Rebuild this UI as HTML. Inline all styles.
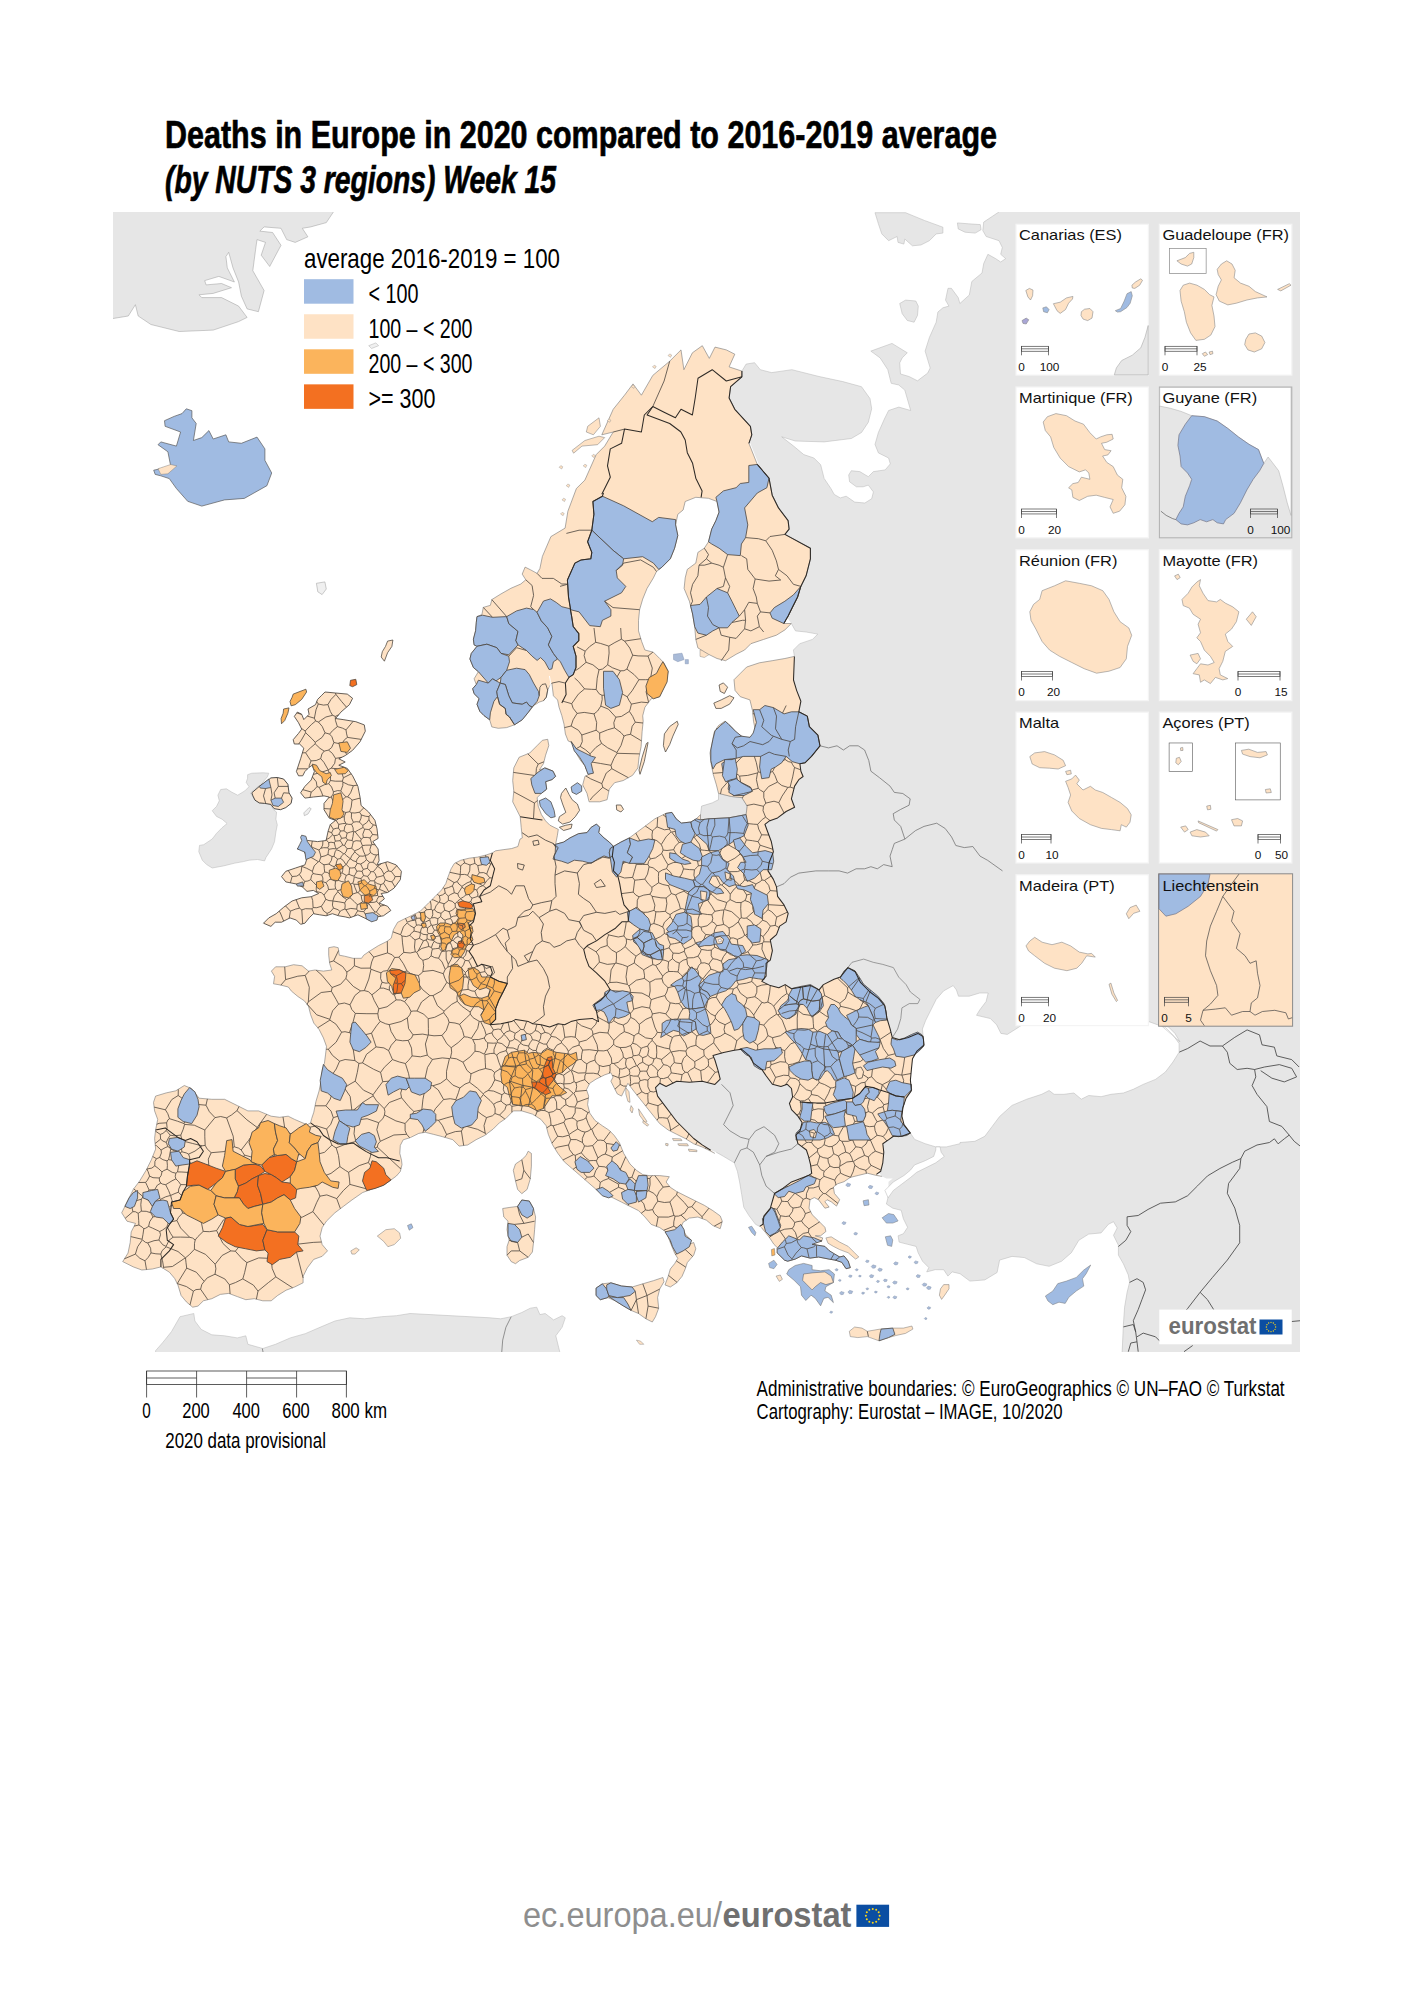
<!DOCTYPE html>
<html><head><meta charset="utf-8"><title>Deaths in Europe in 2020 compared to 2016-2019 average</title>
<style>html,body{margin:0;padding:0;background:#fff}svg{display:block}text{font-family:"Liberation Sans",sans-serif}</style>
</head><body>
<svg width="1414" height="2000" viewBox="0 0 1414 2000">
<rect width="1414" height="2000" fill="#fff"/>
<defs><clipPath id="mapclip"><rect x="113" y="212" width="1187" height="1140"/></clipPath></defs>
<g clip-path="url(#mapclip)">
<polygon points="111.3,209.9 334.8,209.9 326.3,222.6 310.7,226.9 302.3,228.3 307.9,236.8 295.2,242.4 286.7,239.6 281,228.3 264.1,226.9 259.8,231.1 272.6,232.5 281,245.3 269.7,266.5 261.2,255.2 265.5,242.4 257,239.6 255.6,249.5 252.8,270.7 264.1,290.5 258.4,311.7 247.1,308.9 241.4,296.2 238.6,282 233,267.9 228.7,252.3 225.9,256.6 227.3,267.9 234.4,282 218.8,276.4 204.7,280.6 206.1,284.9 221.6,283.5 231.5,287.7 213.2,293.4 199,294.8 201.8,297.6 221.6,297.6 238.6,306.1 247.1,317.4 238.6,321.6 213.2,330.1 179.2,331.5 150.9,324.5 138.2,316 135.4,304.7 128.3,316 111.3,318.8" fill="#e6e6e6" stroke="#9a9a9a" stroke-width="0.5" stroke-linejoin="round"/>
<polygon points="247.6,774.7 251.8,773.2 263.2,772.8 268.8,773.2 267.4,776.8 260.3,785.3 257.5,786.7 250.4,793 254.7,799.4 259.6,803.6 266,802.9 270.9,805.1 273.1,809.3 276.6,812.1 275.9,819.2 277.3,824.9 275.9,831.9 274.5,841.8 271.6,848.9 266,857.4 264.6,860.9 257.5,859.5 249,860.2 243.4,861.6 234.9,863.1 223.6,865.9 212.2,868 206.6,864.5 202.3,860.2 198.8,851.7 199.5,845.4 203.7,844.7 212.2,839 216.5,833.4 222.1,827.7 227.1,823.5 222.1,819.2 216.5,816.4 212.2,810.7 216.5,806.5 219.3,800.8 217.9,795.2 220.7,789.5 226.4,788.8 232,792.3 237.7,795.2 244.8,790.9 249,786.7 246.2,782.4 247.6,778.2" fill="#e6e6e6" stroke="#b5b5b5" stroke-width="0.5" stroke-linejoin="round"/>
<polygon points="875,212.7 905.6,212.7 924.3,220.4 942.9,227.2 942.9,233.1 936.2,233.9 929.4,240.7 920.9,245 912.4,245.8 904.8,239 903.9,244.1 898,242.4 897.1,236.5 888.6,240.7 881.8,233.9 878.4,223.8" fill="#e6e6e6" stroke="#b5b5b5" stroke-width="0.5" stroke-linejoin="round"/>
<polygon points="957.4,222.9 968.4,223.8 980.3,224.6 981.1,229.7 975.2,233.1 965,232.2 958.2,228.9" fill="#e6e6e6" stroke="#b5b5b5" stroke-width="0.5" stroke-linejoin="round"/>
<polygon points="899.7,303.5 905.6,300.1 915.8,301 918.3,306.1 917.5,315.4 914.1,322.2 907.3,320.5 902.2,313.7" fill="#e6e6e6" stroke="#b5b5b5" stroke-width="0.5" stroke-linejoin="round"/>
<polygon points="701.6,806.1 712.2,802.9 718.5,799.7 718.5,793.4 731.3,796.5 741.9,797.6 747.2,806.1 746.1,814.6 729.1,817.8 709,818.8 700.5,819.9 700.5,814.6" fill="#e6e6e6" stroke="#aaa" stroke-width="0.5" stroke-linejoin="round"/>
<polygon points="741.9,371.1 746.1,364.1 754.6,362.7 760.3,369.7 771.6,372.6 780,371.4 791.9,369.7 819,376.5 842.8,381.6 861.5,386.7 870,398.6 871.7,408.8 868.3,422.3 861.5,432.5 851.3,438.5 824.1,441.9 795.3,441 781.7,436.8 793.6,446.1 803.8,454.6 813.9,458 820.7,464.8 824.1,478.4 830.9,488.5 834.3,494.5 840.3,497.9 846.2,496.2 854.7,502.1 864.9,503 871.7,498.7 873.4,491.9 868.3,485.1 863.2,486.8 856.4,486.8 849.6,481.8 848.7,475 851.3,470.7 859.8,471.6 868.3,476.7 873.4,471.6 885.2,469.9 890.3,463.9 888.6,458 878.4,452.9 875,444.4 878.4,432.5 884.4,419 888.6,410.5 898.8,407.1 910.7,410.5 904.8,390.1 898.8,385 891.2,383.3 887.8,369.7 880.1,357.9 870.8,351.1 892,343.4 907.3,352.8 902.2,357.9 899.7,362.9 900.5,374 909,376.5 917.5,380.8 927.7,373.1 930.2,368 925.1,351.1 929.4,337.5 936.2,322.2 937.9,312 942.9,307.8 948.9,306.1 945.5,300.1 948,288.3 951.4,288.3 958.2,297.6 959.9,303.5 969.3,295 971.8,281.5 982,273 983.7,263.6 987.9,254.3 995.6,258.6 1000.7,262 1005.7,258.6 1000.7,254.3 1002.3,247.5 999,240.7 986.2,236.5 982.8,230.6 983.7,222.1 999,211.9 1300,212 1300,1352 1122.1,1352.9 1123.4,1324.5 1124.6,1307.1 1127.1,1292.3 1129.6,1282.4 1128.3,1275 1123.4,1263.8 1118.4,1255.1 1118.4,1245.2 1113.5,1235.3 1117.2,1227.9 1113.5,1221.7 1108.5,1224.2 1101.1,1232.9 1088.7,1234.1 1078.8,1240.3 1071.4,1252.7 1061.5,1261.3 1049.1,1266.3 1036.7,1263.8 1024.4,1257.6 1012,1256.4 999.6,1260.1 997.1,1272.5 984.8,1279.9 969.9,1281.1 960,1273.7 952.2,1271.9 947.9,1276.1 943.7,1269.7 935.2,1269.7 926.7,1271.9 928.8,1267.6 922.5,1261.2 918.2,1252.8 916.1,1246.4 907.6,1244.3 899.1,1242.1 898.1,1235.8 903.4,1233.7 907.6,1227.3 903.4,1218.8 901.2,1210.3 892.8,1208.2 886.4,1204 888.5,1195.5 888.5,1181.7 892.8,1178.5 886.4,1178.5 882.1,1176.4 860,1150 860,1100 850,1020 800,1000 755,985 760,950 765,900 760,840 770,800 790,760 795,720 790,690 794.4,656.4 793.4,650 799.7,643.7 812.5,639.4 817.8,634.1 806.1,632 795.5,630.9 791.3,623.5 775,600 780,540 765,480 745,430 725,390" fill="#e6e6e6"/>
<polygon points="710.7,1150.2 702.2,1144.9 693.7,1138.5 685.2,1130 676.7,1121.5 670.3,1113 664,1104.6 657.6,1096.1 655.5,1087.6 659.7,1083.3 666.1,1086.5 676.7,1081.2 689.4,1082.3 702.2,1081.2 714.9,1084.4 720.2,1079.1 718.1,1070.6 714.9,1060 713,1055.6 723.6,1052.4 734.3,1050.3 741.7,1049.3 749.1,1055.6 753.4,1063.1 761.8,1069.4 766.1,1075.8 772.4,1084.3 780.9,1086.4 787.3,1084.3 791.5,1088.5 792.6,1097 789.4,1103.4 791.5,1109.7 797.9,1116.1 802.1,1122.5 800,1130.9 795.8,1135.2 797.9,1143.7 806.4,1150 808.5,1156.4 810.6,1164.9 811.7,1173.4 808.5,1175.5 800,1178.7 791.5,1181.9 783.1,1188.2 774.6,1193.5 772.4,1201 770.3,1208.4 764,1215.8 762.9,1224.3 759.7,1226.4 755.5,1224.3 749.1,1215.8 743.8,1207.3 741.7,1194.6 739.6,1181.9 737.4,1171.3 734.3,1162.8 723.6,1156.4 716.2,1152.2" fill="#e6e6e6"/>
<polygon points="155.6,1352.8 155.6,1350.7 163,1342.2 171.5,1331.6 180,1316.7 193.8,1313.5 194.9,1321 201.2,1329.4 211.8,1334.8 224.6,1335.8 237.3,1337.9 245.8,1335.8 247.9,1344.3 262.8,1348.5 275.5,1344.3 290.3,1337.9 305.2,1333.7 320,1327.3 334.9,1321 349.7,1317.8 364.6,1318.8 381.6,1316.7 396.4,1315.7 410,1313.5 490,1317.8 500.6,1318.8 511.2,1316.7 521.8,1312.5 530.3,1308.2 536.7,1307.2 539.9,1314.6 545.2,1313.5 553.6,1319.9 562.1,1315.7 565.3,1317.8 562.1,1327.3 555.8,1335.8 557.9,1344.3 560,1352.8" fill="#e6e6e6" stroke="#b5b5b5" stroke-width="0.5" stroke-linejoin="round"/>
<polygon points="316.4,583.3 324.9,581.9 326.3,589 322.1,594.6 317.8,591.8" fill="#f0f0f0" stroke="#999" stroke-width="0.5" stroke-linejoin="round"/>
<polygon points="368.7,345.7 375.8,342.9 378.6,345.7 371.6,348.5" fill="#f0f0f0" stroke="#999" stroke-width="0.4" stroke-linejoin="round"/>
<polyline points="741.9,371.1 746.1,364.1 754.6,362.7 760.3,369.7 771.6,372.6 780,371.4 791.9,369.7 819,376.5 842.8,381.6 861.5,386.7 870,398.6 871.7,408.8 868.3,422.3 861.5,432.5 851.3,438.5 824.1,441.9 795.3,441 781.7,436.8 793.6,446.1 803.8,454.6 813.9,458 820.7,464.8 824.1,478.4 830.9,488.5 834.3,494.5 840.3,497.9 846.2,496.2 854.7,502.1 864.9,503 871.7,498.7 873.4,491.9 868.3,485.1 863.2,486.8 856.4,486.8 849.6,481.8 848.7,475 851.3,470.7 859.8,471.6 868.3,476.7 873.4,471.6 885.2,469.9 890.3,463.9 888.6,458 878.4,452.9 875,444.4 878.4,432.5 884.4,419 888.6,410.5 898.8,407.1 910.7,410.5 904.8,390.1 898.8,385 891.2,383.3 887.8,369.7 880.1,357.9 870.8,351.1 892,343.4 907.3,352.8 902.2,357.9 899.7,362.9 900.5,374 909,376.5 917.5,380.8 927.7,373.1 930.2,368 925.1,351.1 929.4,337.5 936.2,322.2 937.9,312 942.9,307.8 948.9,306.1 945.5,300.1 948,288.3 951.4,288.3 958.2,297.6 959.9,303.5 969.3,295 971.8,281.5 982,273 983.7,263.6 987.9,254.3 995.6,258.6 1000.7,262 1005.7,258.6 1000.7,254.3 1002.3,247.5 999,240.7 986.2,236.5 982.8,230.6 983.7,222.1 999,211.9" fill="none" stroke="#b5b5b5" stroke-width="0.5" stroke-linejoin="round"/>
<polyline points="1122.1,1352.9 1123.4,1324.5 1124.6,1307.1 1127.1,1292.3 1129.6,1282.4 1128.3,1275 1123.4,1263.8 1118.4,1255.1 1118.4,1245.2 1113.5,1235.3 1117.2,1227.9 1113.5,1221.7 1108.5,1224.2 1101.1,1232.9 1088.7,1234.1 1078.8,1240.3 1071.4,1252.7 1061.5,1261.3 1049.1,1266.3 1036.7,1263.8 1024.4,1257.6 1012,1256.4 999.6,1260.1 997.1,1272.5 984.8,1279.9 969.9,1281.1 960,1273.7 952.2,1271.9 947.9,1276.1 943.7,1269.7 935.2,1269.7 926.7,1271.9 928.8,1267.6 922.5,1261.2 918.2,1252.8 916.1,1246.4 907.6,1244.3 899.1,1242.1 898.1,1235.8 903.4,1233.7 907.6,1227.3 903.4,1218.8 901.2,1210.3 892.8,1208.2 886.4,1204 888.5,1195.5" fill="none" stroke="#b5b5b5" stroke-width="0.5" stroke-linejoin="round"/>
<polyline points="794.4,656.4 793.4,650 799.7,643.7 812.5,639.4 817.8,634.1 806.1,632 795.5,630.9 791.3,623.5" fill="none" stroke="#b5b5b5" stroke-width="0.5" stroke-linejoin="round"/>
<polyline points="759.7,1226.4 755.5,1224.3 749.1,1215.8 743.8,1207.3 741.7,1194.6 739.6,1181.9 737.4,1171.3 734.3,1162.8 723.6,1156.4 716.2,1152.2" fill="none" stroke="#b5b5b5" stroke-width="0.5" stroke-linejoin="round"/>
<polyline points="721.5,1084.3 730,1092.8 733.2,1105.5 727.9,1116.1 723.6,1124.6 730,1130.9 740.6,1137.3 749.1,1139.4 747,1147.9 740.6,1150 734.3,1162.8" fill="none" stroke="#555" stroke-width="0.6" stroke-linejoin="round"/>
<polyline points="749.1,1139.4 755.5,1130.9 764,1126.7 774.6,1135.2 778.8,1143.7 774.6,1152.2 766.1,1156.4 759.7,1164.9 761.8,1175.5 766.1,1186.1 774.6,1193.5" fill="none" stroke="#555" stroke-width="0.6" stroke-linejoin="round"/>
<polyline points="747,1147.9 753.4,1152.2 759.7,1164.9" fill="none" stroke="#555" stroke-width="0.6" stroke-linejoin="round"/>
<polyline points="766.1,1156.4 778.8,1152.2 791.5,1149 797.9,1143.7" fill="none" stroke="#555" stroke-width="0.6" stroke-linejoin="round"/>
<polyline points="820,745.8 828.5,747.9 837,745.8 843.4,750 849.7,745.8 858.2,745.8 864.6,750 868.8,760.6 870.9,771.2 879.4,777.6 890,786.1 894.3,792.4 902.8,793.5 910.2,798.8 909.1,805.2 900.7,809.4 893.2,813.7 894.3,820 900.7,826.4 904.9,839.1 894.3,843.4 892.2,849.7 890,856.1 892.2,866.7 883.7,864.6 877.3,868.8 870.9,866.7 864.6,868.8 856.1,868.8 847.6,873.1 839.1,870.9 828.5,870.9 815.8,870.9 798.8,873.1 790.3,877.3 784,883.7 776.5,886.9" fill="none" stroke="#666" stroke-width="0.7" stroke-linejoin="round"/>
<polyline points="904.9,839.1 915.5,830.6 924,826.4 936.7,823.2 945.2,828.5 951.6,837 955.8,845.5 964.3,847.6 972.8,846.5 980,856.1 987.6,860.3 1002.5,870.9" fill="none" stroke="#666" stroke-width="0.7" stroke-linejoin="round"/>
<polyline points="262.3,1348.5 263.2,1352.8" fill="none" stroke="#555" stroke-width="0.6" stroke-linejoin="round"/>
<polyline points="511.2,1316.7 505.9,1327.3 502.7,1340.1 501.7,1352.8" fill="none" stroke="#555" stroke-width="0.6" stroke-linejoin="round"/>
<polyline points="847.8,967.6 852,962.3 863.7,959.1 873.2,962.3 882.8,964.4 893.4,967.6 898.7,977.1 906.1,984.6 910.4,992 919.9,999.4 917.8,1003.6 909.3,1003.6 901.9,1007.9 900.8,1018.5 897.6,1029.1 892.3,1037.6" fill="none" stroke="#666" stroke-width="0.6" stroke-linejoin="round"/>
<polyline points="1118.4,1246.5 1125.8,1240.3 1130.8,1231.6 1127.1,1225.4 1127.1,1216.8 1138.2,1215.5 1148.1,1209.4 1160.5,1203.2 1175.3,1201.9 1187.7,1195.7 1197.6,1185.8 1207.5,1175.9 1219.9,1168.5 1232.3,1162.3 1240.9,1158.6 1244.7,1151.2 1257,1145 1269.4,1142.5 1274.4,1138.8 1278.1,1143.8 1284.3,1138.8 1289.2,1135.1" fill="none" stroke="#444" stroke-width="0.85" stroke-linejoin="round"/>
<polyline points="1289.2,1135.1 1281.8,1126.4 1269.4,1121.5 1266.9,1106.6 1257,1094.3 1252.1,1085.6 1255.8,1076.9 1254.6,1069.5" fill="none" stroke="#444" stroke-width="0.85" stroke-linejoin="round"/>
<polyline points="1179.1,1052.2 1187.7,1048.5 1200.1,1041 1210,1046 1222.4,1046 1227.3,1052.2 1229.8,1063.3 1237.2,1069.5 1247.1,1068.3 1254.6,1069.5" fill="none" stroke="#444" stroke-width="0.85" stroke-linejoin="round"/>
<polyline points="1222.4,1046 1234.8,1037.3 1247.1,1029.9 1259.5,1034.9 1262,1044.8 1274.4,1047.2 1276.8,1055.9 1291.7,1059.6 1299.1,1067" fill="none" stroke="#444" stroke-width="0.85" stroke-linejoin="round"/>
<polyline points="1254.6,1069.5 1264.5,1067 1279.3,1064.6 1291.7,1068.3 1296.6,1076.9 1284.3,1081.9 1271.9,1078.2 1260.7,1070.7" fill="none" stroke="#444" stroke-width="0.85" stroke-linejoin="round"/>
<polyline points="1240.9,1158.6 1239.7,1168.5 1228.6,1183.4 1227.3,1193.3 1234.8,1208.1 1239.7,1225.4 1239.7,1242.8 1227.3,1260.1 1212.5,1277.4 1200.1,1292.3 1187.7,1308.4 1177.8,1319.5" fill="none" stroke="#444" stroke-width="0.85" stroke-linejoin="round"/>
<polyline points="1289.2,1135.1 1294.2,1141.3 1300.3,1146.2" fill="none" stroke="#444" stroke-width="0.85" stroke-linejoin="round"/>
<polyline points="1200.1,1292.3 1207.5,1299.7 1213.7,1309.6" fill="none" stroke="#444" stroke-width="0.85" stroke-linejoin="round"/>
<polyline points="1129.6,1282.4 1137,1278.7 1143.2,1282.4 1145.6,1289.8 1141.9,1299.7 1138.2,1309.6 1133.3,1320.7 1135.7,1331.9" fill="none" stroke="#444" stroke-width="0.85" stroke-linejoin="round"/>
<polyline points="1123.4,1326.9 1133.3,1324.5 1135.7,1331.9 1137,1341.8 1138.2,1351.7" fill="none" stroke="#444" stroke-width="0.85" stroke-linejoin="round"/>
<polyline points="1137,1336.8 1143.2,1333.1 1155.5,1336.8 1160.5,1341.8" fill="none" stroke="#444" stroke-width="0.85" stroke-linejoin="round"/>
<polyline points="1128.3,1351.7 1130.8,1343 1137,1341.8" fill="none" stroke="#444" stroke-width="0.85" stroke-linejoin="round"/>
<polyline points="1184,1351.7 1192.7,1345.5" fill="none" stroke="#444" stroke-width="0.85" stroke-linejoin="round"/>
<polyline points="1291.7,1321.5 1300.3,1320.7" fill="none" stroke="#444" stroke-width="0.85" stroke-linejoin="round"/>
<polygon points="923.5,1039.7 922.4,1029.1 925.6,1020.6 930.9,1010 936.2,999.4 943.6,990.9 953.2,985.6 956.4,989.9 958.5,996.2 969.1,996.2 979.7,993 988.2,993 986.1,1001.5 979.7,1010 976.5,1015.3 990.3,1018.5 996.7,1024.9 1000.9,1033.4 1007.3,1034.4 1015.8,1029.1 1028.5,1020.6 1070.9,1016.4 1134.6,1016.4 1157.9,1024.9 1168.5,1027 1174.9,1033.4 1180,1041.8 1160.5,1025 1165.4,1027.4 1172.9,1034.9 1179.1,1043.5 1179.1,1052.2 1172.9,1062.1 1165.4,1072 1155.5,1079.4 1143.2,1084.4 1133.3,1089.3 1123.4,1093 1111,1094.3 1101.1,1096.7 1088.7,1095.5 1081.3,1099.2 1073.9,1093 1064,1094.3 1054.1,1094.3 1049.1,1090.5 1041.7,1094.3 1026.8,1099.2 1012,1105.4 999.6,1116.5 992.2,1126.4 984.8,1136.3 974.9,1141.3 960,1142.5 960,1143.7 946.4,1146.9 940.1,1146.9 935.8,1146.9 925.2,1143.7 914.6,1139.4 910.4,1133.1 901.9,1126.7 899.7,1116.1 900.8,1107.6 904,1098.1 909.3,1090.6 908.2,1080 909.3,1069.4 910.4,1058.8 914.6,1051.4 922,1045" fill="#fff" stroke="#b5b5b5" stroke-width="0.5" stroke-linejoin="round"/>
<polygon points="935.8,1146.9 940.1,1146.9 941.1,1152.2 944.3,1156.4 935.8,1162.8 925.2,1168.1 916.7,1172.3 910.4,1177.6 901.9,1184 893.4,1190.4 888.1,1197.8 884.9,1190.4 893.4,1181.9 904,1175.5 910.4,1170.2 914.6,1164.9 925.2,1160.7 933.7,1156.4 935.8,1150" fill="#fff" stroke="#b5b5b5" stroke-width="0.5" stroke-linejoin="round"/>
<polygon points="325,692 335.6,693 347.3,694.1 352.6,698.3 349.4,704.7 340.9,712.1 335.6,718.5 343.1,719.6 355.8,721.7 364.3,724.9 365.3,731.2 360,741.8 352.6,750.3 345.2,755.6 338.8,758.8 345.2,762 338.8,765.2 347.3,768.4 352.6,775.8 357.9,786.4 360,797 361.1,805.5 368.5,811.9 374.9,820.3 377,828.8 378.1,838.4 372.8,841.6 378.1,849 379.1,860.7 377,864.9 387.6,861.7 396.1,864.9 401.4,871.3 400.3,879.7 394,888.2 387.6,892.5 381.2,893.5 384.4,898.8 379.1,903.1 387.6,906.3 390.8,910.5 383.4,915.8 377,916.9 371.7,921.1 364.3,917.9 357.9,914.8 349.4,917.9 345.2,916.9 338.8,915.8 332.4,913.7 326.1,915.8 319.7,914.8 313.4,913.7 309.1,917.9 304.9,923.2 300.6,924.3 296.4,920.1 290,917.9 281.5,922.2 275.2,922.2 270.9,926.4 263.5,923.2 268.8,917.9 276.2,913.7 283.6,907.3 292.1,901 301.7,897.8 311.2,896.7 318.7,893.5 313.4,890.4 307,891.4 302.7,887.2 296.4,884 285.8,881.9 281.5,876.6 285.8,871.3 295.3,868.1 304.9,864.9 307,858.5 303.8,850 297.4,849 301.7,843.7 308,840.5 317.6,841.6 326.1,840.5 328.2,830.9 330.3,824.6 335.6,820.3 329.3,818.2 324,809.7 324,803.4 329.3,797 324,795.9 313.4,797 304.9,798.1 300.6,792.8 304.9,786.4 311.2,780 314.4,771.5 312.3,765.2 309.1,767.3 304.9,771.5 302.7,775.8 298.5,775.8 296.4,771.5 300.6,758.8 303.8,748.2 299.6,744 294.3,744 293.2,739.7 298.5,733.4 301.7,729.1 298.5,722.7 294.3,716.4 297.4,712.1 301.7,714.3 303.8,719.6 309.1,714.3 308,709 315.5,704.7 317.6,699.4 321.8,695.2" fill="#fee2c5" stroke="#4a443e" stroke-width="0.85" stroke-linejoin="round"/>
<polygon points="251.8,792.8 259.3,786.4 265.6,782.1 270.9,777.9 277.3,777.5 283.6,779 287.9,784.3 289,792.8 292.1,798.1 291.1,803.4 285.8,807.6 280.5,809.7 274.1,808.7 270.9,804.4 264.6,803.4 259.3,802.9 255,800.2 252.9,795.9" fill="#fee2c5" stroke="#222" stroke-width="0.8" stroke-linejoin="round"/>
<polygon points="700,650 708.5,649 709.6,654.3 704.3,657.5 700,656.4" fill="#fee2c5" stroke="#777" stroke-width="0.4" stroke-linejoin="round"/>
<polygon points="719.1,685 723.4,682.9 727.6,687.2 724.4,693.5 720.2,691.4" fill="#fee2c5" stroke="#4a443e" stroke-width="0.75" stroke-linejoin="round"/>
<polygon points="713.8,703.1 721.2,699.9 729.7,695.7 734,697.8 729.7,704.1 721.2,708.4 715.9,708.4" fill="#fee2c5" stroke="#4a443e" stroke-width="0.75" stroke-linejoin="round"/>
<polygon points="646.4,743.5 648.1,742.4 644.3,761.5 640,774.3 639,770 642.1,757.3" fill="#fee2c5" stroke="#4a443e" stroke-width="0.75" stroke-linejoin="round"/>
<polygon points="664.4,733.9 669.7,726.5 677.2,721.2 678.2,724.4 672.9,736.1 669.7,744.6 665.5,752 663.4,745.6" fill="#fee2c5" stroke="#4a443e" stroke-width="0.75" stroke-linejoin="round"/>
<polygon points="616.3,805 620.9,805 623.5,809.3 620.9,812 616.7,809.9" fill="#fee2c5" stroke="#4a443e" stroke-width="0.75" stroke-linejoin="round"/>
<polygon points="561.5,793.4 565.8,788 569,794.4 572.1,799.7 577.4,804 579.6,810.3 575.3,816.7 570,822 562.6,824.1 558.3,820.9 559.4,816.7 565.8,812.4 562.6,804 560.5,797.6" fill="#fee2c5" stroke="#4a443e" stroke-width="0.75" stroke-linejoin="round"/>
<polygon points="559.4,827.3 565.8,825.2 572.1,824.1 571.1,828.4 563.6,830.5" fill="#fee2c5" stroke="#4a443e" stroke-width="0.75" stroke-linejoin="round"/>
<polygon points="741.9,371.1 729.1,366.9 734.8,354.2 726.3,349.9 715,347.1 709.3,358.4 702.3,345.7 692.4,352.8 683.9,369.7 681,349.9 669.7,361.2 652.8,375.4 641.4,395.2 633,383.9 624.5,395.2 613.2,409.3 601.8,434.8 613.2,432 604.7,446.1 596.2,454.6 584.9,480.1 576.4,488.5 567.9,511.2 565.1,528.1 550.9,536.6 542.4,556.4 539.9,568.5 537.1,573.4 530.7,569.9 525.1,567.1 522.2,574.1 525.8,579.8 520.8,584 510.9,588.3 501,593.9 491.8,599.6 490.4,605.3 483.3,607.4 481.9,614.5 477,616.6 476.3,622.2 475.6,630.7 473.4,639.2 474.1,644.9 477,646.3 471.3,653.4 469.9,659 473.4,667.5 478.4,671.7 474.1,678.8 476.3,684.5 472.7,688.7 474.1,693.7 479.1,698.6 477,704.3 479.8,711.3 484,715.6 489.7,719.8 491.8,726.9 498.2,728.3 506.7,727.6 514.5,724.8 522.2,719.8 529.3,711.3 533.6,705.7 539.2,702.1 543.5,700.7 546.3,697.2 547.7,690.1 550.5,684.5 551.9,683.1 553.4,695.8 557.6,700 559,707.1 561.8,715.6 564,724.1 565.4,734 568.2,741 571.7,742.5 574.6,748.1 577.4,755.2 580.2,760 584.9,765.8 588,773.2 593.4,772.1 584.9,776.4 582.7,784.9 587,793.4 589.1,801.8 599.7,801.8 607.1,799.7 609.3,789.1 614.6,782.7 623.1,780.6 632.6,775.3 637.9,767.9 639,757.3 641.1,746.7 642.1,731.8 643.2,721.2 642.7,715.8 644.9,707.3 651.2,698.8 659.7,696.7 666.1,681.9 668.2,671.3 664,662.8 659.7,658.5 653.4,652.2 644.9,650 641.7,641.6 638.5,630.9 638.5,620.3 639.6,609.7 642.7,599.1 647,588.5 653.4,577.9 656.5,571.5 661.8,567.3 670.3,558.8 674.6,548.2 677.8,535.5 675.6,524.9 677.8,514.3 683.1,510 685.2,501.5 695.8,497.3 708.5,498.3 717,501.5 719.1,512.1 715.9,520.6 711.7,529.1 708.5,541.8 704.3,548.2 697.9,552.4 695.8,563.1 687.3,569.4 685.2,577.9 684.1,588.5 689.4,601.2 692.6,614 694.7,626.7 695.8,639.4 697.9,647.9 708.5,654.3 717,658.5 725.5,660.7 736.1,654.3 744.6,650 750.9,643.7 763.7,639.4 776.4,635.2 784.9,629.9 791.3,623.5 783.8,623.5 788.1,616.1 792.3,607.6 797.6,597 800.8,586.4 806.1,575.8 810.4,558.8 810.4,548.2 784.9,534.4 789.1,529.1 788.1,520.6 778.5,507.9 772.2,495.2 769,478.2 757.3,464.4 748.9,443.3 751.8,434.8 750.4,426.3 734.8,409.3 729.1,398 730.6,386.7 741.9,376.8" fill="#fee2c5" stroke="#777777" stroke-width="0.6" stroke-linejoin="round"/>
<polygon points="572.1,450.4 584.9,440.5 599,436.2 604.7,437.6 597.6,444.7 582,446.1 573.6,453.2" fill="#fee2c5" stroke="#777777" stroke-width="0.5" stroke-linejoin="round"/>
<polygon points="587.7,426.3 599,417.8 600.4,426.3 593.4,434.8 586.3,432" fill="#fee2c5" stroke="#777777" stroke-width="0.5" stroke-linejoin="round"/>
<polygon points="794.4,656.4 784.9,658.5 772.2,660.7 759.4,662.8 746.7,667 740.3,673.4 734,679.7 735,690.4 740.3,696.7 749.9,699.9 752.5,710.6 753.5,721.2 755.7,731.8 753.5,737.1 746.1,738.2 737.6,733.9 731.3,726.5 724.9,721.2 718.5,725.5 714.3,731.8 712.2,742.4 710,753 711.1,763.6 713.2,774.3 716.4,784.9 718.5,793.4 731.3,796.5 741.9,797.6 747.2,806.1 746.1,814.6 729.1,817.8 709,818.8 700.5,819.9 700.5,814.6 696.3,818.8 690.9,822 681.4,823.1 676.1,818.8 671.9,812.4 665.5,813.5 654.9,818.8 646.4,825.2 637.9,831.5 629.4,837.9 620.9,842.1 613.5,846.4 609.3,842.1 604,837.9 598.7,832.6 599.7,827.3 596.5,824.1 591.2,827.3 587,832.6 578.5,833.7 570,837.9 563.6,842.1 555.6,844.3 557.3,835.8 558.3,829.4 554.1,827.3 549.9,825.2 545.6,820.9 541.4,814.6 538.2,806.1 537.1,797.6 541.4,793.4 546.7,789.1 545.6,781.7 552,779.6 555.6,776.4 553,771.1 545.6,767.9 539.3,770 543.5,763.6 545.6,755.2 548.8,745.6 547.7,739.3 542.4,740.3 537.1,745.6 529.7,753 519.1,757.3 513.8,767.9 512.7,780.6 513.8,791.2 512.7,801.8 517,810.3 520.2,816.7 521.2,827.3 522.3,837.9 520,839.1 517.9,846.5 511.5,848.6 503.1,849.7 495.6,850.8 492.4,852.9 486.1,855 477.6,857.1 469.1,858.2 460.6,860.3 454.3,863.5 451.1,868.8 447.9,877.3 445.8,883.6 441.5,890 435.2,896.4 428.8,902.7 420.3,911.2 411.8,915.5 404,919.1 397.6,922.3 393.4,929.7 391.2,938.2 387,941.4 378.5,945.6 370,950.9 363.7,955.2 361.5,958.3 353.1,958.3 344.6,956.2 339.3,955.2 338.2,947.7 334,946.7 328.7,947.7 328.7,955.2 329.7,963.6 331.8,970 323.4,971.1 314.9,970 308.5,971.1 302.1,965.8 293.6,964.7 285.2,966.8 275.6,966.8 271.4,971.1 274.6,976.4 273.5,983.8 279.9,984.9 288.3,987 291.5,991.2 297.9,996.5 304.3,1000.8 308.5,1006.1 310.6,1014.6 313.8,1023.1 319.1,1029.4 323.4,1037.9 326.5,1046.4 325.5,1054.9 324.4,1063.4 322.3,1069.7 321.2,1080.3 319.1,1090.9 315.9,1101.6 313.8,1112.2 311.7,1118.5 310.6,1122.8 307.3,1124.7 302,1122.6 294.6,1119.4 288.2,1116.2 279.7,1117.3 271.2,1116.2 258.5,1110.9 247.9,1110.9 237.3,1105.6 224.6,1099.3 211.8,1099.3 199.1,1098.2 191.7,1088.6 184.3,1085.5 175.8,1090.8 166.2,1092.9 155.6,1096.1 153.5,1102.4 154.6,1110.9 157.7,1119.4 155.6,1130 154.6,1138.5 155.6,1149.1 151.4,1159.7 146.1,1170.3 139.7,1180.9 133.3,1189.4 129.1,1197.9 124.9,1206.4 121.7,1212.8 127,1221.2 135.5,1223.4 131.2,1231.9 130.2,1242.5 128,1253.1 122.7,1261.6 133.3,1266.9 141.8,1270 152.4,1269 160.9,1266.9 169.4,1272.2 174.7,1278.5 177.9,1284.9 181.1,1295.5 186.4,1301.9 192.7,1307.2 198,1306.1 203.4,1300.8 211.8,1298.7 220.3,1294.4 228.8,1293.4 237.3,1296.6 245.8,1299.7 254.3,1298.7 262.8,1300.8 271.2,1300.8 277.6,1295.5 286.1,1290.2 294.6,1287 303.1,1282.8 303.1,1276.4 307.3,1267.9 313.7,1259.4 322.2,1256.3 327.5,1250.9 322.2,1244.6 320,1236.1 322.2,1227.6 326.4,1221.2 334.9,1212.8 343.4,1206.4 351.9,1200 362.5,1192.6 371,1189.4 383.7,1185.2 391.1,1179.9 396.4,1176 400.3,1171.5 402,1164.7 401.5,1160.2 399.8,1153.4 400.3,1145.4 403.2,1139.8 410.3,1137.6 418.8,1133.4 425.2,1132.3 433.7,1134.4 442.2,1136.6 452.8,1139.7 459.1,1146.1 467.6,1145 476.1,1139.7 484.6,1135.5 493.1,1129.1 499.4,1122.8 505.8,1118.5 513.3,1110.9 521.8,1110.9 532.4,1114.1 540.9,1119.4 546.2,1125.8 548.3,1134.3 552.6,1144.9 557.9,1153.4 564.3,1161.8 571.7,1168.2 579.1,1174.6 587.6,1182 596.1,1189.4 604.6,1194.7 613.1,1197.9 621.5,1202.1 630,1206.4 638.5,1210.6 644.9,1217 651.2,1224.4 659.7,1227.6 666.1,1231.9 670.3,1242.5 674.6,1253.1 677.8,1258.4 674.6,1263.7 670.3,1269 668.2,1276.4 665,1284.9 670.3,1287 676.7,1282.8 682,1276.4 685.2,1269 687.3,1262.6 693.7,1255.2 695.8,1248.8 693.7,1242.5 688.4,1244.6 690.5,1239.3 685.2,1234 680.9,1227.6 683.1,1222.3 689.4,1218.1 697.9,1217 706.4,1220.2 712.8,1225.5 720.2,1228.7 722.3,1221.2 720.2,1215.9 712.8,1210.6 704.3,1205.3 695.8,1201.1 685.2,1195.8 676.7,1191.5 670.3,1187.3 666.1,1182 669.3,1176.7 659.7,1175.6 649.1,1175.6 642.8,1174.6 636.4,1170.3 630,1164 623.7,1153.4 619.4,1142.7 614.1,1135.3 608.8,1130 602.4,1125.8 595,1120.5 589.7,1113 587.6,1104.6 588.7,1096.1 586.5,1089.7 589.7,1083.3 596.1,1079.1 604.6,1074.9 610.9,1072.7 613.1,1077 610.9,1081.2 614.1,1087.6 617.3,1093.9 621.5,1096.1 624.7,1089.7 627.9,1083.3 634.3,1091.8 642.8,1102.4 651.2,1113 659.7,1123.6 668.2,1130 676.7,1134.3 685.2,1138.5 693.7,1143.8 702.2,1147 710.7,1151.2 714.9,1153.4 710.7,1150.2 702.2,1144.9 693.7,1138.5 685.2,1130 676.7,1121.5 670.3,1113 664,1104.6 657.6,1096.1 655.5,1087.6 659.7,1083.3 666.1,1086.5 676.7,1081.2 689.4,1082.3 702.2,1081.2 714.9,1084.4 720.2,1079.1 718.1,1070.6 714.9,1060 713,1055.6 723.6,1052.4 734.3,1050.3 741.7,1049.3 749.1,1055.6 753.4,1063.1 761.8,1069.4 766.1,1075.8 772.4,1084.3 780.9,1086.4 787.3,1084.3 791.5,1088.5 792.6,1097 789.4,1103.4 791.5,1109.7 797.9,1116.1 802.1,1122.5 800,1130.9 795.8,1135.2 797.9,1143.7 806.4,1150 808.5,1156.4 810.6,1164.9 811.7,1173.4 808.5,1175.5 800,1178.7 791.5,1181.9 783.1,1188.2 774.6,1193.5 772.4,1201 770.3,1208.4 764,1215.8 762.9,1224.3 759.7,1226.4 761.2,1227.3 765.5,1232.6 769.7,1237.9 773.9,1244.3 778.2,1248.5 777.1,1252.8 784.6,1260.2 787.7,1261.2 795.2,1259.1 801.5,1255.9 810,1258.1 818.5,1257 829.1,1259.1 835.5,1260.2 841.8,1262.3 846.1,1268.7 850.3,1267.6 848.2,1261.2 844,1255.9 839.7,1257 833.4,1253.8 829.1,1250.6 824.9,1246.4 812.1,1244.3 807.9,1237.9 814.3,1240 821.7,1241.1 822.7,1237.9 815.3,1235.8 820.6,1235.8 825.9,1231.5 824.9,1227.3 818.5,1220.9 812.1,1214.6 809,1208.2 810,1199.7 814.3,1197.6 818.5,1199.7 824.9,1208.2 829.1,1207.1 824.9,1201.8 827,1199.7 831.2,1201.8 836.5,1206.1 839.7,1199.7 834.4,1193.4 833.4,1187 837.6,1183.8 844,1181.7 850.3,1177.4 858.8,1175.3 867.3,1173.2 875.8,1175.3 882.1,1176.4 876.4,1174.4 880.7,1171.3 882.8,1162.8 883.8,1152.2 882.8,1143.7 889.1,1139.4 893.4,1136.3 901.9,1136.3 910.4,1133.1 904,1124.6 901.9,1116.1 902.9,1107.6 906.1,1098.1 911.4,1090.6 910.4,1080 911.4,1069.4 912.5,1058.8 916.7,1051.4 924.1,1045 923.1,1036.5 917.8,1033.4 908.2,1037.6 899.7,1039.7 892.3,1037.6 890.2,1029.1 887,1018.5 884.9,1005.8 878.5,998.3 870,992 860.5,982.4 855.2,971.8 847.8,967.6 840.3,977.1 834,979.3 823.4,984.6 819.1,989.9 810.6,985.6 797.9,987.7 791.5,988.8 785.2,984.6 778.8,987.7 770.3,985.6 761.8,981.4 766.1,976.1 766.1,963.3 770.3,960.2 772.4,950.6 770.3,940 776.5,934.6 779.7,926.1 786.1,921.9 788.2,913.4 784,904.9 777.6,896.4 776.5,886.9 773.4,879.4 768,870.9 769.1,862.5 773.4,851.9 771.2,841.2 768,832.8 764.9,824.3 769.1,821.1 777.6,817.9 786.1,811.5 794.6,807.3 791.4,798.8 794.6,786.1 798.8,779.7 803.1,776.5 800.9,771.2 799.9,763.8 805.2,762.7 811.5,756.4 820,745.8 817.9,735.2 809.4,726.7 807.3,716.1 798.8,711.8 800.9,701.2 796.7,690.6 793.5,680" fill="#fee2c5"/>
<polygon points="377.3,1236.1 385.8,1229.7 394.3,1228.7 399.6,1232.9 400.7,1238.2 394.3,1244.6 387.9,1246.7 383.7,1241.4" fill="#fee2c5" stroke="#777" stroke-width="0.5" stroke-linejoin="round"/>
<polygon points="350.8,1250.9 356.1,1247.8 359.3,1249.9 355,1254.1 351.9,1254.1" fill="#fee2c5" stroke="#777" stroke-width="0.5" stroke-linejoin="round"/>
<polygon points="596.1,1288.1 602.4,1283.8 610.9,1282.8 621.5,1286 632.1,1287 642.8,1283.8 653.4,1280.7 662.9,1277.5 664,1281.7 659.7,1289.1 657.6,1297.6 658.7,1308.2 655.5,1316.7 652.3,1322 645.9,1318.8 638.5,1313.5 631.1,1310.4 623.7,1306.1 615.2,1300.8 607.8,1297.6 600.3,1299.7 596.1,1295.5" fill="#fee2c5" stroke="#777" stroke-width="0.6" stroke-linejoin="round"/>
<polygon points="502.7,1208.5 509.1,1207.5 517.6,1206.4 521.8,1200 529.3,1201.1 533.5,1208.5 535.6,1217 534.6,1229.7 533.5,1242.5 532.4,1252 528.2,1257.3 519.7,1260.5 515.5,1263.7 511.2,1261.6 507,1255.2 507,1246.7 509.1,1240.3 507,1229.7 508,1221.2 503.8,1217" fill="#fee2c5" stroke="#777" stroke-width="0.6" stroke-linejoin="round"/>
<polygon points="528.2,1151.2 531.4,1153.4 531.4,1166.1 530.3,1178.8 527.1,1189.4 521.8,1193.7 517.6,1189.4 515.5,1180.9 513.3,1170.3 515.5,1164 521.8,1159.7 526.1,1155.5" fill="#fee2c5" stroke="#777" stroke-width="0.6" stroke-linejoin="round"/>
<polygon points="636.4,1340.1 640.6,1341.1 643.8,1344.3 639.6,1344.3" fill="#fee2c5" stroke="#777" stroke-width="0.4" stroke-linejoin="round"/>
<polygon points="825.9,1237.9 831.2,1236.8 839.7,1242.1 848.2,1246.4 854.6,1252.8 858.8,1257 855.6,1259.1 848.2,1252.8 839.7,1249.6 833.4,1246.4 828,1243.2" fill="#fee2c5" stroke="#777" stroke-width="0.5" stroke-linejoin="round"/>
<polygon points="849.3,1331.3 854.6,1327 862,1328.1 867.3,1331.3 880,1329.1 892.8,1328.1 903.4,1328.1 911.9,1326 912.9,1329.1 905.5,1333.4 895.9,1335.5 888.5,1337.6 879,1340.8 867.3,1336.6 857.8,1337.6 850.3,1336.6" fill="#fee2c5" stroke="#777" stroke-width="0.5" stroke-linejoin="round"/>
<polygon points="940.5,1288.8 943.7,1284.6 949,1284.6 949,1288.8 944.7,1295.2 941.6,1299.4 939.4,1295.2" fill="#fee2c5" stroke="#777" stroke-width="0.5" stroke-linejoin="round"/>
<polygon points="625.8,1087.6 629,1091.8 630,1102.4 627.9,1101.4 625.8,1093.9" fill="#fee2c5" stroke="#777" stroke-width="0.5" stroke-linejoin="round"/>
<polygon points="631.1,1105.6 633.2,1108.8 632.1,1113 630,1109.9" fill="#fee2c5" stroke="#777" stroke-width="0.5" stroke-linejoin="round"/>
<polygon points="638.5,1108.8 642.8,1115.2 647,1121.5 644.9,1122.6 639.6,1115.2" fill="#fee2c5" stroke="#777" stroke-width="0.5" stroke-linejoin="round"/>
<polygon points="643.2,1120.5 648.7,1124.7 647.4,1126.2 642.8,1122.6" fill="#fee2c5" stroke="#777" stroke-width="0.5" stroke-linejoin="round"/>
<polygon points="672.5,1138.5 680.9,1138.9 682,1140.6 673.5,1140.6" fill="#fee2c5" stroke="#777" stroke-width="0.5" stroke-linejoin="round"/>
<polygon points="677.8,1143.8 687.3,1143.8 688.4,1145.9 678.8,1145.5" fill="#fee2c5" stroke="#777" stroke-width="0.5" stroke-linejoin="round"/>
<polygon points="688.4,1149.1 696.9,1150.2 696.9,1151.7 689,1151.2" fill="#fee2c5" stroke="#777" stroke-width="0.5" stroke-linejoin="round"/>
<polygon points="665.7,1143.4 668.2,1143.8 667.8,1145.9 665.7,1145.3" fill="#fee2c5" stroke="#777" stroke-width="0.5" stroke-linejoin="round"/>
<polygon points="559.1,467.3 560.8,465.6 562.8,466.8 561.7,469" fill="#fee2c5" stroke="#8a8a8a" stroke-width="0.4" stroke-linejoin="round"/>
<polygon points="566.2,485.7 567.9,484 569.9,485.1 568.7,487.4" fill="#fee2c5" stroke="#8a8a8a" stroke-width="0.4" stroke-linejoin="round"/>
<polygon points="562,499.9 563.6,498.2 565.6,499.3 564.5,501.6" fill="#fee2c5" stroke="#8a8a8a" stroke-width="0.4" stroke-linejoin="round"/>
<polygon points="560.5,514 562.2,512.3 564.2,513.4 563.1,515.7" fill="#fee2c5" stroke="#8a8a8a" stroke-width="0.4" stroke-linejoin="round"/>
<polygon points="583.2,465.9 584.9,464.2 586.8,465.3 585.7,467.6" fill="#fee2c5" stroke="#8a8a8a" stroke-width="0.4" stroke-linejoin="round"/>
<polygon points="591.7,456 593.4,454.3 595.3,455.4 594.2,457.7" fill="#fee2c5" stroke="#8a8a8a" stroke-width="0.4" stroke-linejoin="round"/>
<polygon points="607.2,420.7 608.9,419 610.9,420.1 609.8,422.3" fill="#fee2c5" stroke="#8a8a8a" stroke-width="0.4" stroke-linejoin="round"/>
<polygon points="631.3,386.7 633,385 634.9,386.1 633.8,388.4" fill="#fee2c5" stroke="#8a8a8a" stroke-width="0.4" stroke-linejoin="round"/>
<polygon points="652.5,366.9 654.2,365.2 656.2,366.3 655,368.6" fill="#fee2c5" stroke="#8a8a8a" stroke-width="0.4" stroke-linejoin="round"/>
<polygon points="668,355.6 669.7,353.9 671.7,355 670.6,357.3" fill="#fee2c5" stroke="#8a8a8a" stroke-width="0.4" stroke-linejoin="round"/>
<polyline points="794.4,656.4 784.9,658.5 772.2,660.7 759.4,662.8 746.7,667 740.3,673.4 734,679.7 735,690.4 740.3,696.7 749.9,699.9 752.5,710.6 753.5,721.2 755.7,731.8 753.5,737.1 746.1,738.2 737.6,733.9 731.3,726.5 724.9,721.2 718.5,725.5 714.3,731.8 712.2,742.4 710,753 711.1,763.6 713.2,774.3 716.4,784.9 718.5,793.4 731.3,796.5 741.9,797.6 747.2,806.1 746.1,814.6 729.1,817.8 709,818.8 700.5,819.9 700.5,814.6 696.3,818.8 690.9,822 681.4,823.1 676.1,818.8 671.9,812.4 665.5,813.5 654.9,818.8 646.4,825.2 637.9,831.5 629.4,837.9 620.9,842.1 613.5,846.4 609.3,842.1 604,837.9 598.7,832.6 599.7,827.3 596.5,824.1 591.2,827.3 587,832.6 578.5,833.7 570,837.9 563.6,842.1 555.6,844.3 557.3,835.8 558.3,829.4 554.1,827.3 549.9,825.2 545.6,820.9 541.4,814.6 538.2,806.1 537.1,797.6 541.4,793.4 546.7,789.1 545.6,781.7 552,779.6 555.6,776.4 553,771.1 545.6,767.9 539.3,770 543.5,763.6 545.6,755.2 548.8,745.6 547.7,739.3 542.4,740.3 537.1,745.6 529.7,753 519.1,757.3 513.8,767.9 512.7,780.6 513.8,791.2 512.7,801.8 517,810.3 520.2,816.7 521.2,827.3 522.3,837.9 520,839.1 517.9,846.5 511.5,848.6 503.1,849.7 495.6,850.8 492.4,852.9 486.1,855 477.6,857.1 469.1,858.2 460.6,860.3 454.3,863.5 451.1,868.8 447.9,877.3 445.8,883.6 441.5,890 435.2,896.4 428.8,902.7 420.3,911.2 411.8,915.5 404,919.1 397.6,922.3 393.4,929.7 391.2,938.2 387,941.4 378.5,945.6 370,950.9 363.7,955.2 361.5,958.3 353.1,958.3 344.6,956.2 339.3,955.2 338.2,947.7 334,946.7 328.7,947.7 328.7,955.2 329.7,963.6 331.8,970 323.4,971.1 314.9,970 308.5,971.1 302.1,965.8 293.6,964.7 285.2,966.8 275.6,966.8 271.4,971.1 274.6,976.4 273.5,983.8 279.9,984.9 288.3,987 291.5,991.2 297.9,996.5 304.3,1000.8 308.5,1006.1 310.6,1014.6 313.8,1023.1 319.1,1029.4 323.4,1037.9 326.5,1046.4 325.5,1054.9 324.4,1063.4 322.3,1069.7 321.2,1080.3 319.1,1090.9 315.9,1101.6 313.8,1112.2 311.7,1118.5 310.6,1122.8 307.3,1124.7 302,1122.6 294.6,1119.4 288.2,1116.2 279.7,1117.3 271.2,1116.2 258.5,1110.9 247.9,1110.9 237.3,1105.6 224.6,1099.3 211.8,1099.3 199.1,1098.2 191.7,1088.6 184.3,1085.5 175.8,1090.8 166.2,1092.9 155.6,1096.1 153.5,1102.4 154.6,1110.9 157.7,1119.4 155.6,1130 154.6,1138.5 155.6,1149.1 151.4,1159.7 146.1,1170.3 139.7,1180.9 133.3,1189.4 129.1,1197.9 124.9,1206.4 121.7,1212.8 127,1221.2 135.5,1223.4 131.2,1231.9 130.2,1242.5 128,1253.1 122.7,1261.6 133.3,1266.9 141.8,1270 152.4,1269 160.9,1266.9 169.4,1272.2 174.7,1278.5 177.9,1284.9 181.1,1295.5 186.4,1301.9 192.7,1307.2 198,1306.1 203.4,1300.8 211.8,1298.7 220.3,1294.4 228.8,1293.4 237.3,1296.6 245.8,1299.7 254.3,1298.7 262.8,1300.8 271.2,1300.8 277.6,1295.5 286.1,1290.2 294.6,1287 303.1,1282.8 303.1,1276.4 307.3,1267.9 313.7,1259.4 322.2,1256.3 327.5,1250.9 322.2,1244.6 320,1236.1 322.2,1227.6 326.4,1221.2 334.9,1212.8 343.4,1206.4 351.9,1200 362.5,1192.6 371,1189.4 383.7,1185.2 391.1,1179.9 396.4,1176 400.3,1171.5 402,1164.7 401.5,1160.2 399.8,1153.4 400.3,1145.4 403.2,1139.8 410.3,1137.6 418.8,1133.4 425.2,1132.3 433.7,1134.4 442.2,1136.6 452.8,1139.7 459.1,1146.1 467.6,1145 476.1,1139.7 484.6,1135.5 493.1,1129.1 499.4,1122.8 505.8,1118.5 513.3,1110.9 521.8,1110.9 532.4,1114.1 540.9,1119.4 546.2,1125.8 548.3,1134.3 552.6,1144.9 557.9,1153.4 564.3,1161.8 571.7,1168.2 579.1,1174.6 587.6,1182 596.1,1189.4 604.6,1194.7 613.1,1197.9 621.5,1202.1 630,1206.4 638.5,1210.6 644.9,1217 651.2,1224.4 659.7,1227.6 666.1,1231.9 670.3,1242.5 674.6,1253.1 677.8,1258.4 674.6,1263.7 670.3,1269 668.2,1276.4 665,1284.9 670.3,1287 676.7,1282.8 682,1276.4 685.2,1269 687.3,1262.6 693.7,1255.2 695.8,1248.8 693.7,1242.5 688.4,1244.6 690.5,1239.3 685.2,1234 680.9,1227.6 683.1,1222.3 689.4,1218.1 697.9,1217 706.4,1220.2 712.8,1225.5 720.2,1228.7 722.3,1221.2 720.2,1215.9 712.8,1210.6 704.3,1205.3 695.8,1201.1 685.2,1195.8 676.7,1191.5 670.3,1187.3 666.1,1182 669.3,1176.7 659.7,1175.6 649.1,1175.6 642.8,1174.6 636.4,1170.3 630,1164 623.7,1153.4 619.4,1142.7 614.1,1135.3 608.8,1130 602.4,1125.8 595,1120.5 589.7,1113 587.6,1104.6 588.7,1096.1 586.5,1089.7 589.7,1083.3 596.1,1079.1 604.6,1074.9 610.9,1072.7 613.1,1077 610.9,1081.2 614.1,1087.6 617.3,1093.9 621.5,1096.1 624.7,1089.7 627.9,1083.3 634.3,1091.8 642.8,1102.4 651.2,1113 659.7,1123.6 668.2,1130 676.7,1134.3 685.2,1138.5 693.7,1143.8 702.2,1147 710.7,1151.2 714.9,1153.4" fill="none" stroke="#777777" stroke-width="0.6" stroke-linejoin="round"/>
<polyline points="761.2,1227.3 765.5,1232.6 769.7,1237.9 773.9,1244.3 778.2,1248.5 777.1,1252.8 784.6,1260.2 787.7,1261.2 795.2,1259.1 801.5,1255.9 810,1258.1 818.5,1257 829.1,1259.1 835.5,1260.2 841.8,1262.3 846.1,1268.7 850.3,1267.6 848.2,1261.2 844,1255.9 839.7,1257 833.4,1253.8 829.1,1250.6 824.9,1246.4 812.1,1244.3 807.9,1237.9 814.3,1240 821.7,1241.1 822.7,1237.9 815.3,1235.8 820.6,1235.8 825.9,1231.5 824.9,1227.3 818.5,1220.9 812.1,1214.6 809,1208.2 810,1199.7 814.3,1197.6 818.5,1199.7 824.9,1208.2 829.1,1207.1 824.9,1201.8 827,1199.7 831.2,1201.8 836.5,1206.1 839.7,1199.7 834.4,1193.4 833.4,1187 837.6,1183.8 844,1181.7 850.3,1177.4 858.8,1175.3 867.3,1173.2 875.8,1175.3 882.1,1176.4" fill="none" stroke="#777777" stroke-width="0.6" stroke-linejoin="round"/>
<path d="M314.4 718.2 316.0 709.8 318.3 704.0M314.4 718.2 307.3 716.1M301.7 714.4 296.8 712.9M318.3 704.0 316.7 701.6M301.4 728.4 305.2 731.0M305.2 731.0 311.4 724.5 315.6 721.0M315.6 721.0 314.4 718.2M315.6 721.0 318.4 722.0M318.4 722.0 325.9 717.0 332.6 715.3M318.3 704.0 323.5 705.1 327.9 704.6M332.6 715.3 330.4 711.6 327.9 704.6M335.4 693.0 335.9 694.4M335.9 694.4 331.0 699.4 327.9 704.6M312.4 776.9 316.3 781.8 317.0 786.6M302.7 789.6 311.2 792.0M317.0 786.6 313.7 790.3 311.2 792.0M310.0 797.4 311.2 792.0M305.2 731.0 305.6 732.7M305.6 732.7 301.3 740.2 298.7 744.0M283.7 921.1 280.0 912.1 279.0 911.3M289.2 918.3 290.4 911.1M290.4 911.1 285.5 905.9M290.4 911.1 295.8 909.0 299.5 908.2M299.5 908.2 296.1 899.7M903.9 1124.2 902.6 1124.5M902.6 1124.5 901.9 1126.7 899.5 1129.2M899.5 1129.2 901.1 1136.3M816.0 1244.9 813.4 1247.0 807.0 1248.9M816.5 1245.0 816.6 1256.5 816.8 1257.2M807.0 1248.9 809.1 1257.9M821.0 1241.0 821.9 1240.5M833.9 1254.0 833.9 1254.1 830.8 1259.4M911.3 1089.7 902.5 1088.5M911.0 1073.5 901.9 1075.2M902.5 1088.5 903.7 1080.4 901.9 1075.2M914.7 1054.9 905.1 1054.3M905.1 1054.3 903.6 1065.1 901.7 1075.1M332.6 715.3 335.3 716.4M335.9 694.4 341.6 701.5 346.5 707.2M338.7 714.8 335.3 716.4M338.6 1004.1 336.1 999.4 331.4 991.3M338.6 1004.1 344.4 1003.0 350.0 1004.8M331.4 991.3 332.1 987.5M332.1 987.5 340.6 984.3 345.9 978.4M345.9 978.4 353.3 986.4 360.6 990.9M350.0 1004.8 354.9 995.5 360.6 990.9M314.0 913.8 312.0 908.9M302.7 923.8 301.8 909.9M301.8 909.9 305.5 908.7 312.0 908.9M299.5 908.2 301.8 909.9M333.6 960.9 342.7 966.6 346.8 972.1M333.6 960.9 338.6 950.5M354.4 958.3 354.4 965.7M354.4 965.7 351.3 969.1 346.8 972.1M332.1 987.5 321.9 975.2 316.2 970.2M329.5 962.2 333.6 960.9M345.9 978.4 346.8 974.5 346.8 972.1M332.9 819.4 333.2 819.2M324.0 808.6 328.1 808.8 334.7 809.2M333.2 819.2 333.8 815.6 334.7 809.2M290.4 882.8 292.1 876.5M288.2 870.5 292.1 876.5M544.9 1110.6 548.8 1112.5M544.9 1110.6 544.6 1103.5 545.9 1098.3M545.9 1098.3 549.8 1098.1 554.2 1097.3M554.2 1097.3 556.5 1101.8 556.8 1109.1M548.8 1112.5 553.3 1111.6 556.8 1109.1M544.9 1110.6 541.1 1110.4 537.0 1111.8M537.0 1111.8 535.4 1116.0M546.7 1127.9 551.0 1125.1M548.8 1112.5 550.6 1119.7 551.0 1125.1M178.3 1089.3 178.2 1095.5M178.2 1095.5 185.5 1100.7 189.6 1107.0M189.6 1107.0 197.0 1104.4 206.0 1105.2M206.0 1105.2 207.4 1098.9M285.6 979.6 297.8 976.2 305.2 975.4M285.6 979.6 280.9 985.1M305.2 975.4 309.3 987.3 308.3 1001.9M307.1 1004.3 307.1 1004.2M308.3 1001.9 307.1 1004.2M284.7 966.8 285.6 979.6M309.1 971.0 308.2 972.2 305.2 975.4M331.4 991.3 321.2 992.5 308.3 1001.9M338.6 1004.1 332.6 1010.8 329.8 1019.3M329.8 1019.3 316.7 1014.8 307.1 1004.2M474.4 1109.0 469.9 1117.2 465.8 1126.1M474.4 1109.0 467.9 1105.5 456.9 1101.7M456.9 1101.7 453.7 1109.8 453.3 1116.0M453.3 1116.0 460.3 1121.8 463.9 1126.8M465.8 1126.1 463.9 1126.8M474.6 1108.9 481.9 1114.7 486.5 1117.6M486.5 1117.6 484.0 1125.6 485.2 1133.2M485.2 1133.2 477.5 1129.3 465.8 1126.1M463.7 1145.5 461.4 1131.1M485.2 1133.2 486.0 1134.5M461.4 1131.1 463.9 1126.8M317.7 1027.8 329.9 1020.1M326.2 1049.3 328.3 1049.2M329.9 1020.1 335.9 1024.1 341.6 1032.2M341.6 1032.2 336.2 1042.1 328.3 1049.2M845.3 1267.5 848.1 1261.1M688.9 1133.7 687.3 1137.5 686.0 1139.0M679.6 1124.4 670.7 1130.2M670.7 1130.2 670.2 1131.0M714.3 1226.1 722.1 1221.9M677.1 1282.4 668.5 1275.4M305.6 752.7 302.4 752.9M305.6 752.7 308.4 757.1 311.0 760.9M297.3 768.8 307.6 768.8M311.0 760.9 309.2 765.8 309.2 767.3M313.1 907.6 312.0 908.9M313.1 907.6 316.8 907.7 321.3 906.3M327.1 915.5 327.1 913.4M321.3 906.3 323.6 910.9 327.1 913.4M520.7 1029.4 513.9 1020.7M520.7 1029.4 518.5 1031.3 515.2 1033.3M515.2 1033.3 512.9 1032.0 509.9 1030.7M508.1 1022.6 509.9 1030.7M472.8 1039.6 478.8 1039.5 484.2 1038.0M472.8 1039.6 475.0 1044.5 475.0 1051.2M484.3 1054.2 479.5 1051.8 475.0 1051.2M484.3 1054.2 487.5 1047.6 487.7 1042.9M487.7 1042.9 485.9 1041.1 484.2 1038.0M471.4 1038.3 472.8 1039.6M471.4 1038.3 467.5 1037.1 464.2 1036.8M451.2 1047.7 458.2 1042.6 464.2 1036.8M451.2 1047.7 451.7 1052.2 450.4 1058.0M463.0 1062.2 456.4 1058.8 450.4 1058.0M463.0 1062.2 470.3 1056.7 475.0 1051.2M451.2 1047.7 446.9 1043.8 442.0 1035.4M464.2 1036.8 462.6 1030.6 459.6 1024.3M442.0 1035.4 446.3 1030.4 449.1 1022.3M449.1 1022.3 455.0 1023.0 459.6 1024.3M471.4 1038.3 477.7 1028.4 479.2 1021.3M479.2 1021.3 473.1 1017.7 470.3 1014.1M459.6 1024.3 466.4 1017.9 470.3 1014.1M312.3 841.0 311.3 846.6M304.7 852.3 306.0 851.0 311.3 846.6M318.9 850.0 313.9 848.0 311.3 846.6M318.9 850.0 321.0 848.2M321.0 848.2 322.7 845.1 322.9 840.9M318.9 850.0 320.3 854.1 320.9 856.9M320.9 856.9 319.3 861.4M306.2 856.4 311.8 857.8 318.4 861.7M318.4 861.7 319.3 861.4M301.5 866.0 301.8 866.4M292.1 876.5 296.8 876.1 299.4 874.4M301.8 866.4 301.2 871.8 299.4 874.4M318.4 861.7 314.2 865.9 312.4 871.3M301.8 866.4 306.7 868.3 312.4 871.3M324.0 864.8 321.6 863.4 319.3 861.4M324.0 864.8 324.3 868.6 324.7 872.1M324.7 872.1 321.7 874.9M321.7 874.9 316.2 874.2 313.0 873.5M312.4 871.3 313.0 873.5M315.9 891.9 316.5 891.6M316.5 891.6 316.2 889.1 316.5 885.5M316.5 885.5 313.0 881.8 310.7 879.7M302.7 887.2 304.7 881.4M304.7 881.4 307.9 881.0 310.7 879.7M313.1 907.6 312.7 900.6 311.5 896.6M325.8 899.3 323.4 903.4 321.3 906.3M325.8 899.3 324.0 895.0M324.0 895.0 321.4 892.7 316.5 891.6M321.7 874.9 322.9 878.0 322.8 881.8M322.8 881.8 321.0 883.9 316.5 885.5M313.0 873.5 311.6 875.5 310.7 879.7M299.4 874.4 302.1 878.4 304.7 881.4M463.0 1062.2 466.9 1070.3 471.0 1073.8M471.0 1073.8 479.2 1070.2 485.6 1068.5M485.6 1068.5 485.3 1062.8 484.9 1054.7M496.5 1043.0 493.3 1043.2 487.7 1042.9M496.5 1043.0 494.0 1049.3 494.0 1053.3M484.9 1054.7 490.3 1053.5 494.0 1053.3M501.0 1101.0 496.8 1102.3 493.6 1104.3M501.0 1101.0 501.3 1098.3 501.9 1094.7M501.9 1094.7 493.7 1091.1 488.2 1090.5M493.6 1104.3 490.1 1100.5 483.3 1094.5M488.2 1090.5 484.8 1092.3 483.3 1093.9M506.4 1105.1 503.1 1103.0 501.0 1101.0M506.4 1105.1 504.8 1109.7 499.5 1115.1M499.5 1115.1 495.0 1113.5M495.0 1113.5 495.2 1108.7 493.6 1104.3M506.4 1105.1 509.9 1104.5M511.8 1096.6 511.0 1101.2 509.9 1104.5M511.8 1096.6 510.8 1094.8M510.8 1094.8 507.6 1094.2 504.6 1093.0M504.6 1093.0 501.9 1094.7M474.6 1108.9 479.4 1099.7 483.3 1094.5M486.5 1117.6 492.4 1115.8 495.0 1113.5M523.4 1087.3 525.6 1089.6M523.4 1087.3 519.6 1087.0 514.5 1088.0M511.8 1096.6 515.9 1097.0 519.3 1097.6M519.3 1097.6 522.9 1094.8 525.4 1090.9M514.5 1088.0 512.2 1091.4 510.8 1094.8M525.4 1090.9 525.6 1089.6M520.7 1029.4 523.7 1029.7M526.6 1021.6 523.7 1029.7M503.9 1033.9 506.7 1031.7 509.9 1030.7M503.9 1033.9 502.3 1032.3 500.8 1029.6M500.8 1029.6 503.5 1023.5M502.1 993.2 494.2 990.9M487.0 1000.7 490.9 996.5 494.2 990.9M487.0 1000.7 492.6 1008.1 495.3 1011.7M588.5 1098.0 577.3 1102.1M586.7 1090.4 586.7 1090.4 575.7 1091.4M577.3 1102.1 576.3 1098.2 573.8 1093.2M573.8 1093.2 575.7 1091.4M573.2 1093.2 568.8 1097.7 565.5 1099.7M573.2 1093.2 568.4 1089.0 564.3 1087.7M564.3 1087.7 562.8 1091.5 559.9 1094.9M565.5 1099.7 562.2 1098.0 559.9 1094.9M610.4 1131.6 603.8 1140.6M598.3 1122.8 591.9 1129.4M603.8 1140.6 600.4 1140.1 597.7 1140.3M597.7 1140.3 594.3 1135.3 591.9 1129.4M551.0 1125.1 553.1 1125.8M556.8 1109.1 560.0 1109.7M563.9 1122.3 557.5 1124.5 553.1 1125.8M563.9 1122.3 565.4 1119.6M565.4 1119.6 563.2 1114.4 560.0 1109.7M577.3 1102.1 576.5 1104.0 575.0 1107.1M565.5 1099.7 566.0 1104.6M575.0 1107.1 569.2 1106.6 566.0 1104.6M554.2 1097.3 555.9 1095.5M555.9 1095.5 559.9 1094.9M566.0 1104.6 563.1 1106.4 560.0 1109.7M165.4 1109.8 167.8 1113.7 169.5 1118.7M165.4 1109.8 171.8 1099.5 178.2 1095.5M189.6 1107.0 188.6 1114.1 184.1 1123.6M169.5 1118.7 177.5 1121.2 184.1 1123.6M204.8 1130.0 208.9 1125.0 215.0 1117.6M204.8 1130.0 194.3 1125.2 184.6 1124.4M206.0 1105.2 209.4 1111.7 215.0 1117.6M184.6 1124.4 184.1 1123.6M461.4 1131.1 455.3 1131.6 446.6 1134.5M453.3 1116.0 446.1 1118.0 438.4 1120.3M446.6 1134.5 442.3 1125.3 438.4 1120.3M348.6 1172.3 349.5 1179.1 349.9 1184.4M348.6 1172.3 359.2 1165.6 368.4 1162.5M349.9 1184.4 370.0 1189.8M368.4 1162.5 384.6 1184.6M446.6 1134.5 444.9 1137.4M349.9 1184.4 343.3 1190.6 336.7 1198.6M340.4 1208.7 336.7 1198.6M442.0 1035.4 434.0 1035.8 428.4 1035.0M449.1 1022.3 447.8 1018.3 443.7 1012.7M443.7 1012.7 434.7 1017.3 428.2 1018.7M428.2 1018.7 428.4 1028.4 428.4 1035.0M405.4 1063.5 408.7 1060.3 412.1 1055.9M405.4 1063.5 408.6 1073.7 409.8 1080.2M427.3 1055.1 420.4 1056.8 412.1 1055.9M427.3 1055.1 430.0 1057.8 432.5 1059.4M409.8 1080.2 417.9 1083.6 424.1 1082.8M432.5 1059.4 427.5 1067.4 424.1 1082.8M427.3 1055.1 425.4 1044.0 428.2 1035.2M450.4 1058.0 449.4 1058.6M432.5 1059.4 442.3 1057.9 449.4 1058.6M455.8 1099.7 450.3 1098.7 443.6 1099.5M455.8 1099.7 458.4 1092.7 459.8 1088.0M459.8 1088.0 452.9 1085.1 446.6 1078.8M443.6 1099.5 438.3 1090.0 432.9 1085.8M432.9 1085.8 440.4 1083.4 446.6 1078.8M456.9 1101.7 455.8 1099.7M469.6 1082.3 465.0 1084.1 459.8 1088.0M469.6 1082.3 477.5 1088.3 483.3 1093.9M469.6 1082.3 470.5 1077.8 471.0 1073.8M449.4 1058.6 446.5 1071.3 446.6 1078.8M425.8 1084.6 424.1 1082.8M425.8 1084.6 429.7 1084.9 432.9 1085.8M371.5 1033.2 376.5 1025.9 380.2 1021.4M371.5 1033.2 359.3 1036.2 351.6 1034.3M355.3 1013.4 366.9 1013.7 377.8 1013.7M355.3 1013.4 353.0 1022.2 349.4 1032.7M377.8 1013.7 378.5 1018.5 380.2 1021.4M349.4 1032.7 351.6 1034.3M350.0 1004.8 351.8 1009.5 355.3 1013.4M360.6 990.9 364.3 990.6M364.3 990.6 368.3 991.6 371.9 994.8M378.8 1008.8 374.2 1000.4 371.9 994.8M378.8 1008.8 377.8 1013.7M329.9 1020.1 329.8 1019.3M341.6 1032.2 345.0 1031.7 349.4 1032.7M376.1 1046.9 383.9 1047.9 388.6 1050.6M376.1 1046.9 366.5 1054.3 362.5 1062.9M380.6 1072.4 373.5 1069.2 362.5 1062.9M380.6 1072.4 384.3 1067.3 392.5 1059.6M392.5 1059.6 390.9 1055.9 388.6 1050.6M405.4 1063.5 399.3 1062.0 392.5 1059.6M409.8 1080.2 405.9 1083.1 403.0 1085.9M380.6 1072.4 381.4 1075.9 382.7 1081.7M382.7 1081.7 392.0 1080.9 403.0 1085.9M328.3 1049.2 332.5 1055.4 339.6 1061.2M351.6 1034.3 352.7 1045.8 354.9 1060.6M354.9 1060.6 345.1 1059.5 339.6 1061.2M371.5 1033.2 373.6 1039.4 376.1 1046.9M362.5 1062.9 358.9 1063.4M354.9 1060.6 358.9 1063.4M373.1 1094.7 376.9 1089.4 382.7 1081.7M373.1 1094.7 363.5 1090.2 355.2 1081.2M358.9 1063.4 357.3 1072.4 355.2 1081.2M135.4 1254.1 139.9 1258.3 145.0 1260.8M135.4 1254.1 137.6 1246.8 142.4 1239.8M142.4 1239.8 145.4 1242.3 147.7 1242.9M147.7 1242.9 150.6 1248.2 151.0 1252.9M145.0 1260.8 148.2 1257.4 151.0 1252.9M193.4 1291.2 186.5 1286.6 177.3 1283.6M193.4 1291.2 190.0 1304.9M177.3 1283.6 177.3 1283.6M186.7 1268.1 180.6 1278.0 177.3 1283.6M186.7 1268.1 196.3 1272.2 204.2 1281.4M200.6 1289.2 201.8 1284.5 204.2 1281.4M200.6 1289.2 195.9 1289.6 193.4 1291.2M207.8 1299.7 200.6 1289.2M124.4 1258.8 135.4 1254.1M146.5 1269.6 145.0 1260.8M825.6 1193.7 830.1 1189.1 833.5 1187.8M825.6 1193.7 837.9 1203.4M663.2 1187.1 668.9 1186.5 669.7 1186.5M663.2 1187.1 658.3 1180.0 654.8 1175.6M582.8 1168.1 586.2 1165.1 589.4 1160.7M582.8 1168.1 584.3 1174.0 587.4 1177.2M587.4 1177.2 591.0 1176.9 593.9 1176.0M593.9 1176.0 595.7 1170.7 598.8 1166.3M589.4 1160.7 593.7 1160.5 596.5 1160.7M596.5 1160.7 597.0 1162.9 598.8 1166.3M573.0 1169.4 576.6 1166.7M584.7 1179.5 587.4 1177.2M576.6 1166.7 579.3 1167.7 582.8 1168.1M656.8 1196.7 657.8 1201.2M656.8 1196.7 659.3 1191.4 663.2 1187.1M677.3 1191.8 676.6 1194.9M676.6 1194.9 673.0 1198.3 669.9 1202.0M669.9 1202.0 664.4 1202.5 657.8 1201.2M708.9 1208.2 702.1 1216.7M702.1 1216.7 702.3 1218.6M695.9 1201.2 691.8 1206.7M702.1 1216.7 697.4 1212.1 691.8 1206.7M676.6 1194.9 684.4 1202.6 688.1 1207.4M688.1 1207.4 691.8 1206.7M685.8 1267.2 676.3 1260.9M681.0 1215.1 684.9 1212.5 688.1 1207.4M681.0 1215.1 686.4 1220.1M692.6 1256.4 683.4 1247.8M688.8 1244.5 683.4 1247.8M675.5 1254.7 677.6 1252.1 683.0 1247.8M791.9 1260.0 792.0 1258.9M778.1 1248.9 784.4 1246.8M784.4 1246.8 788.0 1254.9 792.0 1258.9M807.0 1248.9 803.6 1247.8 801.3 1247.5M792.0 1258.9 796.0 1253.2 801.3 1247.5M776.9 1209.3 779.8 1205.0 781.8 1201.2M776.9 1209.3 778.9 1213.7 780.5 1215.8M781.8 1201.2 784.7 1201.5 787.7 1201.5M787.7 1201.5 790.4 1206.3 793.1 1208.0M793.1 1208.0 792.5 1211.3 789.2 1216.0M780.5 1215.8 785.8 1216.5 789.2 1216.0M763.3 1220.9 776.5 1224.3M770.5 1207.8 776.9 1209.3M780.5 1215.8 779.7 1220.0 776.5 1224.3M769.3 1237.4 778.7 1230.5M776.5 1224.3 777.8 1226.9 778.7 1230.5M781.8 1201.2 778.4 1191.1M801.5 1146.4 806.5 1142.6M806.5 1142.6 802.5 1135.6 798.1 1132.8M823.3 1193.5 825.6 1193.7M823.3 1193.5 820.3 1196.3 818.2 1199.5M898.3 1092.6 894.2 1093.1M898.3 1092.6 901.5 1097.4 903.8 1105.0M894.2 1093.1 891.3 1097.2 888.3 1103.5M888.3 1103.5 892.0 1105.1 897.3 1109.0M903.3 1106.5 901.6 1107.4 897.3 1109.0M902.5 1088.5 900.7 1091.1 898.3 1092.6M901.7 1075.1 897.8 1074.5 895.0 1074.3M895.0 1074.3 888.6 1081.4 882.3 1084.7M882.3 1084.7 886.9 1089.9 894.2 1093.1M902.6 1124.5 900.2 1119.5 895.1 1116.0M895.1 1116.0 895.8 1111.8 897.3 1109.0M884.5 1060.9 889.1 1068.6 895.0 1074.3M884.5 1060.9 881.1 1063.0 875.5 1063.8M875.5 1063.8 872.5 1068.8 871.6 1076.7M882.3 1084.7 876.5 1082.1 871.6 1076.7M620.7 628.0 621.4 639.2M594.0 628.0 595.7 642.3M621.4 639.2 614.9 642.5 608.8 646.1M595.7 642.3 600.4 643.4 608.8 646.1M577.1 646.9 585.2 651.2M595.7 642.3 589.6 646.6 585.2 651.2M621.4 639.2 624.6 641.1M640.8 638.7 624.6 641.1M594.0 713.9 584.2 712.4 577.1 713.4M594.0 713.9 596.7 722.6 596.1 730.2M571.1 726.0 573.1 719.8 577.1 713.4M571.1 726.0 578.5 730.3 581.8 735.0M581.8 735.0 590.8 732.0 596.1 730.2M652.9 652.1 648.0 656.1M624.6 641.1 629.8 648.1 632.7 655.2M648.0 656.1 638.1 655.9 632.7 655.2M802.2 713.5 796.3 725.3M786.2 705.5 778.6 721.1M778.6 721.1 782.5 724.6 787.0 728.8M796.3 725.3 792.6 726.8 787.0 728.8M817.3 734.6 805.8 739.1M796.3 725.3 799.4 733.1 805.8 739.1M335.3 716.4 335.4 720.3 337.4 726.6M353.2 721.3 352.9 721.6 346.0 729.9M337.4 726.6 342.4 728.1 346.0 729.9M648.0 656.1 652.3 668.1 650.5 678.8M632.7 655.2 629.8 661.7 626.9 669.1M650.5 678.8 649.2 679.6M649.2 679.6 645.6 679.7 638.9 679.7M626.9 669.1 633.9 674.4 638.9 679.7M347.5 737.4 346.6 733.9 346.0 729.9M347.5 737.4 361.2 739.4M369.0 951.6 373.7 957.1M387.3 941.2 387.5 952.9M387.5 952.9 380.0 955.2 373.7 957.1M354.4 965.7 360.9 968.2 370.3 968.1M373.7 957.1 371.7 961.9 370.3 968.1M364.3 990.6 368.8 979.1 371.0 969.2M370.3 968.1 371.0 969.2M328.6 797.9 331.1 797.0M322.9 796.0 321.5 792.1 319.2 787.3M319.2 787.3 324.2 784.8 328.7 783.7M328.7 783.7 331.6 787.0 333.4 791.8M331.1 797.0 333.2 794.0 333.4 791.8M317.0 786.6 319.2 787.3M313.3 774.4 320.5 772.6 328.1 770.0M328.7 783.7 330.4 780.5M330.4 780.5 330.5 776.1 328.1 770.0M320.7 758.6 323.9 762.3 328.2 769.8M320.7 758.6 316.2 760.5 311.0 760.9M553.1 1125.8 555.0 1130.7 557.7 1136.3M557.7 1136.3 551.9 1143.2M522.2 1106.3 521.1 1110.9M521.9 1106.1 518.1 1105.3 511.9 1106.3M511.9 1106.3 511.9 1112.3M537.0 1111.8 534.4 1106.4 531.5 1104.2M531.5 1104.2 525.8 1104.5 522.2 1106.3M519.3 1097.6 520.7 1100.9 521.9 1106.1M531.6 1103.6 527.8 1095.6 525.4 1090.9M509.9 1104.5 511.9 1106.3M499.5 1115.1 504.9 1119.1M514.5 1088.0 512.2 1084.3 510.4 1082.4M504.6 1093.0 503.3 1089.4 503.9 1084.9M503.9 1084.9 507.3 1082.8 510.4 1082.4M488.2 1090.5 491.8 1086.0 494.8 1079.8M503.9 1084.9 500.7 1081.6 494.8 1079.8M485.6 1068.5 491.7 1069.9 494.6 1072.5M494.8 1079.8 493.9 1075.7 494.6 1072.5M523.4 1087.3 522.6 1082.8 522.6 1078.4M525.6 1089.6 531.4 1087.9 534.9 1087.3M522.6 1078.4 524.9 1077.1 527.8 1073.9M527.8 1073.9 530.6 1078.4 536.6 1081.7M536.6 1081.7 536.4 1084.1 534.9 1087.3M531.6 1103.6 536.1 1099.3 541.1 1094.0M534.9 1087.3 538.0 1090.9 541.1 1094.0M545.9 1098.3 544.2 1096.3 541.2 1094.0M540.1 1055.8 540.3 1063.7 538.2 1068.0M540.3 1055.7 544.0 1058.6 549.9 1061.0M538.2 1068.0 539.8 1069.1M539.8 1069.1 545.2 1066.7 548.5 1064.9M548.5 1064.9 549.9 1061.0M606.3 1143.4 606.8 1149.9 605.2 1154.1M606.3 1143.4 619.6 1145.4 620.5 1145.4M622.6 1150.8 622.3 1151.0 612.3 1157.0M605.2 1154.1 608.8 1155.5 612.3 1157.0M597.9 1157.9 602.0 1155.1 605.2 1154.1M597.9 1157.9 594.5 1150.1 592.7 1145.6M603.8 1140.6 606.3 1143.4M592.7 1145.6 594.9 1143.3 597.7 1140.3M589.2 1084.2 584.8 1079.7M575.7 1091.4 576.7 1086.6 576.0 1082.8M584.8 1079.7 580.3 1081.1 576.0 1082.8M563.7 1084.0 564.3 1087.7M563.8 1083.9 570.4 1083.6 574.1 1081.6M576.0 1082.8 574.1 1081.6M891.0 1032.2 880.0 1039.4M900.1 1039.6 902.4 1051.5M880.0 1039.4 883.4 1048.5 888.3 1055.4M902.4 1051.5 894.1 1054.0 888.3 1055.4M905.1 1054.3 902.4 1051.5M884.5 1060.9 885.8 1057.6 888.3 1055.4M564.8 1037.3 571.2 1036.6 575.2 1037.2M564.8 1037.3 563.6 1028.9 562.6 1024.7M575.2 1037.2 576.3 1028.5 577.1 1022.4M577.1 1022.4 576.5 1020.5M550.7 1034.9 551.2 1036.4M550.7 1034.9 556.3 1026.4 557.5 1024.3M561.5 1041.4 555.8 1037.2 551.2 1036.4M561.5 1041.4 563.4 1039.3 564.8 1037.3M626.5 1086.1 623.6 1086.1 620.2 1084.4M620.2 1084.4 614.9 1089.2M620.2 1084.4 620.1 1080.4 619.0 1078.0M618.7 1077.7 613.0 1075.5 612.4 1075.6M824.1 1144.7 828.9 1146.7 832.1 1146.5M824.1 1144.7 825.1 1140.0 824.3 1136.6M832.1 1146.5 836.5 1143.8 839.6 1140.0M838.6 1135.9 839.6 1140.0M838.6 1135.9 834.1 1135.3 830.3 1132.7M830.3 1132.7 827.6 1135.2 824.3 1136.6M868.5 990.4 863.4 998.5M858.4 978.2 847.5 987.7M847.5 987.7 847.9 992.1M863.4 998.5 855.1 996.8 847.9 992.1M847.5 987.7 838.2 978.9 837.5 978.1M822.5 985.7 824.7 995.6M847.9 992.1 845.3 998.8 839.8 1003.3M824.7 995.6 833.4 1000.0 839.8 1003.3M443.7 1012.7 444.0 1011.2M444.0 1011.2 451.7 1004.3 457.3 1001.3M470.3 1014.1 470.2 1012.1M470.2 1012.1 461.5 1006.0 457.3 1001.3M486.1 1034.9 488.6 1033.7 491.9 1032.9M486.1 1034.9 484.6 1029.7 480.6 1021.5M480.6 1021.5 486.1 1020.9 489.6 1019.0M489.6 1019.0 490.4 1024.2M490.5 1025.0 490.5 1025.2 493.5 1029.9M491.9 1032.9 493.5 1029.9M479.2 1021.3 480.6 1021.5M484.2 1038.0 486.1 1034.9M487.0 1000.7 484.0 1000.8 480.6 1000.3M495.3 1013.2 492.4 1015.3 489.6 1019.0M470.2 1012.1 475.9 1003.7 480.6 1000.3M500.8 1029.6 498.2 1029.0 493.5 1029.9M577.1 1121.3 583.2 1119.6 586.1 1117.8M577.1 1121.3 574.7 1119.1 572.0 1118.0M572.0 1118.0 575.1 1112.9 575.3 1107.8M575.3 1107.8 581.4 1108.5 588.1 1112.7M588.1 1112.7 586.5 1115.4 586.1 1117.8M565.4 1119.6 568.0 1118.8 572.0 1118.0M589.4 1111.7 588.1 1112.7M591.9 1129.4 591.1 1129.2M591.1 1129.2 588.2 1123.5 586.1 1117.8M230.1 1293.9 229.4 1284.8M204.2 1281.4 207.3 1277.8 215.0 1274.2M229.4 1284.8 224.9 1279.0 215.0 1274.2M186.7 1268.1 186.0 1262.7 185.5 1257.8M185.5 1257.8 189.7 1254.3 194.4 1249.3M194.4 1249.3 205.6 1254.4 215.2 1264.2M215.2 1264.2 215.9 1268.8 215.0 1274.2M194.4 1249.3 194.5 1243.3 195.2 1240.0M215.2 1264.2 222.2 1255.4 230.8 1250.9M216.6 1230.6 222.8 1243.3 230.8 1250.9M216.6 1230.6 209.4 1231.7 203.2 1231.4M203.2 1231.4 197.9 1236.6 195.2 1240.0M312.9 1211.6 323.2 1224.1 323.9 1225.0M312.9 1211.6 302.8 1216.9 292.8 1219.6M292.8 1219.6 293.8 1233.7 296.3 1244.3M321.5 1242.0 313.2 1242.4 296.3 1244.3M336.7 1198.6 326.8 1194.9 319.9 1196.2M319.9 1196.2 316.6 1202.7 312.9 1211.6M295.0 1246.4 281.2 1251.1 272.6 1255.2M295.0 1246.4 296.3 1244.3M263.2 1236.1 265.2 1246.2 272.6 1255.2M263.2 1236.1 267.8 1225.5 273.5 1214.0M273.5 1214.0 276.7 1213.2 280.5 1212.2M280.5 1212.2 286.6 1215.6 292.8 1219.6M303.1 1277.9 295.0 1246.4M166.6 1122.8 167.9 1119.9 169.5 1118.7M166.6 1122.8 167.1 1127.9 166.2 1130.6M180.8 1135.1 174.2 1135.8 170.2 1135.2M180.8 1135.1 183.2 1129.3 184.6 1124.4M166.2 1130.6 167.9 1132.4 170.2 1135.2M166.6 1122.8 159.1 1123.3 156.7 1124.3M155.5 1131.2 160.3 1134.4M166.2 1130.6 162.9 1133.4 160.3 1134.4M226.6 1117.9 220.7 1116.5 215.0 1117.6M226.6 1117.9 231.6 1114.9 237.0 1110.6M237.0 1110.6 239.0 1106.5M339.6 1061.2 336.2 1069.0 328.9 1079.4M328.9 1079.4 321.5 1077.5M355.2 1081.2 349.9 1084.2 344.3 1087.8M328.9 1079.4 331.1 1083.4 334.4 1085.8M344.3 1087.8 340.4 1086.3 334.4 1085.8M373.1 1094.7 373.2 1095.8M403.0 1085.9 400.7 1093.1 401.6 1097.8M401.6 1097.8 389.3 1102.5 384.2 1108.6M373.2 1095.8 376.6 1100.9 384.2 1108.6M344.3 1087.8 350.2 1096.5 352.0 1111.4M373.2 1095.8 363.4 1102.0 352.0 1111.4M333.3 1117.7 342.9 1114.6 350.9 1114.3M333.3 1117.7 331.1 1111.1 325.9 1105.8M325.9 1105.8 330.3 1099.1 334.4 1085.8M352.0 1111.4 350.9 1114.3M425.8 1084.6 422.9 1099.7 421.8 1109.9M401.6 1097.8 408.9 1106.7 413.9 1111.5M413.9 1111.5 416.8 1110.9 421.8 1109.9M443.6 1099.5 435.4 1108.7 432.0 1115.5M421.8 1109.9 428.1 1112.9 432.0 1115.5M438.4 1120.3 436.1 1120.0 433.6 1118.4M432.0 1115.5 433.6 1118.4M389.2 1024.6 391.1 1031.5 396.1 1039.8M389.2 1024.6 401.1 1021.5 407.3 1017.9M407.3 1017.9 408.6 1028.6 413.0 1034.8M396.1 1039.8 402.7 1040.8 408.2 1040.4M408.2 1040.4 411.4 1038.2 413.0 1034.8M380.2 1021.4 385.7 1023.8 389.2 1024.6M388.6 1050.6 391.3 1045.2 396.1 1039.8M412.1 1055.9 411.5 1048.1 408.2 1040.4M428.2 1035.2 422.8 1034.1 413.0 1034.8M166.2 1246.8 178.0 1251.5 185.4 1257.8M166.2 1246.8 162.0 1250.7 160.8 1254.1M160.8 1254.1 162.5 1260.6 163.6 1267.3M185.4 1257.8 172.4 1266.5 163.6 1267.3M166.1 1246.4 169.1 1240.2 173.1 1237.2M173.1 1237.2 180.4 1237.1 189.7 1237.3M189.7 1237.3 192.6 1238.0 195.2 1240.0M147.7 1242.9 154.0 1240.7 158.9 1240.0M151.0 1252.9 155.9 1253.8 160.8 1254.1M158.9 1240.0 162.8 1244.8 166.1 1246.4M163.0 1268.2 163.6 1267.3M142.1 1239.3 130.8 1236.6M165.4 1109.8 154.1 1107.1M865.8 1170.3 859.5 1168.5 854.9 1165.3M865.8 1170.3 866.4 1173.4M854.9 1165.3 853.1 1171.8 850.5 1177.3M850.5 1177.3 850.5 1177.3M881.0 1170.1 871.0 1165.3M871.0 1165.3 868.9 1167.9 865.8 1170.3M835.9 1185.1 835.7 1183.3 834.7 1180.1M850.5 1177.3 844.1 1174.9 840.5 1173.1M840.5 1173.1 837.2 1175.8 834.7 1180.1M823.3 1193.5 819.9 1189.8 818.9 1186.2M818.9 1186.2 819.4 1182.5 820.0 1179.8M820.0 1179.8 822.4 1177.9 823.9 1176.3M834.7 1180.1 827.9 1177.7 823.9 1176.3M841.9 1141.3 848.0 1141.3 852.6 1139.8M841.9 1141.3 844.7 1147.1 845.7 1152.1M849.6 1153.6 845.7 1152.1M849.6 1153.6 853.2 1150.1 855.8 1146.8M855.8 1146.8 854.1 1143.4 852.6 1139.8M838.6 1135.9 840.4 1132.3 843.4 1126.9M839.6 1140.0 841.9 1141.3M843.4 1126.9 846.2 1126.6 850.0 1127.1M850.0 1127.1 853.2 1131.1 855.4 1134.7M855.4 1134.7 854.1 1138.2 852.6 1139.8M625.7 1156.8 620.5 1168.8M635.0 1168.9 631.9 1177.3M631.9 1177.3 627.7 1178.1 623.8 1177.7M623.8 1177.7 621.2 1173.2 620.5 1168.8M612.3 1157.0 611.6 1161.9 612.8 1166.3M620.5 1168.8 616.2 1167.8 612.8 1166.3M597.9 1157.9 596.5 1160.7M598.8 1166.3 605.0 1166.9 607.9 1169.1M607.9 1169.1 610.0 1167.2 612.8 1166.3M636.5 1195.5 642.3 1192.4 648.8 1190.8M636.3 1195.4 637.1 1187.1 636.0 1180.8M636.0 1180.8 641.8 1179.2 649.9 1178.3M648.8 1190.8 650.1 1184.5 649.9 1178.3M628.2 1205.5 630.0 1196.9M641.2 1213.3 645.5 1210.0M645.5 1210.0 643.8 1203.8 636.5 1195.5M630.0 1196.9 633.7 1196.7 636.3 1195.4M656.8 1196.7 653.8 1193.3 648.8 1190.8M645.5 1210.0 648.4 1210.4 652.6 1209.6M652.6 1209.6 655.0 1205.1 657.8 1201.2M652.2 1175.6 651.3 1176.5 649.9 1178.3M631.9 1177.3 634.3 1179.4 636.0 1180.8M669.9 1202.0 671.8 1207.5 673.9 1215.4M681.0 1215.1 678.6 1216.1 675.1 1216.2M675.1 1216.2 673.9 1215.4M652.6 1209.6 654.4 1213.5 658.1 1217.0M673.9 1215.4 668.4 1217.1 658.1 1217.0M819.6 1222.0 817.4 1223.3 808.9 1228.8M810.7 1211.7 805.4 1213.6M805.4 1213.6 804.4 1216.8 801.5 1221.0M801.5 1221.0 803.9 1224.4 808.9 1228.8M793.1 1208.0 797.3 1207.5 800.6 1206.7M789.2 1216.0 792.8 1220.0 794.7 1222.5M805.4 1213.6 803.2 1209.2 800.6 1206.7M801.5 1221.0 797.1 1221.7 794.7 1222.5M813.9 1239.9 812.2 1238.4 808.4 1232.4M808.4 1232.4 808.9 1228.8M808.9 1158.0 817.4 1151.3M810.8 1166.2 811.5 1165.9 817.3 1164.6M817.3 1164.6 818.5 1160.4 819.8 1156.0M819.8 1156.0 818.1 1153.3 817.4 1151.3M817.8 1148.8 817.4 1151.3M817.8 1148.8 814.2 1146.1 811.6 1142.6M811.6 1142.6 808.5 1142.3 806.5 1142.6M820.0 1179.8 813.1 1176.9 809.7 1174.7M824.3 1171.2 823.6 1173.4 823.9 1176.3M824.3 1171.2 820.8 1169.6 817.3 1164.6M806.3 1198.1 803.2 1199.3M806.3 1198.1 806.5 1193.5 808.9 1188.0M803.2 1199.3 800.0 1196.6 794.9 1193.2M808.9 1188.0 807.1 1186.1 804.3 1183.9M804.3 1183.9 799.3 1185.7 794.0 1189.0M794.9 1193.2 794.0 1189.0M810.2 1199.6 806.3 1198.1M800.6 1206.7 801.5 1203.2 803.2 1199.3M818.9 1186.2 813.6 1187.9 808.9 1188.0M787.7 1201.5 792.0 1196.4 794.9 1193.2M804.8 1176.9 804.8 1177.2 804.3 1183.9M786.1 1186.0 794.0 1189.0M392.9 931.8 400.6 934.7M405.5 918.4 407.2 922.2M400.6 934.7 403.4 926.9 407.2 922.8M444.0 1011.2 437.4 1005.6 433.0 995.6M433.0 995.6 441.4 990.9 446.8 982.4M457.8 992.6 456.9 997.9 457.3 1001.3M457.8 992.6 453.5 988.0 449.5 983.8M449.5 983.8 446.8 982.4M585.2 651.2 584.1 655.6 586.1 662.3M575.6 670.5 579.3 668.1 586.1 662.3M333.9 742.5 331.9 736.7 329.6 734.1M333.9 742.5 331.6 747.6 328.5 750.1M325.0 732.8 329.6 734.1M325.0 732.8 322.1 737.4 315.2 742.3M315.2 742.3 315.2 743.8M315.2 743.8 319.9 748.3 324.2 751.1M324.2 751.1 328.5 750.1M342.2 743.2 338.0 743.4 333.9 742.5M342.2 743.2 344.6 739.6 347.5 737.4M337.4 726.6 332.5 730.7 329.6 734.1M318.4 722.0 322.2 726.4 325.0 732.8M305.6 732.7 311.8 738.6 315.2 742.3M305.6 752.7 310.3 748.0 315.2 743.8M320.7 758.6 321.9 754.0 324.2 751.1M594.0 713.9 597.6 711.0 600.8 706.1M614.5 727.8 613.8 722.7 615.8 717.2M614.5 727.8 607.6 729.8 599.7 733.0M596.1 730.2 599.7 733.0M600.8 706.1 608.4 709.1 615.8 717.2M648.3 702.7 641.3 702.1 631.4 704.1M648.6 702.3 646.1 691.9 649.2 679.6M638.9 679.7 632.1 690.8 627.2 696.8M627.2 696.8 628.8 700.1 631.4 704.1M643.0 723.0 635.3 722.2M635.3 722.2 632.7 716.4 629.4 711.4M631.4 704.1 630.3 708.9 629.4 711.4M571.1 726.0 564.5 727.6M571.7 703.7 573.1 708.2 577.1 713.4M571.7 703.7 562.2 701.0M571.7 703.7 578.3 694.2 584.6 688.9M574.6 678.0 578.4 681.4 584.6 688.9M396.2 999.9 394.5 995.2M396.2 999.9 387.0 1006.8 378.8 1008.8M371.9 994.8 375.3 992.3 380.1 988.2M380.1 988.2 383.5 988.1 389.4 990.1M394.5 995.2 392.0 993.8 389.4 990.1M515.2 1033.3 514.3 1036.7 514.7 1038.8M526.6 1033.3 523.7 1029.7M526.6 1033.3 522.5 1038.8 520.6 1042.9M520.6 1042.9 517.9 1040.4 514.7 1038.8M519.7 1063.5 523.7 1061.7 529.0 1060.0M519.7 1063.5 519.5 1064.3M519.5 1064.3 523.6 1069.4 527.9 1073.4M529.0 1060.0 530.9 1064.3 532.9 1068.2M532.9 1068.2 530.7 1071.7 527.9 1073.4M540.1 1055.8 538.5 1055.0M538.2 1068.0 535.9 1068.7 532.9 1068.2M529.3 1059.3 533.4 1058.3 538.5 1055.0M529.3 1059.3 529.0 1060.0M536.6 1081.7 539.6 1079.2 543.1 1077.5M543.1 1077.5 542.6 1073.2 539.8 1069.1M333.4 791.8 337.6 790.6 340.8 790.9M330.4 780.5 335.3 781.2 342.4 781.2M342.4 781.2 342.9 782.1M342.9 782.1 342.8 785.4 340.8 790.9M331.2 768.2 336.7 768.7 340.2 770.3M331.2 768.2 334.7 763.3 335.5 758.4M340.2 770.3 343.3 766.9M335.5 758.4 341.7 757.3M328.2 769.8 331.2 768.2M342.4 781.2 343.4 777.8M343.4 777.8 342.0 773.3 340.2 770.3M328.5 750.1 332.4 753.4 335.5 758.4M351.2 773.8 343.4 777.8M342.2 743.2 343.8 749.3 346.7 754.5M333.2 819.2 335.4 820.2M335.6 820.3 336.2 820.6M336.2 820.6 339.5 817.8 344.3 816.6M334.7 809.2 337.0 807.3M344.3 816.6 345.8 812.5M345.8 812.5 339.9 810.3 337.0 807.3M331.1 797.0 334.1 802.8 337.3 804.8M337.0 807.3 337.3 804.8M340.8 790.9 343.0 793.7 345.9 796.8M337.3 804.8 341.6 800.5 345.9 796.8M333.5 908.1 332.4 905.2 332.9 901.0M333.5 908.1 338.0 909.7 340.0 911.5M332.9 901.0 338.8 901.8 344.7 902.9M340.0 911.5 341.6 910.3 344.9 909.0M344.9 909.0 345.2 905.2 344.7 902.9M325.8 899.3 329.0 900.6 332.8 900.9M327.1 913.4 330.2 911.9 333.5 908.1M337.9 915.5 340.0 911.5M332.8 900.9 334.4 896.1 337.8 891.7M344.7 902.9 346.7 899.6M346.7 899.6 342.0 896.2 337.8 891.7M324.0 895.0 326.2 892.2 328.5 889.5M322.8 881.8 326.0 882.7M326.0 882.7 327.9 886.1 328.5 889.5M337.8 891.7 337.6 890.7M337.6 890.7 335.7 888.9M328.5 889.5 332.9 889.2 335.7 888.9M562.9 1160.0 573.4 1154.7M554.9 1148.5 557.7 1147.1 568.5 1145.0M568.5 1145.0 569.6 1149.7 573.4 1154.7M592.7 1145.6 587.6 1146.3 584.5 1145.9M589.4 1160.7 585.5 1157.5 581.3 1152.8M584.5 1145.9 583.6 1148.4 581.3 1152.8M576.6 1166.7 575.7 1162.0 575.3 1155.3M581.3 1152.8 578.6 1153.8 575.3 1155.3M575.3 1155.3 573.4 1154.7M522.6 1078.4 518.3 1077.8 515.2 1075.8M519.5 1064.3 516.2 1067.2M516.2 1067.2 515.4 1071.3 515.2 1075.8M510.4 1082.4 511.2 1080.1 512.1 1077.2M494.6 1072.5 497.0 1070.9 499.8 1069.1M499.8 1069.1 507.4 1071.8 512.1 1077.2M515.2 1075.8 512.1 1077.2M551.5 1076.0 548.3 1077.2 545.7 1078.2M551.5 1076.0 554.8 1079.8 556.9 1083.6M545.7 1078.2 545.9 1083.8 547.8 1087.3M556.9 1083.6 554.2 1085.9 553.0 1088.5M553.0 1088.5 549.9 1087.9 547.8 1087.3M543.1 1077.5 545.7 1078.2M552.9 1074.1 551.2 1070.7 548.5 1064.9M552.9 1074.1 551.5 1076.0M541.2 1094.0 544.0 1091.7 547.8 1087.3M555.9 1095.5 554.3 1092.6 553.0 1088.5M563.7 1084.0 560.6 1083.3 556.9 1083.6M536.9 1024.5 535.2 1030.6M541.2 1025.0 545.1 1032.4M545.1 1032.4 541.1 1034.0M541.1 1034.0 537.9 1031.3 535.2 1030.6M526.6 1033.3 529.5 1034.2M529.5 1034.2 531.9 1033.5 535.2 1030.6M494.2 990.9 492.8 988.1M494.3 979.3 494.4 983.3 492.8 988.1M550.7 1034.9 548.4 1033.3 545.1 1032.4M614.5 727.8 621.0 732.6 624.0 736.1M635.3 722.2 632.2 726.2 630.5 734.3M615.8 717.2 621.5 716.4 629.4 711.4M630.5 734.3 626.7 735.0 624.0 736.1M599.7 733.0 599.7 739.2 601.6 743.4M601.6 743.4 607.7 747.8 616.9 752.5M624.0 736.1 621.0 745.5 616.9 752.5M611.8 768.7 628.3 777.7M611.8 768.7 611.0 765.3M611.0 765.3 613.9 758.5 617.1 753.3M639.7 753.9 617.1 753.3M650.5 678.8 666.5 679.7M883.6 1004.3 875.3 1008.3M887.2 1019.1 875.2 1018.5M875.2 1018.5 874.0 1011.9 875.3 1008.3M863.4 998.5 863.7 1000.9M875.3 1008.3 869.7 1003.8 863.7 1000.9M839.8 1003.3 840.5 1006.3M840.5 1006.3 849.2 1008.3 857.1 1011.0M863.7 1000.9 860.4 1007.8 857.1 1011.0M609.9 1065.2 603.0 1066.6 599.2 1065.4M609.9 1065.2 610.1 1070.8 609.4 1073.2M600.8 1076.8 600.7 1076.5 597.8 1074.0M599.2 1065.4 599.4 1069.7 597.8 1074.0M584.8 1079.7 584.8 1076.0 585.9 1073.3M597.8 1074.0 593.4 1073.2 585.9 1073.3M574.1 1081.6 573.1 1075.3 571.2 1070.5M571.6 1070.2 578.1 1073.1 585.7 1072.8M705.7 1148.7 706.2 1147.4M695.7 1144.6 697.4 1141.3M670.7 1130.2 669.5 1124.2 667.5 1118.3M657.0 1120.2 658.7 1117.8M667.5 1118.3 662.6 1117.7 658.7 1117.8M819.6 1124.0 817.4 1128.0 817.3 1131.8M819.6 1124.0 814.8 1120.2 809.0 1118.8M809.0 1118.8 806.3 1123.6 805.8 1129.2M805.8 1129.2 809.5 1131.7 814.3 1133.2M814.3 1133.2 817.3 1131.8M830.3 1132.7 829.9 1128.9 828.3 1124.8M824.3 1136.6 821.3 1134.3 817.3 1131.8M828.3 1124.8 823.9 1124.5 821.2 1123.2M821.2 1123.2 819.6 1124.0M811.6 1142.6 812.9 1139.2 814.3 1133.2M798.2 1132.8 803.2 1130.9 805.8 1129.2M817.8 1148.8 821.2 1147.3 824.1 1144.7M821.2 1123.2 823.6 1118.4 823.4 1109.2M823.4 1109.2 818.1 1108.8 813.2 1109.9M809.0 1118.8 807.8 1116.2M813.2 1109.9 809.4 1113.3 807.8 1116.2M796.8 1115.0 798.9 1114.0M798.9 1114.0 803.7 1114.8 807.8 1116.2M867.4 1056.2 860.5 1061.4 850.8 1063.6M867.4 1056.2 867.4 1052.4 866.5 1046.7M866.5 1046.7 854.8 1045.8 848.2 1045.3M848.2 1045.3 848.1 1051.8 845.4 1058.9M845.4 1058.9 848.3 1061.1 850.8 1063.6M875.5 1063.8 872.4 1059.8 867.4 1056.2M880.0 1039.4 875.7 1037.8 871.5 1038.1M871.5 1038.1 870.1 1043.1 866.5 1046.7M242.8 1278.9 244.6 1272.7 246.9 1262.6M242.8 1278.9 253.4 1285.1 258.0 1291.1M246.9 1262.6 258.7 1257.9 271.0 1258.4M258.0 1291.1 268.4 1282.6 275.8 1276.9M275.8 1276.9 272.2 1268.5 271.0 1258.4M229.4 1284.8 235.6 1282.5 242.8 1278.9M230.8 1250.9 235.3 1251.2M235.3 1251.2 242.2 1258.8 246.9 1262.6M256.4 1299.2 258.0 1291.1M263.2 1236.1 255.6 1237.4 247.0 1234.8M272.6 1255.2 271.0 1258.4M247.0 1234.8 243.2 1241.9 235.3 1251.2M292.6 1287.8 275.8 1276.9M181.9 1151.8 186.2 1152.9 188.6 1154.1M181.9 1151.8 181.4 1147.7 183.6 1141.2M188.6 1154.1 195.0 1151.1 202.0 1145.8M183.6 1141.2 192.3 1143.4 202.0 1145.8M204.8 1130.0 204.8 1136.8 205.2 1145.4M181.4 1138.3 180.8 1135.1M181.4 1138.3 183.6 1141.2M205.2 1145.4 202.0 1145.8M180.0 1153.1 179.0 1156.1 178.5 1159.9M180.0 1153.1 174.3 1150.7 170.7 1149.2M178.5 1159.9 174.1 1160.3 168.5 1159.7M170.7 1149.2 169.5 1155.9 168.5 1159.7M189.3 1162.4 189.8 1157.9 188.6 1154.1M189.3 1162.4 183.5 1163.3 180.0 1162.7M180.0 1162.7 178.5 1159.9M181.9 1151.8 180.0 1153.1M181.4 1138.3 176.3 1143.0 169.6 1147.5M169.6 1147.5 170.7 1149.2M273.5 1214.0 261.2 1206.7 248.8 1203.1M247.0 1234.8 244.3 1222.5 235.8 1210.2M248.8 1203.1 243.6 1206.6 235.8 1210.2M216.6 1230.6 223.5 1219.8 234.1 1210.1M235.8 1210.2 234.1 1210.1M319.9 1196.2 318.5 1192.3 315.3 1186.7M280.5 1212.2 281.6 1203.6 284.6 1190.7M315.3 1186.7 304.1 1185.9 294.8 1183.6M284.6 1190.7 289.9 1188.8 294.8 1183.6M348.6 1172.3 345.3 1170.3 339.9 1166.6M315.3 1186.7 316.3 1182.1 318.7 1178.1M339.9 1166.6 331.0 1173.4 318.7 1178.1M384.2 1108.6 384.9 1111.4 384.5 1115.0M413.9 1111.5 410.3 1117.8 405.1 1123.5M384.5 1115.0 395.9 1120.9 405.1 1123.5M839.8 1166.2 840.3 1160.9 838.4 1156.0M839.8 1166.2 839.2 1167.3M839.2 1167.3 833.9 1167.6 830.0 1166.1M830.0 1166.1 828.3 1162.2 827.9 1158.4M827.9 1158.4 831.3 1156.5 833.7 1153.7M833.7 1153.7 835.5 1154.6 838.4 1156.0M853.0 1161.3 846.9 1162.0 839.8 1166.2M853.0 1161.3 851.5 1157.2 849.6 1153.6M845.7 1152.1 841.8 1153.7 838.4 1156.0M853.4 1161.5 854.9 1165.3M840.5 1173.1 840.0 1169.5 839.2 1167.3M824.3 1171.2 827.4 1168.5 830.0 1166.1M819.8 1156.0 823.2 1157.6 827.9 1158.4M832.1 1146.5 832.7 1149.3 833.7 1153.7M853.4 1161.5 858.0 1158.5 864.6 1155.4M855.8 1146.8 858.7 1147.2 861.6 1147.8M861.6 1147.8 863.0 1150.8 864.6 1155.4M871.0 1165.3 869.1 1162.3 868.4 1157.0M883.6 1154.2 883.6 1154.2 875.4 1151.2M875.4 1151.2 871.9 1153.3 868.4 1157.0M864.6 1155.4 868.4 1157.0M618.5 1187.3 618.6 1184.2M618.5 1187.3 609.1 1192.6 606.8 1195.5M618.6 1184.2 613.0 1181.1 608.5 1178.6M608.5 1178.6 603.7 1180.3 600.3 1182.4M599.0 1191.2 600.3 1182.4M630.0 1196.9 623.9 1189.4 618.5 1187.3M623.8 1177.7 622.1 1180.6 618.6 1184.2M607.9 1169.1 608.1 1174.0 608.5 1178.6M593.9 1176.0 596.4 1178.6 600.3 1182.4M677.3 1241.2 679.9 1236.7 680.6 1232.5M677.3 1241.2 670.0 1241.8M663.7 1230.3 673.7 1226.2M680.6 1232.5 677.7 1228.5 673.7 1226.2M684.1 1232.4 680.6 1232.5M683.0 1247.8 681.0 1243.9 677.3 1241.2M658.1 1217.0 656.4 1226.4M675.1 1216.2 673.8 1221.8 673.7 1226.2M779.9 1231.0 784.7 1229.2 792.3 1228.5M779.9 1231.0 785.0 1238.3 786.3 1243.5M792.3 1228.5 795.4 1232.4 797.2 1238.2M786.3 1243.5 791.3 1242.7 796.9 1239.6M796.9 1239.6 797.2 1238.2M778.7 1230.5 779.9 1231.0M794.7 1222.5 794.1 1225.7 792.3 1228.5M784.4 1246.8 786.3 1243.5M808.4 1232.4 803.3 1233.4 797.2 1238.2M801.3 1247.5 797.9 1243.1 796.9 1239.6M899.5 1129.2 893.4 1126.9 888.7 1127.5M895.1 1116.0 890.0 1117.5 886.8 1118.4M886.8 1118.4 885.5 1120.5M888.7 1127.5 887.2 1125.0 885.5 1120.5M886.9 1140.9 883.1 1136.6M888.7 1127.5 886.0 1133.3 883.1 1136.6M888.3 1103.5 883.8 1104.7M886.8 1118.4 884.4 1111.9 883.0 1106.7M883.8 1104.7 883.0 1106.7M882.3 1084.7 881.1 1090.2 877.4 1097.2M883.8 1104.7 881.2 1101.0 877.4 1097.2M387.5 952.9 392.2 954.8 394.7 957.5M400.6 934.7 402.0 936.0M398.9 957.2 394.7 957.5M398.9 957.2 400.5 955.3 403.8 952.4M402.0 936.0 402.5 942.9 403.8 952.4M422.8 971.5 421.5 973.3 418.4 975.5M422.8 971.5 423.7 965.5 422.9 960.3M422.9 960.3 419.4 957.5 416.8 952.3M416.8 952.3 415.3 951.8M410.7 973.6 414.6 974.8 418.4 975.5M410.7 973.6 407.0 970.9M398.9 957.2 403.4 963.7 407.0 970.9M403.8 952.4 410.3 953.0 415.3 951.8M408.2 994.0 412.9 987.4 418.9 984.5M408.2 994.0 407.1 998.6 404.6 1001.7M404.6 1001.7 408.8 1006.9 411.0 1011.4M429.8 995.6 422.5 989.5 418.9 984.5M429.8 995.6 421.5 1002.0 417.0 1011.0M411.0 1011.4 413.2 1011.0 417.0 1011.0M401.3 983.7 407.0 978.5 410.7 973.6M401.3 983.7 405.6 990.1 408.2 994.0M418.4 975.5 419.6 980.8 418.9 984.5M396.2 999.9 400.5 1000.0 404.6 1001.7M401.3 983.7 397.8 983.8M397.8 983.8 397.0 991.2 394.5 995.2M407.3 1017.9 409.8 1014.8 411.0 1011.4M433.0 995.6 429.8 995.6M422.8 971.5 433.0 970.4 443.3 973.7M443.3 973.7 444.7 978.0 446.8 982.4M428.2 1018.7 423.7 1014.1 417.0 1011.0M630.5 734.3 641.5 740.9M616.9 752.5 617.1 753.3M794.1 788.3 790.1 787.1M800.7 769.8 794.5 767.5M794.5 767.5 792.7 776.9 790.1 787.1M804.2 752.1 804.8 746.2 803.5 742.3M804.2 752.1 810.5 757.4M805.8 739.1 803.5 742.3M804.2 752.1 798.5 756.3 791.5 762.3M791.5 762.3 792.4 764.3 794.5 767.5M614.5 692.0 608.7 694.9 602.0 695.3M614.5 692.0 616.3 678.1 620.6 670.8M620.6 670.8 612.3 667.7 607.7 664.8M596.2 689.5 597.2 678.2 599.0 669.8M596.2 689.5 599.2 693.8 602.0 695.3M607.7 664.8 602.6 669.0 599.0 669.8M600.8 706.1 602.2 699.5 602.0 695.3M627.2 696.8 621.1 693.2 614.5 692.0M626.9 669.1 623.9 670.7 620.6 670.8M608.8 646.1 609.1 653.1 607.7 664.8M586.1 662.3 592.9 664.8 599.0 669.8M584.6 688.9 591.3 689.3 596.2 689.5M371.0 969.2 375.9 971.1 380.9 972.8M394.7 957.5 391.3 964.0 387.5 970.6M387.5 970.6 383.4 971.2 380.9 972.8M380.1 988.2 380.9 985.2 382.1 982.3M382.1 982.3 380.6 978.5 380.9 972.8M514.7 1038.8 512.3 1040.6 509.6 1041.2M509.6 1041.2 506.2 1036.4 503.8 1034.3M491.9 1032.9 493.3 1036.1 497.4 1040.4M503.8 1034.3 501.6 1037.3 497.4 1040.4M497.4 1040.4 497.1 1042.5M494.0 1053.3 496.7 1055.0M499.8 1069.1 500.9 1067.2M496.7 1055.0 498.9 1062.3 500.9 1067.2M516.2 1067.2 508.5 1066.4 504.6 1064.9M504.6 1064.9 500.9 1067.2M518.8 1052.9 517.6 1049.8M518.8 1052.9 517.3 1055.8 517.0 1057.9M517.6 1049.8 513.2 1048.0 507.1 1047.7M517.0 1057.9 511.6 1057.2 508.6 1058.1M508.6 1058.1 508.2 1054.7 506.2 1050.6M506.2 1050.6 507.0 1047.8M529.3 1059.3 528.4 1055.9 526.2 1053.4M526.2 1053.4 523.6 1052.8 518.8 1052.9M519.7 1063.5 518.1 1061.0 517.0 1057.9M520.7 1043.3 518.6 1045.7 517.6 1049.8M509.6 1041.2 508.8 1045.0 507.1 1047.7M504.6 1064.9 506.5 1061.7 508.6 1058.1M496.7 1055.0 499.7 1052.6 506.2 1050.6M497.1 1042.5 501.9 1043.6 507.0 1047.8M407.2 922.2 410.9 920.8 415.5 920.0M415.5 920.0 416.1 923.3 416.5 925.2M407.2 922.8 409.6 925.3 414.1 927.9M414.1 927.9 416.5 925.2M427.2 934.8 423.0 934.3 420.4 932.4M427.2 934.8 428.3 933.7M420.4 932.4 421.2 928.9 422.7 926.5M422.7 926.5 424.7 926.7 427.6 927.9M427.6 927.9 427.3 931.5 428.3 933.7M415.5 920.0 416.6 918.3M416.6 918.3 414.9 913.9M431.9 899.7 433.7 900.0 438.8 902.5M437.2 894.3 439.4 895.8M439.3 902.3 440.1 899.8 439.4 895.8M427.6 927.9 431.3 925.1M434.5 930.2 432.6 933.4M434.5 930.2 433.2 928.1 432.1 925.4M428.3 933.7 432.6 933.4M431.3 925.1 432.1 925.4M418.7 912.0 423.4 914.0M424.6 906.9 426.8 909.7M423.4 914.0 425.0 910.9 426.8 909.7M434.5 909.8 432.5 910.2M434.5 909.8 437.0 912.1 441.0 913.3M437.9 918.7 434.9 917.6 431.5 917.9M437.9 918.7 440.7 916.5M440.7 916.5 441.0 913.3M431.5 917.9 432.8 914.8 432.5 910.2M430.4 901.1 431.1 905.2 431.1 909.4M426.8 909.7 431.1 909.4M438.8 902.5 436.0 905.8 434.5 909.8M431.1 909.4 432.5 910.2M352.0 800.2 350.5 798.4 347.6 796.9M352.0 800.2 359.1 798.3 360.2 798.4M347.6 796.9 350.6 792.8 353.4 785.7M353.4 785.7 357.3 785.2M345.8 812.5 349.6 811.7M349.6 811.7 351.2 807.0 352.0 800.2M345.9 796.8 347.6 796.9M342.9 782.1 348.5 784.8 353.4 785.7M328.9 864.1 331.4 860.4 332.1 856.6M328.9 864.1 324.0 864.8M320.9 856.9 325.1 855.8 328.0 854.4M332.1 856.6 328.0 854.4M336.2 820.6 338.7 824.4M344.3 816.6 344.4 820.7 345.9 823.4M338.7 824.4 342.8 823.6 345.9 823.4M344.9 909.0 345.9 909.7M350.8 917.4 345.9 909.7M328.9 864.1 332.0 865.9 334.1 866.6M337.6 859.1 334.0 856.3M337.6 859.1 336.5 862.0 336.0 865.3M332.1 856.6 334.0 856.3M334.1 866.6 336.0 865.3M367.5 919.3 367.6 916.7M367.6 916.7 365.5 914.6 363.8 911.6M354.4 916.1 357.7 910.8M363.8 911.6 361.1 911.5 357.7 910.8M345.9 909.7 350.8 908.4 356.7 909.1M357.7 910.8 356.7 909.1M376.3 912.1 378.9 908.1 380.7 906.1M376.3 912.1 374.8 911.9M374.8 911.9 372.5 908.9 368.8 903.5M380.7 906.1 378.6 903.3 376.6 901.5M376.6 901.5 374.1 902.3 369.6 902.5M368.8 903.5 369.6 902.5M381.0 916.2 376.3 912.1M384.5 905.1 380.7 906.1M367.6 916.7 371.6 915.0 374.8 911.9M363.8 911.6 366.4 908.1 368.4 903.6M376.6 901.5 377.1 899.3 378.7 896.7M383.0 896.4 378.7 896.7M370.3 894.5 374.8 895.8 377.6 895.4M370.3 894.5 369.3 899.3 369.6 902.5M378.7 896.7 377.6 895.4M383.6 883.4 386.5 887.9 388.7 891.8M383.6 883.4 380.9 884.6M387.3 892.5 385.5 891.9 379.4 889.3M380.9 884.6 379.4 889.3M377.6 895.4 377.4 892.3 378.4 889.8M379.4 889.3 378.4 889.8M570.6 1139.6 576.4 1139.6 582.5 1142.5M570.6 1139.6 569.0 1135.1M569.2 1134.5 572.1 1132.4 577.7 1129.0M582.5 1142.5 582.3 1138.4 585.0 1132.1M577.7 1129.0 581.5 1131.2 585.0 1132.1M568.5 1145.0 569.8 1142.1 570.6 1139.6M584.5 1145.9 582.5 1142.5M557.7 1136.3 562.8 1136.8 569.0 1135.1M563.9 1122.3 566.0 1127.2 569.2 1134.5M577.1 1121.3 576.8 1124.6 577.7 1129.0M591.1 1129.2 588.0 1131.2 585.0 1132.1M539.4 1042.2 538.9 1041.4M539.4 1042.2 537.6 1045.4 536.2 1050.5M538.9 1041.4 535.9 1040.3 532.4 1039.7M532.4 1039.7 530.2 1042.6 528.5 1046.0M536.2 1050.5 532.9 1050.4 529.3 1048.1M528.5 1046.0 529.3 1048.1M551.2 1036.4 549.4 1039.3 546.6 1044.1M546.6 1044.1 543.6 1044.1 539.4 1042.2M541.1 1034.0 540.4 1038.6 538.9 1041.4M540.3 1055.7 542.9 1050.9 548.0 1047.6M548.0 1047.6 546.6 1044.1M538.5 1055.0 537.5 1053.4 536.2 1050.5M529.5 1034.2 531.4 1036.4 532.4 1039.7M520.7 1043.3 523.3 1045.0 528.5 1046.0M526.2 1053.4 527.8 1050.8 529.3 1048.1M766.2 707.5 761.4 713.5M778.6 721.1 773.2 722.3 767.1 726.6M761.4 713.5 765.5 720.5 767.1 726.6M761.4 713.5 752.8 713.8M875.2 1018.5 873.0 1020.4M857.1 1011.0 858.6 1014.0 858.7 1017.0M858.7 1017.0 867.6 1017.3 873.0 1020.4M871.5 1038.1 871.0 1037.0M871.0 1037.0 872.3 1028.9 873.0 1020.4M563.8 1083.9 564.3 1078.9 563.6 1075.2M570.6 1070.4 566.9 1072.8 563.6 1075.2M552.9 1074.1 556.9 1072.5M563.6 1075.2 560.2 1074.1 556.9 1072.5M555.4 1058.3 557.4 1059.3 560.4 1060.3M555.4 1058.3 553.2 1053.5 553.5 1050.3M553.5 1050.3 556.9 1045.2 561.5 1042.9M560.9 1060.3 563.9 1058.0 567.9 1054.2M561.5 1042.9 566.3 1047.5 568.4 1051.3M568.4 1051.3 567.9 1054.2M549.9 1061.0 552.4 1059.6 555.4 1058.3M556.9 1072.5 558.6 1066.2 560.4 1060.3M548.0 1047.6 550.1 1048.9 553.5 1050.3M561.5 1041.4 561.5 1042.9M570.6 1070.4 565.1 1065.0 560.9 1060.3M576.3 1060.6 571.9 1057.6 567.9 1054.2M576.3 1060.6 574.1 1064.9 571.6 1070.2M579.3 1042.0 577.4 1039.3 575.2 1037.2M579.3 1042.0 579.0 1045.1M579.0 1045.1 572.4 1047.3 568.4 1051.3M597.9 1050.8 595.2 1056.0 594.9 1060.1M597.9 1050.8 589.4 1049.7 582.6 1050.1M594.9 1060.1 590.0 1061.8 586.8 1063.8M582.6 1050.1 581.7 1054.3 581.3 1059.5M581.3 1059.5 583.9 1062.0 586.8 1063.8M579.3 1042.0 586.5 1040.1 592.6 1035.2M579.0 1045.1 580.6 1046.7 582.6 1050.1M598.0 1050.7 597.0 1044.6 592.6 1035.2M599.2 1065.4 596.3 1063.0 594.9 1060.1M585.7 1072.8 586.3 1069.5 586.8 1063.8M576.3 1060.6 579.2 1059.5 581.3 1059.5M667.5 1118.3 671.1 1114.1M645.7 1106.0 648.2 1102.9M658.7 1117.8 657.9 1111.1 658.0 1105.7M648.2 1102.9 652.9 1104.4 658.0 1105.7M871.6 1076.7 868.3 1078.0M850.8 1063.6 851.6 1067.4M851.6 1067.4 861.8 1073.8 868.3 1078.0M845.6 1112.3 843.6 1107.1 843.0 1099.9M845.6 1112.3 842.2 1114.1 838.5 1118.9M838.5 1118.9 836.8 1118.5M836.8 1118.5 832.7 1114.1 828.6 1107.9M828.6 1107.9 838.0 1103.2 843.0 1099.9M843.4 1126.9 840.1 1122.3 838.5 1118.9M828.3 1124.8 832.2 1120.3 836.8 1118.5M823.4 1109.2 826.2 1107.2M826.2 1107.2 828.6 1107.9M858.7 1017.0 856.5 1021.3 851.9 1027.5M871.0 1037.0 862.0 1032.6 852.0 1028.7M851.9 1027.5 852.0 1028.7M840.5 1006.3 837.5 1011.3 836.9 1016.2M851.9 1027.5 841.7 1022.0 836.9 1016.2M848.2 1045.3 846.4 1042.3 845.2 1039.1M852.0 1028.7 849.0 1032.3 845.2 1039.1M824.7 995.6 821.1 997.9 819.9 1000.1M819.9 1000.1 819.7 1005.1 819.1 1011.1M836.9 1016.2 834.3 1017.9 831.9 1019.3M819.1 1011.1 825.4 1015.5 831.9 1019.3M845.2 1039.1 841.0 1038.8 837.9 1038.2M837.9 1038.2 834.6 1031.0 829.4 1026.0M831.9 1019.3 831.6 1022.5 829.4 1026.0M477.1 966.0 473.0 968.5M483.8 965.1 483.8 965.3 485.0 971.6M485.0 971.6 479.7 972.6 477.0 974.2M473.0 968.5 474.9 972.4 477.0 974.2M480.9 983.6 478.9 987.1 474.9 991.2M480.9 983.2 478.8 981.5 476.7 977.2M476.7 977.2 472.1 979.7 469.0 979.6M469.0 979.6 468.0 985.4 468.1 989.4M468.1 989.4 472.0 991.0 474.9 991.2M490.6 975.7 487.7 975.1M492.8 988.1 485.4 984.8 480.9 983.6M487.7 975.1 484.4 980.8 480.9 983.2M480.6 1000.3 476.5 995.7 474.9 991.2M487.7 975.1 485.0 971.6M477.0 974.2 476.7 977.2M457.8 992.6 461.2 990.2 468.1 989.4M449.5 983.8 459.1 980.1 465.3 973.8M465.3 973.8 466.5 976.4 469.0 979.6M203.2 1231.4 201.5 1223.2 197.3 1213.3M189.7 1237.3 180.6 1228.0 176.9 1220.5M176.9 1220.5 178.5 1217.4 182.6 1213.0M197.3 1213.3 189.1 1214.9 182.6 1213.0M197.3 1213.3 198.9 1209.5M198.9 1209.5 193.4 1201.9 187.7 1197.3M179.8 1207.9 181.7 1210.0 182.6 1213.0M179.8 1207.9 180.7 1203.0 184.5 1197.5M184.5 1197.5 187.7 1197.3M198.9 1209.5 205.3 1205.7 209.0 1199.5M187.7 1197.3 190.2 1192.8 192.7 1190.5M209.0 1199.5 200.8 1192.3 192.7 1190.5M234.1 1210.1 224.2 1203.7 217.3 1195.7M209.0 1199.5 213.5 1197.3 217.3 1195.7M142.1 1239.3 143.0 1234.3 143.8 1228.8M134.1 1226.1 138.9 1225.0M143.8 1228.8 142.2 1227.1 138.9 1225.0M179.8 1207.9 177.2 1205.8 173.8 1205.0M178.4 1192.2 181.4 1195.4 184.5 1197.5M178.4 1192.2 174.0 1193.9 170.6 1195.5M173.8 1205.0 171.7 1199.5 170.6 1195.5M226.6 1117.9 233.2 1136.2 234.3 1146.8M205.2 1145.4 207.1 1148.9 211.2 1152.7M234.3 1146.8 224.0 1151.6 211.2 1152.7M189.3 1162.4 191.4 1163.2 193.6 1165.9M193.6 1165.9 202.5 1164.8 208.8 1165.3M211.2 1152.7 208.3 1159.1 208.8 1165.3M248.8 1203.1 251.3 1195.1 251.5 1189.7M217.3 1195.7 217.8 1187.9 216.7 1180.3M216.7 1180.3 225.9 1179.8 238.4 1172.4M251.5 1189.7 246.8 1181.8 238.4 1172.4M284.6 1190.7 275.9 1183.0 267.2 1178.7M251.5 1189.7 257.9 1183.9 267.2 1178.7M339.9 1166.6 338.5 1155.6 336.2 1147.9M318.7 1178.1 314.9 1164.1 310.5 1156.2M336.2 1147.9 333.6 1146.4 331.9 1145.0M331.9 1145.0 324.5 1152.3 310.5 1156.2M294.8 1183.6 295.0 1170.1 290.2 1160.4M290.2 1160.4 298.0 1155.2 302.8 1153.4M310.5 1156.2 307.9 1154.2 302.8 1153.4M433.6 1118.4 424.4 1127.6 422.9 1132.7M405.1 1123.5 405.1 1130.6 406.7 1134.3M406.7 1134.3 409.7 1137.8M355.4 1120.1 367.1 1118.7 378.7 1122.7M355.4 1120.1 354.0 1133.8 355.9 1141.5M378.7 1122.7 376.8 1129.7 380.3 1141.3M355.9 1141.5 362.8 1143.1 371.3 1150.5M380.3 1141.3 378.0 1144.1 377.3 1147.1M371.3 1150.5 374.1 1148.4 377.3 1147.1M350.9 1114.3 352.4 1117.1 355.4 1120.1M384.5 1115.0 382.9 1118.6 378.7 1122.7M333.3 1117.7 330.7 1124.4 326.6 1129.0M336.2 1147.9 346.9 1143.7 355.9 1141.5M326.6 1129.0 329.5 1139.0 331.9 1145.0M406.7 1134.3 393.9 1135.0 380.3 1141.3M368.4 1162.5 370.4 1156.6 371.3 1150.5M401.1 1168.4 399.9 1168.1 377.3 1147.1M875.4 1151.2 873.0 1146.0 870.5 1140.2M883.1 1136.6 880.7 1135.9 877.1 1135.3M877.1 1135.3 873.5 1138.1 870.5 1140.2M861.6 1147.8 866.0 1144.1 867.9 1140.1M870.5 1140.2 867.9 1140.1M855.4 1134.7 858.1 1134.5 861.7 1134.1M867.9 1140.1 864.6 1136.6 861.7 1134.1M850.0 1127.1 853.4 1124.3 854.7 1121.5M845.6 1112.3 848.5 1112.3 851.6 1113.4M854.7 1121.5 853.5 1117.7 851.6 1113.4M418.2 950.9 421.9 948.4 428.8 946.5M418.2 950.9 421.0 945.6 423.5 940.7M423.5 940.7 426.0 940.0M428.8 946.5 428.1 942.9 426.0 940.0M422.9 960.3 428.6 958.5 431.1 955.8M416.8 952.3 418.2 950.9M428.8 946.5 431.4 947.5M431.4 947.5 432.4 949.1M431.1 955.8 431.7 951.8 432.4 949.1M434.5 930.2 438.1 930.2M432.1 925.4 434.6 924.9 437.8 924.0M437.8 924.0 440.2 925.9M440.2 925.9 438.1 930.2M468.3 938.0 470.0 937.8M468.3 938.0 465.6 936.1M469.6 928.7 467.6 929.9 465.0 931.3M465.6 936.1 465.0 931.3M466.8 921.4 464.5 923.5 462.2 925.4M466.8 921.4 468.9 925.5 469.0 925.7M465.0 931.3 463.2 930.5M462.2 925.4 462.9 927.7 463.2 930.5M465.6 936.1 461.5 938.2M457.5 931.8 460.3 931.3 463.2 930.5M457.5 931.8 458.0 936.5M461.5 938.2 458.0 936.5M465.6 948.9 466.0 945.2M465.6 948.9 466.8 950.7M466.8 950.7 469.1 951.0M467.2 944.2 472.9 944.8M467.2 944.2 466.0 945.2M468.3 938.0 467.1 940.3 467.2 944.2M461.5 942.7 461.5 938.2M461.5 942.7 463.5 943.7 466.0 945.2M712.3 742.0 723.8 752.0M723.8 752.2 710.9 762.0M791.5 762.3 788.3 761.6 785.1 759.5M803.5 742.3 792.7 742.5 784.2 743.3M785.1 759.5 783.2 752.1 784.2 743.3M787.0 728.8 784.4 733.9 783.2 742.0M783.2 742.0 784.2 743.3M581.8 735.0 582.3 741.6 580.2 746.4M601.6 743.4 595.8 747.5 590.1 753.8M580.2 746.4 585.4 749.7 590.1 753.8M611.0 765.3 600.7 763.5 591.0 761.9M591.0 761.9 589.8 759.0 590.1 753.8M611.8 768.7 606.2 773.1 601.8 783.6M591.0 761.9 586.7 767.5 586.0 768.4M585.8 775.9 590.6 778.8 601.8 783.6M608.9 791.0 602.8 787.3M602.8 787.3 601.8 783.6M396.2 975.7 394.1 974.5 390.7 973.7M396.2 975.7 397.2 979.1 397.3 983.3M390.7 973.7 391.0 978.5 390.7 982.5M397.3 983.3 394.4 982.9 391.3 983.1M391.3 983.1 390.7 982.5M407.0 970.9 402.6 972.4 396.2 975.7M387.5 970.6 390.7 973.7M382.1 982.3 386.0 983.2 390.7 982.5M389.4 990.1 389.3 986.8 391.3 983.1M432.6 933.4 435.4 936.7M438.1 930.2 440.5 934.2M440.5 934.2 440.0 935.7M440.0 935.7 435.4 936.7M449.4 935.1 449.6 937.8M449.4 935.1 447.5 933.9 444.6 932.1M449.6 937.8 446.4 937.7 441.8 939.1M444.6 932.1 440.5 934.2M440.0 935.7 441.8 939.1M427.2 934.8 427.0 938.8M427.0 938.8 429.6 939.8 433.8 940.4M435.4 936.7 433.8 940.4M431.4 947.5 432.8 943.6 434.2 941.4M427.0 938.8 426.0 940.0M433.8 940.4 434.2 941.4M420.2 932.5 417.3 931.8 414.1 931.1M420.2 932.5 420.3 934.9 419.4 938.3M415.1 939.9 412.0 937.5 409.9 935.3M415.1 939.9 419.4 938.3M409.9 935.3 411.2 933.3 414.1 931.1M414.1 927.9 414.1 931.1M416.5 925.2 418.8 924.9 422.3 925.7M422.3 925.7 422.7 926.5M423.5 940.7 419.4 938.3M402.0 936.0 406.4 936.6 409.9 935.3M415.3 951.8 414.5 947.0 415.1 939.9M459.6 918.3 457.9 920.9 457.2 923.7M459.6 918.3 462.2 918.1 465.5 917.8M466.8 921.4 466.9 920.0M457.2 923.7 460.0 925.2 462.2 925.4M465.5 917.8 466.9 920.0M466.9 920.0 473.3 921.0M444.0 903.8 446.9 902.0 448.4 900.3M444.0 903.8 443.7 906.1 444.8 910.2M448.4 900.3 452.2 901.3 455.1 903.9M444.8 910.2 449.0 911.7M449.0 911.7 452.7 910.0 455.4 907.2M455.1 903.9 455.4 907.2M439.3 902.3 444.0 903.8M441.0 913.3 444.8 910.2M457.1 915.7 453.6 916.2 450.9 917.2M457.1 915.7 457.7 913.6 457.9 909.7M457.9 909.7 455.4 907.2M450.9 917.2 450.0 914.0 449.0 911.7M450.9 917.2 450.4 918.6M440.7 916.5 443.2 919.2 445.1 920.2M450.4 918.6 447.1 919.2 445.1 920.2M437.8 924.0 437.6 921.8 437.9 918.7M440.2 925.9 444.0 925.7M445.1 920.2 445.2 922.8 444.0 925.7M444.6 932.1 444.3 929.7 445.0 926.7M444.0 925.7 445.0 926.7M657.7 817.4 657.1 826.9M663.0 814.8 670.6 820.4M657.1 826.9 664.5 829.8 669.3 829.1M670.6 820.4 671.0 824.1 669.3 829.1M675.5 817.9 670.6 820.4M686.6 822.5 685.1 827.5M685.1 827.5 679.0 830.9 671.6 832.0M671.1 831.8 669.3 829.1M420.2 918.1 422.1 916.2 423.4 914.1M420.2 918.1 421.2 920.7 422.9 922.3M423.4 914.1 427.3 917.5 430.0 919.2M422.9 922.3 425.6 921.9 429.8 919.9M416.6 918.3 420.2 918.1M422.3 925.7 422.9 922.3M431.5 917.9 430.0 919.2M431.3 925.1 430.4 922.4 429.8 919.9M327.7 847.8 328.8 845.6 328.7 842.7M327.7 847.8 328.8 849.3M328.8 849.3 333.0 848.6 336.2 848.9M328.7 842.7 331.0 842.2 334.3 842.8M336.2 848.9 335.2 846.4 334.3 842.8M321.0 848.2 323.6 847.7 327.7 847.8M326.2 839.8 328.7 842.7M328.0 854.4 328.3 851.8 328.8 849.3M334.0 856.3 335.1 851.8 336.5 849.7M337.6 859.1 340.5 858.5M336.5 849.7 340.0 851.1 343.7 853.9M340.5 858.5 341.3 856.2 343.7 853.9M356.7 909.1 357.3 904.7M368.4 903.6 364.6 902.6 362.5 901.7M362.5 901.7 360.2 903.6 357.3 904.7M346.7 899.6 350.0 897.7M357.3 904.7 354.3 901.6 350.0 897.7M346.2 886.4 348.1 892.8 350.7 896.3M346.2 886.4 346.8 884.7M346.8 884.7 350.0 884.2 352.8 883.3M352.8 883.3 353.9 884.2M353.9 884.2 355.0 887.7 357.1 892.6M357.1 892.6 353.1 893.9 350.7 896.3M346.2 886.4 342.7 889.2 337.6 890.7M350.7 896.3 350.0 897.7M370.3 894.5 369.7 893.4M362.5 901.7 361.7 899.0 361.2 895.5M369.7 893.4 366.7 894.7 361.2 895.5M357.1 892.6 358.1 892.7M361.2 895.5 358.1 892.7M400.7 876.5 395.1 876.6M395.0 886.9 391.9 881.8M395.1 876.6 394.3 879.0 391.9 881.8M396.8 865.7 391.4 871.5M395.1 876.6 393.5 874.4 391.4 871.5M383.6 883.4 385.3 879.9M391.9 881.8 388.8 881.4 385.3 879.9M380.9 884.6 377.1 883.5 374.6 881.4M378.4 889.8 374.5 888.3M374.6 881.4 375.2 884.8 374.5 888.3M369.7 893.4 369.7 891.1M374.5 888.3 372.8 889.5 369.7 891.1M377.6 866.3 381.2 869.0 384.0 874.1M377.6 866.3 375.9 868.7 373.3 871.7M373.3 871.7 375.2 873.5 376.5 877.3M376.5 877.3 380.9 876.3 383.5 875.4M383.5 875.4 384.0 874.1M385.3 879.9 383.5 875.4M374.2 880.9 376.5 877.3M391.4 871.5 388.6 871.0M388.6 871.0 386.2 871.9 384.0 874.1M716.4 728.6 736.0 735.5M737.1 733.3 736.0 735.5M723.8 752.0 730.1 748.3 735.8 740.1M736.0 735.5 735.8 740.1M599.4 962.1 607.3 964.4 614.9 963.6M599.4 962.1 593.0 969.5M614.9 963.6 611.1 969.9 609.8 982.5M609.8 982.5 607.3 984.5M587.1 946.4 596.1 951.8M596.1 951.8 598.7 955.9 599.4 962.1M596.1 951.8 600.6 947.7 607.3 945.5M607.3 945.5 611.5 949.9 616.4 952.6M614.9 963.6 616.0 963.0M616.4 952.6 616.5 958.0 616.0 963.0M627.3 984.4 616.9 982.2 609.8 982.5M627.3 984.4 626.0 976.8 627.5 966.6M616.0 963.0 622.4 964.6 627.5 966.6M630.0 1085.6 630.6 1081.5 630.0 1075.2M619.0 1078.0 625.7 1076.3 629.4 1074.6M632.1 1057.3 634.1 1060.5 636.5 1065.8M632.1 1057.3 629.0 1057.8 626.3 1058.9M629.1 1069.6 633.3 1066.9 636.5 1065.8M629.1 1069.6 626.5 1067.4M626.3 1058.9 625.5 1063.9 626.5 1067.4M618.7 1077.7 619.6 1072.7 619.6 1068.8M629.1 1069.6 629.8 1072.5 629.4 1074.6M619.6 1068.8 622.2 1069.1 626.5 1067.4M715.2 1072.3 709.0 1080.8 707.1 1082.4M715.2 1072.3 712.4 1069.6 708.3 1066.0M702.1 1081.2 701.5 1079.3 700.7 1070.6M700.7 1070.6 704.5 1069.2 708.3 1066.0M636.8 1095.0 641.9 1091.8M648.2 1102.9 647.8 1097.3 648.0 1093.6M641.9 1091.8 645.3 1093.6 648.0 1093.6M630.0 1085.6 634.3 1083.3 638.8 1083.0M641.9 1091.8 640.0 1087.8 638.8 1083.0M775.6 1077.4 772.1 1071.0 769.9 1067.2M775.6 1077.4 772.9 1084.4M769.9 1067.2 761.4 1069.1M715.2 1072.3 718.4 1071.7M845.4 1058.9 840.7 1058.8 837.1 1060.2M837.9 1038.2 833.9 1041.0 828.0 1046.5M837.1 1060.2 832.3 1056.5 828.0 1046.5M817.4 1031.1 824.3 1026.4 829.4 1026.0M817.4 1031.1 815.6 1037.3 817.4 1046.1M828.0 1046.5 823.2 1046.9 817.4 1046.1M855.7 1086.4 851.2 1084.9 845.4 1080.1M855.7 1086.4 855.4 1091.1 853.9 1097.7M853.9 1097.7 849.2 1098.9 843.3 1099.3M843.3 1099.3 841.5 1093.9 836.1 1086.6M845.4 1080.1 842.9 1081.7 838.7 1082.5M836.1 1086.6 838.7 1082.5M851.6 1067.4 846.9 1072.9 845.4 1080.1M865.0 1082.3 867.1 1080.3 868.3 1078.0M865.0 1082.3 861.1 1082.9 855.7 1086.4M826.2 1107.2 825.6 1103.7 824.5 1100.6M830.6 1087.9 828.5 1093.3 824.5 1100.6M830.6 1087.9 832.9 1087.8 836.1 1086.6M837.1 1060.2 834.0 1062.8 830.7 1066.6M830.7 1066.6 835.0 1074.9 838.7 1082.5M788.7 1075.6 783.7 1075.2 775.6 1077.4M788.7 1075.6 790.4 1078.0M785.2 1085.0 790.4 1078.0M811.4 1094.5 811.3 1091.1M811.4 1094.5 810.2 1096.2 808.4 1098.6M811.3 1091.1 806.3 1089.7 799.9 1083.8M808.4 1098.6 804.4 1100.8 800.4 1100.9M799.9 1083.8 797.5 1091.0 793.9 1096.7M800.4 1100.9 795.8 1098.8 793.9 1096.7M830.6 1087.9 824.7 1084.6 819.1 1082.5M824.5 1100.6 817.8 1095.7 811.4 1094.5M819.1 1082.5 816.5 1086.0 811.3 1091.1M813.2 1109.9 812.3 1104.7 808.4 1098.6M798.9 1114.0 801.1 1109.2 800.4 1100.9M792.6 1097.1 793.9 1096.7M790.4 1078.0 795.6 1078.6 798.8 1080.7M798.8 1080.7 799.9 1083.8M161.1 1150.0 156.4 1145.6 155.2 1145.2M161.1 1150.0 165.1 1147.7 167.8 1146.6M166.3 1142.4 163.0 1141.1 160.6 1139.1M166.3 1142.4 167.8 1146.6M160.6 1139.1 155.8 1143.0 155.0 1143.3M152.7 1156.5 156.5 1158.7M156.5 1158.7 159.6 1157.5M159.6 1157.5 161.4 1153.0 161.1 1150.0M169.6 1147.5 167.8 1146.6M168.5 1159.7 167.0 1160.9M167.0 1160.9 162.9 1159.7 159.6 1157.5M170.2 1135.2 167.8 1139.0 166.3 1142.4M160.3 1134.4 160.6 1139.1M188.1 1172.4 188.2 1177.1 191.4 1183.4M188.1 1172.4 181.9 1172.0 177.5 1171.9M180.7 1184.6 186.9 1184.7 191.3 1183.5M180.7 1184.6 178.8 1181.8 175.9 1178.9M175.9 1178.9 175.2 1176.3 175.9 1173.2M177.5 1171.9 175.9 1173.2M193.6 1165.9 190.9 1169.0 188.1 1172.4M208.8 1165.3 211.1 1170.2 212.3 1175.5M212.3 1175.5 202.4 1177.6 191.4 1183.4M180.0 1162.7 178.7 1165.8 177.5 1171.9M178.4 1192.2 178.7 1189.1 180.7 1184.6M192.7 1190.5 191.8 1187.5 191.3 1183.5M212.3 1175.5 213.8 1177.8 216.7 1180.3M167.0 1160.9 167.4 1165.5 167.1 1169.2M167.1 1169.2 172.2 1172.3 175.9 1173.2M148.6 1226.4 149.7 1221.7 152.9 1216.9M148.6 1226.4 152.7 1228.2 159.7 1231.5M152.9 1216.9 160.3 1215.9 165.1 1217.7M159.7 1231.5 162.5 1230.1 167.1 1226.8M165.1 1217.7 166.7 1219.8 168.8 1222.0M167.1 1226.8 167.5 1224.5 168.8 1222.0M158.9 1240.0 160.5 1234.7 159.7 1231.5M143.8 1228.8 145.7 1228.2 148.6 1226.4M173.1 1237.2 170.7 1233.6 167.1 1226.8M176.9 1220.5 173.4 1221.4 168.8 1222.0M173.8 1205.0 170.3 1206.1 165.8 1210.4M165.8 1210.4 165.5 1214.2 165.1 1217.7M125.2 1218.3 132.9 1211.7M138.9 1225.0 138.7 1220.4 138.2 1213.3M132.9 1211.7 135.3 1211.7 138.2 1213.3M325.9 1105.8 315.1 1105.8M326.6 1129.0 316.4 1125.8 307.7 1127.7M306.6 1124.4 307.7 1127.7M302.8 1153.4 301.8 1143.9 300.8 1134.1M307.7 1127.7 305.2 1130.1 300.8 1134.1M300.8 1134.1 292.0 1134.4 285.2 1130.9M283.0 1116.9 285.2 1130.9M267.9 1160.1 256.4 1158.4 244.5 1155.1M267.9 1160.1 271.6 1158.0 274.0 1155.9M274.0 1155.9 276.0 1150.1 274.9 1140.6M274.9 1140.6 267.8 1135.5 257.2 1127.4M241.2 1150.0 242.8 1152.5 244.5 1155.1M241.2 1150.0 248.7 1140.3 257.1 1127.4M267.2 1178.7 268.8 1171.2 267.9 1160.1M238.4 1172.4 240.0 1163.3 244.5 1155.1M290.2 1160.4 283.2 1158.1 274.0 1155.9M285.2 1130.9 281.0 1135.9 274.9 1140.6M266.6 1114.3 266.6 1114.4 257.2 1127.4M234.3 1146.8 238.5 1148.1 241.2 1150.0M237.0 1110.6 246.9 1119.8 257.1 1127.4M877.4 1097.2 872.8 1097.3 869.5 1098.6M865.0 1082.3 865.9 1089.7 868.4 1097.9M868.4 1097.9 869.5 1098.6M853.9 1097.7 855.9 1099.2M868.4 1097.9 863.0 1099.1 855.9 1099.2M851.6 1113.4 855.0 1110.8 857.3 1108.5M855.9 1099.2 857.0 1104.6 857.3 1108.5M864.9 1125.7 869.6 1126.7 874.5 1126.2M864.9 1125.7 862.3 1121.6M862.3 1121.6 865.1 1116.8 866.0 1112.6M877.1 1121.8 875.8 1123.2 874.5 1126.2M877.1 1121.8 875.0 1118.1 872.4 1113.0M872.4 1113.0 868.5 1111.6M868.5 1111.6 866.0 1112.6M877.1 1135.3 875.1 1130.7 874.5 1126.2M861.7 1134.1 864.3 1129.1 864.9 1125.7M854.7 1121.5 858.9 1120.9 862.3 1121.6M857.3 1108.5 860.4 1110.8 866.0 1112.6M885.5 1120.5 882.1 1120.2 877.1 1121.8M883.0 1106.7 877.9 1108.2 872.4 1113.0M869.5 1098.6 867.5 1106.7 868.5 1111.6M443.3 973.7 445.2 969.3M431.1 955.8 434.7 957.6 438.6 958.2M438.6 958.2 442.1 962.0 445.2 969.3M468.7 960.8 465.1 960.4M468.7 960.8 470.3 963.8 472.5 968.4M465.1 960.4 463.5 964.8 461.4 967.7M472.5 968.4 468.2 969.8 465.5 972.5M465.5 972.5 463.1 970.3 461.4 967.7M462.9 958.0 465.1 960.4M462.9 958.0 465.5 955.2 466.8 950.7M472.4 957.0 471.8 957.7 468.7 960.8M465.3 973.8 465.5 972.5M453.2 954.1 455.4 953.8 458.3 954.6M453.2 954.1 451.0 959.6 448.3 964.2M451.7 966.1 456.6 961.9 460.1 957.3M451.7 966.1 447.9 967.0M460.1 957.3 458.3 954.6M447.9 967.0 448.3 964.2M451.5 951.1 453.2 954.1M451.5 951.1 448.6 950.7 446.1 951.3M446.1 951.3 446.2 959.0 448.3 964.2M462.9 958.0 460.1 957.3M461.4 967.7 456.8 966.2 451.7 966.1M445.2 969.3 447.9 967.0M459.5 950.1 458.3 954.6M459.5 950.1 461.6 949.3 465.6 948.9M451.4 940.5 450.3 942.6M451.4 940.5 453.2 940.5M453.2 940.5 454.9 942.0 457.9 944.2M450.3 942.6 451.6 945.6 452.6 948.9M452.6 948.9 454.3 948.2 457.5 947.8M457.5 947.8 457.9 944.2M461.5 942.7 457.9 944.2M458.0 936.5 455.4 937.7 453.2 940.5M459.5 950.1 457.5 947.8M451.5 951.1 452.6 948.9M580.2 746.4 575.1 749.3M527.8 753.8 538.2 764.1M538.2 764.1 543.9 761.8M513.4 772.4 535.9 775.7M538.2 764.1 536.4 768.4 535.9 775.7M376.2 825.5 373.3 824.8M370.5 814.5 369.0 816.6M373.3 824.8 370.5 822.7 368.9 819.6M369.0 816.6 368.9 819.6M454.3 892.8 453.6 888.8 452.4 885.9M454.3 892.8 450.8 894.4 448.3 896.1M452.4 885.9 448.6 887.5 444.5 888.7M448.3 896.1 445.2 893.0M445.2 893.0 444.5 888.7M454.1 882.6 452.4 885.9M454.1 882.6 457.2 881.6M461.9 886.3 458.8 884.0 457.2 881.6M461.9 886.3 462.0 887.2M457.8 893.8 459.4 891.4 462.0 887.2M457.8 893.8 454.3 892.8M460.6 899.0 457.9 900.8 455.1 903.9M457.8 893.8 458.7 896.5 460.6 898.6M448.4 900.3 448.3 896.1M443.1 887.6 444.5 888.7M447.5 878.5 454.1 882.6M439.4 895.8 442.5 894.9 445.2 893.0M467.6 875.2 464.6 874.4 460.3 874.6M467.6 875.2 469.7 870.9 470.0 865.0M460.7 866.0 460.5 870.6 460.2 874.5M460.7 866.0 462.9 863.8 464.7 863.0M464.7 863.0 467.3 864.0 470.0 865.0M470.7 881.5 471.7 878.5M470.7 881.5 467.0 882.9 461.9 886.3M471.7 878.5 469.6 877.4 467.6 875.2M457.2 881.6 459.8 877.5 460.3 874.6M455.8 862.8 460.7 866.0M449.8 872.3 460.2 874.5M463.6 859.5 464.7 863.0M474.9 863.4 472.6 864.2 470.0 865.0M474.9 863.4 474.0 857.6M470.7 881.5 472.3 885.5 472.3 888.4M462.0 887.2 465.4 889.8 468.3 892.4M472.3 888.4 470.9 890.7 468.3 892.4M460.6 898.6 463.5 896.9 468.2 893.0M473.6 906.2 470.8 901.5M474.6 910.8 472.7 911.3 466.5 911.8M465.0 910.1 465.9 906.9 465.7 903.0M465.0 910.1 466.5 911.8M465.7 903.0 469.1 902.3 470.8 901.5M465.5 917.8 465.1 915.0 466.5 911.8M457.9 909.7 461.0 910.5 465.0 910.1M460.6 899.0 462.9 900.5 465.7 903.0M459.6 918.3 457.1 915.7M472.1 898.1 470.1 896.5 468.2 893.0M472.1 898.1 470.8 901.5M533.5 818.3 534.4 803.0M534.4 803.0 537.5 800.5M513.7 791.8 534.4 803.0M602.8 787.3 592.1 797.3 590.3 800.0M535.9 775.7 543.4 784.6 545.1 790.4M486.7 874.0 488.5 869.0 490.8 863.8M486.7 874.0 483.7 872.6 479.3 872.8M477.8 865.6 478.6 870.3 479.3 872.8M477.8 865.6 482.2 864.7 486.9 862.1M486.9 862.1 490.8 863.8M491.9 878.0 489.7 877.8M489.7 877.8 486.7 874.0M491.7 863.8 490.8 863.8M474.9 863.4 477.8 865.6M471.7 878.5 475.1 877.7M475.1 877.7 477.2 875.7 479.3 872.8M485.6 855.1 486.9 862.1M607.3 945.5 607.0 939.3 608.6 934.9M607.3 933.5 608.6 934.9M456.7 924.0 457.4 927.1 456.7 931.2M456.7 924.0 452.8 923.2M452.8 923.2 449.8 926.9M449.8 926.9 451.4 928.8 452.2 931.5M452.2 931.5 456.7 931.2M457.5 931.8 456.7 931.2M450.4 918.6 451.7 920.0 452.8 923.2M445.0 926.7 449.8 926.9M449.4 935.1 452.2 931.5M449.6 937.8 451.4 940.5M641.9 844.4 635.8 833.1M641.9 844.4 648.0 842.4 652.3 839.1M645.3 826.0 652.6 830.9M652.3 839.1 652.0 834.8 652.6 830.9M657.1 826.9 655.0 828.4 652.6 830.9M661.3 844.5 666.3 836.5 671.1 831.8M661.3 844.5 656.8 840.6 652.3 839.1M624.0 862.9 628.7 861.0 632.9 861.4M624.0 862.9 619.2 858.7 616.4 853.4M632.9 861.4 633.6 855.7 633.5 848.2M616.4 853.4 622.6 848.5 628.1 845.9M628.1 845.9 630.3 846.1 633.5 848.2M636.3 864.4 632.9 861.4M636.3 864.4 634.3 871.4 632.6 877.4M632.6 877.4 624.6 878.0 618.1 875.8M617.3 874.5 619.6 867.0 624.0 862.9M612.9 853.7 616.4 853.4M626.6 839.3 628.1 845.9M641.7 844.7 636.4 846.6 633.5 848.2M661.3 844.5 662.6 847.6 663.1 850.1M679.0 842.5 675.1 836.4 671.6 832.0M679.0 842.5 675.0 846.4 673.7 849.7M673.7 849.7 667.0 850.5 663.1 850.1M326.3 839.5 329.1 838.2 332.6 834.9M334.3 842.8 335.4 841.1M335.4 841.1 334.7 839.0 334.1 835.7M332.6 834.9 334.1 835.7M328.1 831.4 331.7 832.7M332.6 834.9 331.7 832.7M330.3 824.6 330.6 825.0 333.3 829.2M331.7 832.7 333.3 829.2M338.7 824.4 338.4 828.1M333.3 829.2 336.1 828.3 338.4 828.1M336.3 849.0 339.0 847.6 342.7 845.1M335.4 841.1 340.1 840.7M340.1 840.7 341.7 842.8 342.7 845.1M335.5 881.3 331.3 879.1M335.5 881.3 337.8 880.1M337.8 880.1 339.2 877.5 339.8 873.8M331.3 879.1 330.5 874.5M339.8 873.8 336.6 873.2 334.1 871.0M330.5 874.5 331.8 873.1 334.1 871.0M326.0 882.7 328.9 879.8 331.3 879.1M335.7 888.9 335.1 885.9 335.5 881.3M346.8 884.7 345.3 882.2M345.3 882.2 341.8 881.6 337.8 880.1M324.7 872.1 327.2 872.4 330.5 874.5M334.1 866.6 334.1 871.0M349.0 874.2 346.3 875.4M349.0 874.2 349.4 870.3 349.7 867.9M346.3 875.4 342.0 872.9M342.0 872.9 342.7 870.5 342.9 867.0M349.7 867.9 346.3 864.6M342.9 867.0 346.0 864.6M354.1 876.2 351.0 875.2 349.0 874.2M352.8 883.3 353.6 880.9 354.3 876.8M345.3 882.2 344.9 879.6 346.3 875.4M354.1 876.2 355.2 874.6 356.8 871.3M356.8 871.3 354.9 867.6M354.9 867.6 351.8 868.0 349.7 867.9M339.8 873.8 342.0 872.9M336.0 865.3 339.4 865.5 342.9 867.0M340.5 858.5 343.0 860.2 346.0 864.6M350.5 858.9 346.8 855.9 344.5 853.7M350.5 858.9 348.4 860.5 346.3 864.6M343.7 853.9 344.5 853.7M376.5 854.9 374.8 858.5 372.8 862.3M376.5 854.9 378.6 854.5M381.5 863.5 377.6 866.2M377.6 866.2 374.7 863.4 372.8 862.3M388.6 871.0 385.9 863.8 386.0 862.2M370.7 871.7 367.5 868.3M370.7 871.7 373.3 871.7M369.6 862.3 368.0 864.5 367.5 868.3M369.6 862.3 372.8 862.3M370.3 880.8 367.8 883.4 365.6 885.8M370.3 880.8 369.1 879.2 367.6 876.4M367.6 876.4 363.5 875.6M361.7 883.0 361.1 878.5M361.7 883.0 364.5 885.8M361.1 878.5 363.5 875.6M364.5 885.8 365.6 885.8M374.2 880.9 370.3 880.8M369.7 891.1 367.6 887.8 365.6 885.8M370.7 871.7 369.9 873.7 367.6 876.4M362.1 871.4 363.3 869.4M362.1 871.4 363.5 875.6M367.5 868.3 363.3 869.4M353.9 884.2 358.3 884.4 361.7 883.0M354.3 876.8 358.0 878.2 361.1 878.5M358.1 892.7 360.3 889.8 364.5 885.8M356.8 871.3 358.8 871.0 362.1 871.4M767.1 726.6 766.1 729.0M783.2 742.0 778.5 740.7 774.1 740.6M774.1 740.6 772.4 735.7 766.1 729.0M755.2 732.9 755.3 732.9M766.1 729.0 759.3 731.6 755.3 732.9M798.0 1010.5 797.2 1018.1 797.3 1029.8M798.0 1010.5 803.1 1014.3 812.8 1015.7M797.3 1029.8 804.7 1030.2 813.7 1028.2M812.8 1015.7 813.3 1023.5 813.7 1028.2M817.4 1031.1 813.7 1028.2M819.1 1011.1 816.1 1013.3 812.8 1015.7M803.8 1048.5 807.9 1049.6 815.1 1048.3M803.8 1048.5 801.0 1045.5 795.7 1042.1M817.4 1046.1 815.1 1048.3M797.3 1029.8 796.4 1031.4 794.0 1033.6M795.7 1042.1 793.9 1037.9 794.0 1033.6M762.5 920.2 766.6 921.7 770.4 926.1M762.5 920.2 758.1 924.6 754.6 926.4M770.4 926.1 768.0 930.6 763.1 936.6M763.1 936.6 758.9 934.0 754.6 927.9M754.6 926.4 754.6 927.9M776.7 917.1 775.9 920.8 775.2 925.4M776.7 917.1 771.8 911.8 768.1 909.7M762.5 915.1 765.8 911.7 768.1 909.7M762.5 915.1 762.6 917.3 762.5 920.2M775.2 925.4 770.4 926.1M775.2 925.4 779.1 927.6M770.7 941.9 763.6 941.8M763.6 941.8 764.0 939.4 763.1 936.6M678.0 971.9 678.7 968.6 679.3 963.0M678.0 971.9 673.3 971.5 668.8 971.5M668.6 961.7 668.0 967.7 668.8 971.5M668.6 961.7 672.5 958.7M679.3 963.0 675.9 961.7 672.5 958.7M636.0 956.2 629.4 950.9 625.2 946.6M636.0 956.2 640.1 953.3 642.8 951.1M642.8 951.1 644.1 946.2 643.7 943.0M643.7 943.0 640.2 940.0 637.3 937.5M637.3 937.5 630.8 939.9 626.3 939.0M626.3 939.0 626.5 942.9 625.2 946.6M616.4 952.6 620.6 950.3 625.2 946.6M627.5 966.6 630.9 964.8 634.3 963.0M634.3 963.0 634.7 959.8 636.0 956.2M640.2 925.5 639.7 932.7 637.3 937.5M640.2 925.5 642.5 924.5M642.5 924.5 646.0 925.5 649.2 926.1M652.2 938.8 650.0 931.7 649.2 926.1M652.2 938.8 647.6 941.0 643.7 943.0M640.2 925.5 634.7 924.8 628.6 921.3M626.2 922.1 625.7 926.0 623.9 935.9M623.9 935.9 626.3 939.0M608.6 934.9 618.3 937.0 623.9 935.9M623.4 1057.4 618.3 1062.3 613.9 1063.5M623.4 1057.4 622.8 1053.1 620.1 1047.6M607.3 1050.1 610.3 1047.9 613.7 1044.2M607.3 1050.1 611.4 1058.1 611.8 1063.3M611.8 1063.3 613.9 1063.5M613.7 1044.2 615.7 1046.2 620.1 1047.6M626.3 1058.9 623.4 1057.4M619.6 1068.8 616.5 1066.2 613.9 1063.5M632.1 1057.3 633.2 1055.8M633.2 1055.8 632.2 1050.2 630.6 1045.5M630.6 1045.5 626.0 1047.3 620.1 1047.6M609.9 1065.2 611.8 1063.3M598.0 1050.7 603.8 1050.9 607.3 1050.1M681.7 1063.6 683.5 1058.3 686.8 1055.1M681.7 1063.6 682.9 1069.6 685.2 1072.3M686.8 1055.1 690.1 1058.1 694.7 1061.6M687.7 1072.4 685.2 1072.3M687.7 1072.4 690.2 1070.0 694.5 1067.5M694.5 1067.5 695.0 1064.9 694.7 1061.6M685.9 1051.1 686.8 1055.1M685.9 1051.1 679.4 1050.6 671.3 1051.9M671.3 1051.9 673.8 1057.7 674.3 1062.6M674.3 1062.6 677.0 1063.2 681.7 1063.6M692.1 1082.1 687.7 1072.4M700.7 1070.6 697.5 1069.2 694.5 1067.5M658.0 1105.7 662.7 1102.9M637.2 1066.0 639.1 1068.5 640.0 1071.3M630.0 1075.2 633.4 1076.1 637.9 1076.1M637.9 1076.1 639.4 1073.7 640.0 1071.3M638.8 1083.0 640.1 1080.7M637.9 1076.1 639.4 1077.9 640.1 1080.7M708.3 1066.0 708.6 1063.3 708.1 1059.6M713.8 1057.4 708.1 1059.6M694.7 1061.6 700.1 1058.5 704.3 1055.7M708.1 1059.6 706.4 1057.7 704.3 1055.7M685.3 989.6 683.1 999.4 679.2 1003.6M685.3 989.6 690.1 990.8 694.6 993.3M679.2 1003.6 680.8 1005.7 682.9 1008.9M682.9 1008.9 686.6 1008.1 692.4 1009.2M692.4 1009.2 692.8 999.4 694.6 993.3M826.0 1066.9 822.8 1064.7 817.8 1060.8M826.0 1066.9 821.3 1073.6 818.5 1079.9M817.8 1060.8 812.8 1062.6 806.7 1069.4M818.5 1079.9 813.1 1078.4 806.7 1072.6M806.7 1069.4 806.7 1072.6M830.7 1066.6 826.0 1066.9M815.1 1048.3 815.3 1056.1 817.8 1060.8M819.1 1082.5 818.5 1079.9M799.1 1061.8 802.5 1053.5 803.8 1048.5M799.1 1061.8 802.4 1066.4 806.7 1069.4M798.8 1080.7 801.7 1077.3 806.7 1072.6M788.7 1075.6 789.0 1070.9 788.6 1064.7M788.6 1064.7 792.6 1064.0 799.1 1061.8M175.9 1178.9 172.0 1180.8 165.7 1184.7M165.7 1184.7 168.6 1190.6 170.5 1195.4M156.5 1158.7 154.9 1161.5 154.8 1165.8M167.1 1169.2 163.7 1170.6 162.0 1171.9M154.8 1165.8 158.2 1168.3 162.0 1171.9M132.9 1211.7 131.7 1206.0 130.4 1203.0M130.4 1203.0 127.3 1201.6M165.8 1210.4 162.9 1208.0 159.3 1202.4M170.5 1195.4 165.7 1196.8 160.5 1199.3M159.3 1202.4 160.5 1199.3M445.8 951.1 441.7 951.4M445.8 951.1 445.5 947.8 446.7 944.7M441.7 951.4 439.1 948.3M439.1 948.3 440.2 943.5M446.7 944.7 444.7 943.3 441.1 942.8M440.2 943.5 441.1 942.8M438.6 958.2 440.4 954.2 441.7 951.4M450.3 942.6 446.7 944.7M432.4 949.1 435.6 948.7 439.1 948.3M434.2 941.4 437.3 943.1 440.2 943.5M441.8 939.1 441.1 942.8M785.1 759.5 780.8 762.2 777.0 763.4M774.1 740.6 771.3 745.5 764.0 751.2M777.0 763.4 771.1 758.5 764.0 751.2M755.3 732.9 754.7 741.6 755.6 751.7M764.0 751.2 758.8 751.7 755.6 751.7M770.2 890.6 777.0 891.1M770.2 890.6 767.0 894.5 765.1 899.5M768.6 904.7 767.0 901.7 765.1 899.5M768.6 904.7 784.4 905.6M776.7 917.1 787.5 912.1M768.1 909.7 768.3 906.9 768.6 904.7M353.4 822.2 356.3 821.7 359.4 822.0M353.4 822.2 351.4 817.8 351.5 812.8M359.4 822.0 361.0 818.2 361.4 815.0M351.5 812.8 354.9 813.0 359.5 812.2M359.5 812.2 361.4 815.0M349.6 811.7 351.5 812.8M345.9 823.4 346.6 823.9M351.6 824.3 348.9 824.4 346.6 823.9M351.6 824.3 353.4 822.2M369.0 816.6 365.8 816.3 361.4 815.0M368.9 819.6 366.7 822.7 362.7 825.4M362.7 825.4 359.4 822.0M363.4 807.5 363.2 808.4 359.5 812.2M480.1 898.1 477.8 896.3M486.1 888.2 483.2 885.7M477.8 896.3 477.9 893.6 476.7 890.0M476.7 890.0 479.4 886.9 482.8 885.7M472.1 898.1 475.1 897.3 477.8 896.3M489.7 877.8 486.9 880.7 483.2 885.7M472.3 888.4 476.7 890.0M475.1 877.7 478.6 883.3 482.8 885.7M661.7 853.5 664.9 859.7 668.0 864.8M661.7 853.5 655.5 857.9 650.4 858.9M650.4 858.9 648.5 861.5 647.9 864.4M658.7 872.3 653.1 867.8 649.1 866.8M658.7 872.3 662.3 870.0 666.5 868.7M647.9 864.4 649.1 866.8M666.5 868.7 668.0 864.8M641.7 844.7 647.6 853.2 650.4 858.9M663.1 850.1 661.7 853.5M636.3 864.4 642.2 864.5 647.9 864.4M632.6 877.4 634.7 880.2M634.7 880.2 638.6 879.8 644.8 879.1M644.8 879.1 647.5 874.1 649.1 866.8M334.1 835.7 337.4 835.2 339.2 833.8M340.1 840.7 341.5 838.3M341.5 838.3 340.5 835.9 339.2 833.8M346.6 823.9 344.8 826.5 344.0 830.8M338.4 828.1 340.5 831.0M344.0 830.8 340.5 831.0M340.5 831.0 339.2 833.8M341.5 838.3 346.1 837.7M344.0 830.8 347.1 833.1M346.1 837.7 347.1 833.1M351.6 824.3 353.1 827.8 353.3 831.4M347.1 833.1 350.6 832.0 353.3 831.4M369.6 862.3 366.4 859.6M363.3 869.4 361.7 866.3 360.7 864.0M366.4 859.6 364.6 861.7 360.7 864.0M354.9 867.6 357.1 863.4M360.7 864.0 357.1 863.4M350.5 858.8 353.0 860.7 356.3 861.7M356.3 861.7 357.1 863.4M725.8 949.7 719.3 949.1 714.7 947.2M725.8 949.7 728.0 944.9 730.5 938.1M730.5 938.1 728.9 935.6M728.9 935.6 720.2 935.9 714.5 937.3M714.5 937.3 713.8 941.7 714.7 947.2M721.4 961.2 716.8 959.4 712.8 958.7M721.4 961.2 723.4 956.7 727.0 951.9M727.0 951.9 725.8 949.7M711.3 950.1 711.2 955.7 712.8 958.7M711.3 950.1 714.7 947.2M673.5 878.2 670.7 872.5 666.5 868.7M673.5 878.2 670.9 883.4 668.5 885.7M658.7 872.3 658.4 876.4 658.6 882.8M668.5 885.7 662.8 884.5 658.6 882.8M644.8 879.1 648.3 883.8 651.9 887.3M658.6 882.8 655.4 884.9 651.9 887.3M655.9 911.8 659.4 911.8 665.6 911.3M655.9 911.8 655.0 918.4 653.9 923.5M670.2 916.8 664.4 922.3 662.6 927.0M670.2 916.8 670.1 914.5M662.6 927.0 658.6 925.1 653.9 923.5M670.1 914.5 666.9 912.9 665.6 911.3M642.5 924.5 644.5 917.0 643.8 912.3M655.9 911.8 654.0 910.4M649.2 926.1 650.9 924.5 653.9 923.5M643.8 912.3 647.8 912.2 654.0 910.4M665.6 911.3 666.9 903.6 666.1 898.0M666.1 898.0 660.9 897.8 652.0 896.3M654.0 910.4 654.9 905.2 652.0 896.3M668.5 885.7 669.8 889.4 671.4 893.6M651.9 887.3 651.9 890.5 650.0 894.2M666.1 898.0 668.0 896.4 671.4 893.6M652.0 896.3 650.0 894.2M797.9 1010.3 789.5 1011.0 777.7 1014.7M794.0 1033.6 789.9 1032.8 786.5 1031.3M786.5 1031.3 782.2 1020.1 777.7 1014.7M685.3 989.6 682.7 985.9M682.7 985.9 683.8 981.1M683.8 981.1 690.1 980.2 698.6 975.6M704.4 982.4 703.0 978.8M704.4 982.4 701.7 986.6 699.2 992.2M694.6 993.3 699.2 992.2M698.6 975.6 701.2 977.5 703.0 978.8M720.4 973.0 714.5 970.3 710.8 969.2M720.4 973.0 718.9 977.5 719.0 984.4M719.0 984.4 712.9 984.3 704.4 982.4M703.0 978.8 705.9 974.9 710.8 969.2M724.3 969.4 721.6 971.1 720.4 973.0M724.3 969.4 722.6 964.8 721.4 961.2M712.8 958.7 710.1 962.2 708.9 964.3M710.8 969.2 710.3 967.1 708.9 964.3M689.8 967.2 693.8 968.9 697.1 969.3M689.8 967.2 687.6 964.5 686.8 959.2M686.8 959.2 687.3 957.9M687.3 957.9 693.5 957.7 698.0 956.2M698.0 956.2 700.6 959.9 701.1 963.1M697.1 969.3 698.8 965.3 701.1 963.1M683.8 981.1 682.6 978.8 682.3 976.1M682.3 976.1 687.4 971.6 689.8 967.2M698.6 975.6 698.3 971.5 697.1 969.3M682.3 976.1 680.5 974.4 678.0 971.9M679.3 963.0 683.1 960.2 686.8 959.2M684.3 951.3 685.3 953.7 687.3 957.9M684.3 951.3 679.2 953.4 673.1 953.1M673.1 953.1 672.4 956.2 672.5 958.7M684.8 948.9 684.3 951.3M684.8 948.9 691.4 946.1 695.5 943.6M701.3 949.4 700.3 952.3 698.0 956.2M701.3 949.4 699.9 948.0 698.7 945.0M695.5 943.6 698.7 945.0M711.3 950.1 707.6 950.4 701.3 949.4M708.9 964.3 704.6 962.8 701.1 963.1M634.3 963.0 639.5 967.0 643.6 969.9M650.2 954.9 652.1 958.2 652.8 964.6M650.2 954.9 646.8 954.3 642.8 951.1M643.6 969.9 649.3 966.4 652.8 964.6M668.0 987.7 677.0 985.6 682.7 985.9M668.0 987.7 663.2 982.9 662.0 978.7M668.8 971.5 665.7 973.0 662.7 976.1M662.0 978.7 662.7 976.1M668.6 961.7 665.1 960.4 662.4 959.8M662.4 959.8 660.0 963.3 655.7 965.4M662.7 976.1 658.3 969.8 655.7 965.4M652.2 938.8 654.7 939.3M662.6 927.0 664.1 929.2 664.4 933.5M654.7 939.3 660.6 936.6 664.4 933.5M650.2 954.9 654.3 952.9 660.1 949.8M654.7 939.3 656.6 946.5 660.1 949.8M673.1 953.1 670.6 950.0 669.1 947.8M662.4 959.8 661.7 955.8 660.6 950.0M669.1 947.8 664.3 949.4 660.6 950.0M652.8 964.6 655.7 965.4M642.6 1057.7 638.9 1054.8M642.6 1057.7 646.1 1056.5 647.7 1055.1M638.9 1054.8 640.3 1051.3 641.1 1048.3M647.7 1055.1 648.8 1049.6 647.6 1046.1M641.1 1048.3 643.6 1047.3 647.6 1046.1M642.7 1062.2 639.1 1063.8 637.2 1066.0M642.7 1062.2 642.6 1057.7M633.2 1055.8 636.7 1055.4 638.9 1054.8M630.6 1045.5 632.6 1043.2M632.6 1043.2 636.5 1044.4 641.1 1048.3M628.9 985.9 630.4 989.8 630.2 992.4M628.9 985.9 636.3 980.2 644.4 978.4M630.2 992.4 642.0 993.1 649.1 996.7M649.1 996.7 650.2 990.9 649.8 982.2M644.4 978.4 647.8 980.9 649.8 982.2M627.3 984.4 628.9 985.9M643.6 969.9 644.5 975.3 644.4 978.4M662.0 978.7 655.5 979.2 649.8 982.2M668.0 987.7 666.8 992.0 664.9 995.6M649.1 996.7 651.2 999.7M651.2 999.7 657.8 997.5 664.9 995.6M679.2 1003.6 675.5 1003.7 670.2 1002.8M664.9 995.6 666.7 999.6 670.2 1002.8M687.3 1048.6 685.9 1051.1M687.3 1048.6 685.4 1043.2 680.1 1035.5M670.9 1051.7 669.6 1048.9M679.8 1035.3 674.8 1036.0 672.4 1037.5M672.4 1037.5 670.0 1044.6 669.6 1048.9M670.9 1051.7 666.0 1055.9 661.6 1059.4M661.6 1059.4 658.3 1058.5 656.4 1057.8M656.4 1057.8 656.8 1052.3 656.4 1045.5M669.6 1048.9 664.4 1047.9 656.4 1045.5M654.1 1058.9 656.4 1057.8M654.1 1058.9 650.2 1057.4 647.7 1055.1M647.6 1046.1 649.5 1043.0 652.2 1040.6M656.4 1045.5 654.5 1042.7 652.2 1040.6M606.1 995.4 607.1 998.1 613.4 1003.8M613.4 1003.8 607.2 1006.5 597.0 1012.5M633.6 1009.2 632.3 1000.4 629.8 993.3M633.6 1009.2 632.3 1011.3 630.5 1013.1M630.5 1013.1 622.5 1010.4 616.0 1008.5M629.8 993.3 622.2 998.3 613.6 1003.9M613.6 1003.9 614.5 1006.1 616.0 1008.5M630.2 992.4 629.8 993.3M649.7 1008.1 650.3 1004.2 651.2 999.7M649.7 1008.1 642.0 1006.7 633.6 1009.2M632.6 1043.2 633.5 1040.7 634.1 1035.9M652.1 1038.8 652.2 1040.6M652.1 1038.8 645.7 1037.9 638.6 1033.3M634.1 1035.9 636.5 1034.0 638.6 1033.3M577.1 1022.4 581.6 1025.8 591.2 1029.2M597.6 1015.3 598.1 1017.4M598.1 1017.4 598.0 1017.7M596.9 1021.1 595.8 1024.2 591.2 1029.2M592.6 1035.2 592.9 1034.4M591.2 1029.2 592.5 1031.2 592.9 1034.4M674.3 1062.6 672.2 1064.6 670.3 1067.6M661.6 1059.4 661.8 1061.6 663.5 1064.6M670.3 1067.6 667.3 1065.4 663.5 1064.6M648.0 1093.6 650.1 1091.4M640.1 1080.7 644.6 1079.6 647.9 1080.2M647.9 1080.2 647.9 1086.8 650.1 1091.4M650.1 1091.4 653.7 1092.0 656.4 1091.1M154.8 1165.8 151.8 1168.1 146.8 1169.0M160.8 1183.1 157.4 1185.1 154.6 1189.8M160.8 1183.1 159.5 1181.0 159.3 1178.0M159.3 1178.0 153.0 1177.7 149.6 1176.1M149.6 1176.1 147.3 1180.4 145.6 1182.4M145.6 1182.4 147.0 1185.4 149.1 1190.0M149.1 1190.0 151.2 1189.8 154.6 1189.8M165.7 1184.7 162.5 1184.1 160.8 1183.1M160.5 1199.3 157.0 1195.3 154.6 1189.8M162.0 1171.9 161.1 1175.7 159.3 1178.0M146.8 1169.0 148.1 1171.6 149.6 1176.1M138.5 1182.5 145.6 1182.4M143.1 1196.7 145.8 1193.5 149.1 1190.0M143.1 1196.7 133.7 1188.8M141.4 1211.2 140.8 1204.7 141.4 1199.2M141.4 1211.2 146.2 1211.3 150.9 1212.8M150.9 1212.8 152.6 1207.9 153.6 1205.1M153.6 1205.1 148.1 1200.1 143.0 1196.7M141.4 1199.2 143.0 1196.7M138.2 1213.3 141.4 1211.2M130.4 1203.0 135.7 1200.9 141.4 1199.2M152.9 1216.9 150.9 1212.8M159.3 1202.4 156.2 1203.8 153.6 1205.1M755.9 884.0 748.9 880.7 744.7 879.9M755.9 884.0 754.5 887.3 754.7 891.4M754.7 891.4 752.0 893.5 746.7 895.0M746.7 895.0 743.2 889.6 739.9 884.8M739.9 884.8 742.5 882.7 744.7 879.9M762.5 915.1 759.4 913.2 753.6 911.7M762.6 899.2 759.0 901.6 753.2 905.4M762.6 899.2 765.1 899.5M753.6 911.7 752.7 908.1 753.2 905.4M754.6 926.4 751.2 921.3 746.4 918.0M753.6 911.7 751.0 913.8 746.4 918.0M762.6 899.2 760.4 895.2 754.7 891.4M746.7 895.0 746.2 897.9 744.9 900.5M753.2 905.4 749.0 902.0 744.9 900.5M711.9 914.8 707.4 914.5 699.9 913.3M711.9 914.8 714.8 911.3M699.9 913.3 698.9 911.8M698.9 911.8 700.4 907.7 703.3 901.5M703.3 901.5 707.4 899.8M714.8 911.3 712.2 906.7 707.4 899.8M723.8 752.2 730.4 758.4 734.5 764.8M735.8 740.1 741.8 745.9 749.1 753.6M734.5 764.8 741.9 756.8 749.1 753.6M713.0 773.3 714.3 773.2 734.0 771.7M734.5 764.8 733.6 768.6 734.0 771.7M755.6 751.7 753.4 753.5M749.1 753.6 753.4 753.5M720.5 793.9 721.5 789.0 735.1 773.6M734.0 771.7 735.1 773.6M745.5 791.8 752.4 789.9 758.3 788.3M745.5 791.8 741.5 786.9 739.6 776.1M739.6 776.1 747.7 775.4 757.5 772.9M758.3 788.3 756.4 779.6 757.5 772.9M777.0 763.4 774.8 767.1 772.6 771.5M753.4 753.5 756.3 762.5 758.3 772.0M772.6 771.5 767.1 773.4 758.3 772.0M739.6 776.1 738.0 774.6 735.1 773.6M757.5 772.9 758.3 772.0M761.6 834.8 768.9 835.0M761.6 834.8 759.9 838.5 758.1 841.7M758.1 841.7 760.1 845.2M760.1 845.2 772.9 849.3M685.1 827.5 687.8 832.7 692.9 837.2M679.0 842.5 682.3 841.9 686.8 842.7M686.8 842.7 691.2 839.8 692.9 837.2M694.5 819.9 700.1 822.6M700.1 822.6 698.5 828.2 699.6 833.9M699.6 833.9 697.4 834.9 694.1 837.2M692.9 837.2 694.1 837.2M700.1 822.6 704.3 819.4M699.6 833.9 703.9 835.7 710.9 835.4M714.5 818.5 714.9 825.2 710.9 835.4M700.9 849.9 699.3 844.1 694.1 837.2M700.9 849.9 704.4 850.3 709.4 850.8M710.9 835.4 712.5 836.9M709.4 850.8 710.9 844.5 712.5 836.9M727.9 832.7 726.7 835.9 724.9 837.4M727.9 832.7 729.0 818.9 728.7 817.8M712.5 836.9 719.6 836.1 724.9 837.4M756.8 869.5 761.0 865.4 762.3 861.2M756.8 869.5 760.3 873.1 762.0 880.0M762.0 880.0 764.6 880.4M764.6 880.4 771.2 876.0M769.0 862.9 762.3 861.2M744.9 869.4 751.9 870.0 756.8 869.5M744.9 869.4 743.6 875.0 744.7 879.9M755.9 884.0 760.0 881.7 762.0 880.0M770.2 890.6 768.7 885.3 764.6 880.4M760.1 845.2 758.2 850.6 757.9 855.1M757.9 855.1 760.3 857.7 762.3 861.2M365.4 855.4 363.4 851.1 362.1 846.5M365.3 855.6 363.0 856.2 359.7 856.0M359.7 856.0 356.6 853.7 354.8 851.9M362.1 846.5 358.9 849.1 354.6 850.8M354.8 851.9 354.6 850.8M370.5 852.6 367.8 854.8 365.4 855.4M370.5 852.6 373.9 854.7 376.5 854.9M366.4 859.6 365.3 855.6M356.3 861.7 357.1 859.2 359.7 856.0M350.5 858.8 351.5 856.1 354.8 851.9M342.7 845.1 344.6 845.5M346.1 837.7 347.6 839.9M347.6 839.9 345.7 842.8 344.6 845.5M344.5 853.7 346.1 851.7 347.1 848.7M354.6 850.8 351.7 848.3M351.7 848.3 347.1 848.7M347.1 848.7 344.6 845.5M370.5 852.6 369.8 849.7 371.2 845.1M362.1 846.5 362.4 845.6M362.4 845.6 365.8 845.2 371.2 845.1M375.1 844.8 371.9 844.5M371.2 845.1 371.9 844.5M355.1 831.8 359.0 836.6 361.2 839.2M355.1 831.8 353.7 831.6M353.7 831.6 353.0 836.5 352.1 840.5M361.2 839.2 360.6 841.1M360.6 841.1 356.1 840.7 353.3 841.7M352.1 840.5 353.3 841.7M363.0 827.5 358.6 829.9 355.1 831.8M363.0 827.5 362.7 825.4M347.6 839.9 352.1 840.5M351.7 848.3 352.4 845.8 353.3 841.7M362.4 845.6 360.6 841.1M763.6 941.8 762.5 943.2M754.6 927.9 749.3 932.3 745.5 935.3M762.5 943.2 756.6 944.8 752.9 945.0M752.9 945.0 750.1 940.5 745.5 935.3M738.3 921.9 733.0 926.1 729.0 928.0M738.3 921.9 742.6 929.6 744.7 935.2M729.0 928.0 729.4 931.6 728.9 935.6M730.5 938.1 733.4 937.9 737.3 939.4M737.3 939.4 742.1 937.4 744.7 935.2M752.9 945.0 750.3 948.7 748.0 951.7M737.3 939.4 737.9 944.7 741.6 953.5M744.7 935.2 745.5 935.3M741.6 953.5 744.4 953.3 748.0 951.7M765.7 958.2 760.8 960.2 756.4 960.8M765.7 958.2 761.9 949.2 762.5 943.2M748.0 951.7 750.2 955.5 756.4 960.8M680.4 908.8 679.1 903.5 675.6 894.9M680.4 908.8 682.5 908.7 686.1 910.0M686.1 910.0 686.9 909.6M686.9 909.6 690.1 901.2 692.0 896.3M691.9 895.9 688.3 894.1 683.9 891.2M675.6 894.9 678.8 893.2 683.9 891.2M670.1 914.5 673.5 912.1 680.4 908.8M671.4 893.6 675.6 894.9M670.2 916.8 673.3 920.9 677.9 926.2M677.9 926.2 683.7 925.3 687.0 923.4M687.0 923.4 687.4 915.1 686.1 910.0M699.9 913.3 698.1 919.2 698.4 926.1M698.9 911.8 692.5 909.1 686.9 909.6M687.0 923.4 689.6 925.2 693.2 927.6M698.4 926.1 695.9 926.5 693.2 927.6M703.3 901.5 698.8 897.8 692.0 896.3M702.5 884.4 707.2 888.6 710.9 893.7M702.5 884.4 700.6 884.3M707.4 899.8 709.5 896.0 710.9 893.8M700.6 884.3 696.7 892.1 691.9 895.9M685.0 882.8 685.2 886.9 683.9 891.2M685.0 882.8 691.1 880.3 695.4 880.1M695.4 880.1 697.3 882.1 700.6 884.3M673.5 878.2 677.4 877.9 679.9 877.1M679.9 877.1 682.1 879.2 685.0 882.8M637.1 907.1 637.3 900.2 639.1 896.8M637.1 907.1 629.6 911.6M621.7 893.6 633.2 892.1M633.2 892.1 635.9 895.1 639.1 896.8M643.8 912.3 640.8 911.2 637.1 907.1M650.0 894.2 643.8 895.1 639.1 896.8M634.7 880.2 634.0 885.9 633.2 892.1M705.7 934.5 701.9 930.5 701.0 927.2M705.7 934.5 709.0 934.8 713.7 936.3M701.0 927.2 707.1 925.8 712.0 921.6M713.7 936.3 714.6 929.7 716.6 925.7M716.6 925.7 715.1 923.5 712.0 921.6M690.7 934.9 691.6 931.1 693.2 927.6M690.7 934.9 694.4 939.7 695.5 943.6M698.7 945.0 704.0 938.9 705.7 934.5M698.4 926.1 701.0 927.2M714.5 937.3 713.7 936.3M711.9 914.8 712.8 918.5 712.0 921.6M723.6 924.4 725.8 925.5 729.0 928.0M723.6 924.4 720.2 925.2 716.6 925.7M723.6 924.4 722.6 919.2 723.9 909.9M723.9 909.9 720.5 910.3 714.8 911.3M771.0 1064.8 770.6 1060.6 768.0 1056.1M771.0 1064.8 780.1 1061.7 785.7 1062.2M768.0 1056.1 773.6 1051.1 775.7 1047.3M785.7 1062.2 784.6 1056.7 784.8 1050.7M784.8 1050.7 779.9 1048.9 775.7 1047.3M769.9 1067.2 771.0 1064.8M750.8 1058.5 757.5 1051.9M757.5 1051.9 764.7 1053.4 768.0 1056.1M788.6 1064.7 785.7 1062.2M795.7 1042.1 790.7 1043.8 784.8 1050.7M786.5 1031.3 780.4 1035.7 772.5 1037.7M772.5 1037.7 773.2 1041.6 775.7 1047.3M757.5 1044.9 765.0 1040.0 767.9 1035.6M757.5 1044.9 749.0 1038.4 743.8 1035.3M767.9 1035.6 766.4 1029.1 763.7 1025.1M763.7 1025.1 760.0 1024.3 754.6 1022.3M754.6 1022.3 749.2 1025.0 746.4 1027.3M743.8 1035.3 745.9 1030.5 746.4 1027.3M757.5 1051.9 757.7 1047.5 757.5 1044.9M772.5 1037.7 769.9 1036.5 767.9 1035.6M734.5 1050.3 736.8 1040.7M736.8 1040.7 740.1 1037.6 743.8 1035.3M777.7 1014.7 776.5 1014.2M776.5 1014.2 769.3 1019.0 763.7 1025.1M785.0 984.7 786.9 993.5M802.5 986.9 803.5 998.9M786.9 993.5 794.0 999.5 798.7 1002.7M803.5 998.9 800.6 1000.2 798.7 1002.7M765.7 958.2 769.3 960.9M766.1 973.0 754.7 972.9M754.7 972.9 752.3 968.7M756.4 960.8 754.3 964.8 752.3 968.7M770.3 985.6 769.6 992.9 767.8 1002.1M767.8 1002.1 771.2 1003.9 773.7 1006.1M773.7 1006.1 781.5 997.3 786.9 993.5M819.9 1000.1 812.7 1001.1 803.5 998.9M797.9 1010.3 798.4 1006.5 798.7 1002.7M776.5 1014.2 775.9 1010.9 773.7 1006.1M667.8 935.1 668.1 938.8 670.4 944.3M667.8 935.1 673.2 933.7 676.4 931.0M670.4 944.3 674.6 943.6 681.0 942.2M676.4 931.0 679.7 934.9 682.4 937.7M681.0 942.2 682.4 937.7M669.1 947.8 670.4 944.3M664.4 933.5 667.8 935.1M677.9 926.2 677.7 928.2 676.4 931.0M684.8 948.9 683.1 946.4 681.0 942.2M690.7 934.9 686.9 937.3 682.4 937.7M651.7 1016.8 654.8 1027.1 657.3 1032.4M651.7 1016.8 652.4 1013.9M652.4 1013.9 659.6 1012.6 665.8 1013.8M663.8 1031.8 661.5 1032.7 657.3 1032.4M663.8 1031.8 668.6 1024.5 671.1 1019.1M671.1 1019.1 668.1 1016.7 665.8 1013.8M652.1 1038.8 655.4 1035.8 657.3 1032.4M639.2 1024.4 639.5 1028.1 638.6 1033.3M639.2 1024.4 645.9 1019.3 651.7 1016.8M649.7 1008.1 651.2 1010.5 652.4 1013.9M630.5 1013.1 630.7 1017.4M630.7 1017.4 635.2 1019.7 639.2 1024.4M670.2 1002.8 668.4 1009.9 665.8 1013.8M672.4 1037.5 666.9 1034.6 663.8 1031.8M677.5 1019.5 675.1 1020.0 671.1 1019.1M677.5 1019.5 679.2 1021.6M679.2 1021.6 679.4 1027.4 679.8 1035.3M677.5 1019.5 680.4 1012.9 682.9 1008.9M613.6 1020.7 612.3 1022.0 609.2 1023.2M613.6 1020.7 618.1 1023.5 623.2 1025.0M609.2 1023.2 609.1 1028.2 607.9 1033.0M624.3 1031.7 624.2 1028.4 623.2 1025.0M624.3 1031.7 620.1 1034.4 613.7 1040.4M613.7 1040.4 609.9 1035.7 607.9 1033.0M616.0 1008.5 615.5 1015.1 613.6 1020.7M598.1 1017.4 603.4 1020.2 609.2 1023.2M630.7 1017.4 627.5 1022.6 623.2 1025.0M592.9 1034.4 599.8 1032.3 607.9 1033.0M634.1 1035.9 629.0 1033.2 624.3 1031.7M613.7 1044.2 613.7 1040.4M671.3 1072.9 669.9 1074.6 667.9 1077.2M671.3 1072.9 677.5 1073.8 682.1 1074.7M667.9 1077.2 672.9 1083.1M682.1 1074.7 680.8 1081.6M685.2 1072.3 682.1 1074.7M670.3 1067.6 670.8 1070.2 671.3 1072.9M660.0 1083.4 660.4 1078.4M660.4 1078.4 663.6 1078.6 667.9 1077.2M650.1 1077.5 655.0 1077.1 658.0 1076.5M650.1 1077.5 648.0 1074.9 646.7 1071.2M646.7 1071.2 648.0 1068.7 648.8 1065.5M658.0 1070.8 657.3 1073.2 658.0 1076.5M658.0 1070.8 654.6 1066.7 651.3 1064.4M648.8 1065.5 651.3 1064.4M647.9 1080.2 650.1 1077.5M660.4 1078.4 658.0 1076.5M640.0 1071.3 643.4 1071.1 646.7 1071.2M642.7 1062.2 646.4 1064.7 648.8 1065.5M663.5 1064.6 661.2 1067.8 658.0 1070.8M654.1 1058.9 652.9 1062.6 651.3 1064.4M721.8 1053.0 720.2 1051.8 713.7 1042.8M704.3 1055.7 703.9 1053.1 703.8 1049.9M713.7 1042.8 709.8 1045.5 703.8 1049.9M687.3 1048.6 690.4 1046.7 695.9 1045.3M695.9 1045.3 700.7 1048.8 703.8 1049.9M736.8 1040.7 731.5 1036.4 725.0 1033.2M713.7 1042.8 714.3 1038.3M725.0 1033.2 720.7 1036.1 714.3 1038.3M741.0 902.6 740.7 908.4 741.3 917.8M741.0 902.6 736.2 902.5 730.1 899.6M724.4 909.5 725.5 906.6 726.7 902.5M724.4 909.5 731.7 911.7 739.7 918.9M739.7 918.9 741.3 917.8M730.1 899.6 726.7 902.5M746.4 918.0 744.0 918.3 741.3 917.8M744.9 900.5 741.0 902.6M739.2 884.9 734.2 889.0 730.3 894.2M730.3 894.2 730.1 897.1 730.1 899.6M710.9 893.8 717.4 899.6 726.7 902.5M738.3 921.9 739.7 918.9M765.6 817.2 763.0 810.6 763.5 806.3M765.6 817.2 762.3 819.4 757.6 824.4M763.5 806.3 753.9 804.1 746.8 805.5M757.6 824.4 753.8 824.2 747.2 823.5M747.2 823.5 743.0 816.8 742.2 815.3M761.6 834.8 758.7 829.1 757.6 824.4M770.2 820.7 765.6 817.2M758.1 841.7 752.4 840.7 746.4 839.9M743.7 833.4 744.5 836.5 746.4 839.9M743.7 833.4 745.0 828.4 747.2 823.5M743.7 833.4 735.3 832.6 727.9 832.7M745.5 791.8 742.3 798.2M763.8 792.2 768.6 786.5 777.5 782.1M763.8 792.2 763.8 797.5 765.8 803.1M765.8 803.1 774.0 801.2 778.8 802.7M778.8 802.7 782.0 796.2 787.9 787.4M787.9 787.4 781.8 785.5 777.5 782.1M758.3 788.3 760.3 790.1 763.8 792.2M772.6 771.5 774.9 775.4 777.5 782.1M763.5 806.3 765.8 803.1M784.1 813.0 778.8 802.7M790.1 787.1 787.9 787.4M694.5 856.5 691.0 855.9 687.9 854.7M694.5 856.5 697.7 862.0 698.4 865.8M694.4 869.8 689.5 869.6 683.5 868.9M694.4 869.8 696.9 867.4 698.4 865.8M687.9 854.7 684.3 856.8 681.0 859.0M683.5 868.9 682.4 865.6 680.0 862.1M681.0 859.0 680.0 862.1M700.9 849.9 698.0 854.5 694.5 856.5M686.8 842.7 687.8 847.9 687.9 854.7M679.9 877.1 681.9 873.6 683.5 868.9M695.4 880.1 693.9 875.3 694.4 869.8M673.7 849.7 676.4 854.4 681.0 859.0M668.0 864.8 673.2 862.6 680.0 862.1M709.4 850.8 712.4 854.8M698.4 865.8 701.8 865.4 707.6 866.4M712.4 854.8 710.7 862.7 707.6 866.4M702.5 884.4 707.3 878.0 711.8 872.6M707.6 866.4 709.2 869.7 711.8 872.6M363.4 837.5 367.2 837.4 370.0 838.0M363.4 837.5 362.8 834.3 364.7 829.1M368.9 829.6 364.7 829.1M368.9 829.6 370.7 831.0 372.5 834.5M372.5 834.5 370.0 838.0M371.9 844.5 370.9 840.9 370.0 838.0M361.2 839.2 363.4 837.5M363.0 827.5 364.7 829.1M373.3 824.8 371.4 827.9 368.9 829.6M377.7 835.0 372.5 834.5M743.7 967.3 743.2 962.8 738.7 956.5M743.7 967.3 740.3 969.7 737.2 976.1M727.1 969.3 730.4 973.4 737.2 976.1M727.1 969.3 731.4 963.4 737.5 956.6M737.5 956.6 738.7 956.5M741.6 953.5 738.7 956.5M752.3 968.7 747.0 967.5 743.7 967.3M724.3 969.4 727.1 969.3M727.0 951.9 730.3 954.6 737.5 956.6M767.8 1002.1 764.2 1003.0 762.0 1002.4M754.6 1022.3 754.7 1018.3 753.7 1015.0M762.0 1002.4 758.1 1008.1 753.7 1015.0M746.4 1027.3 741.4 1023.8 734.3 1018.1M725.0 1033.2 724.0 1029.5 725.1 1024.7M734.3 1018.1 730.9 1021.6 725.1 1024.7M692.0 1022.7 691.5 1027.7 691.8 1031.9M692.0 1022.7 693.8 1020.2 696.3 1018.5M696.3 1018.5 702.5 1024.6 707.2 1026.8M691.8 1031.9 693.9 1033.4 696.9 1036.0M696.9 1036.0 703.2 1032.7 707.3 1031.0M707.2 1026.8 707.3 1031.0M679.2 1021.6 685.7 1022.1 692.0 1022.7M680.1 1035.5 686.8 1032.8 691.8 1031.9M692.4 1009.2 695.3 1011.3 696.5 1012.9M696.5 1012.9 696.6 1014.9 696.3 1018.5M695.9 1045.3 696.0 1040.4 696.9 1036.0M714.3 1038.3 711.8 1034.4 707.3 1031.0M715.4 1018.3 719.0 1022.0 725.1 1024.7M715.4 1018.3 712.0 1023.5 707.2 1026.8M710.9 893.7 714.4 890.0 720.4 884.9M711.8 872.6 713.0 872.9M713.0 872.9 716.5 877.3 720.4 884.9M730.3 894.2 727.2 889.9 721.8 885.0M720.4 884.9 721.8 885.0M739.2 884.9 733.7 879.5 729.8 878.0M721.8 885.0 725.8 881.4 729.8 878.0M724.9 837.4 727.1 841.3 727.2 844.2M712.4 854.8 716.5 855.4 719.1 854.8M727.2 844.2 721.8 848.6 719.1 854.8M746.4 839.9 743.9 845.9 739.5 851.1M727.2 844.2 732.0 846.9 739.5 851.1M767.8 984.4 761.8 985.1 756.9 986.8M762.0 1002.4 758.3 999.1 754.9 996.7M754.9 996.7 756.8 992.3 756.9 986.8M754.7 972.9 752.5 977.6 751.7 981.6M756.9 986.8 754.1 983.5 751.7 981.6M737.2 976.1 736.8 980.8 738.5 984.4M751.7 981.6 746.4 983.2 738.5 984.4M696.5 1012.9 700.4 1011.5 705.9 1008.7M715.4 1018.3 715.2 1016.0M705.9 1008.7 710.4 1013.7 715.2 1016.0M699.2 992.2 704.6 994.8 708.1 999.6M705.9 1008.7 707.0 1003.7 708.1 999.6M726.4 862.6 734.9 858.2 740.1 854.1M726.4 862.6 726.2 866.0 725.9 868.0M729.5 871.7 727.9 870.4 725.9 868.0M729.5 871.7 737.4 871.6 744.6 869.0M744.6 869.0 745.3 864.6 742.9 857.0M742.9 857.0 740.1 854.1M719.1 854.8 722.3 859.3 726.4 862.6M739.5 851.1 740.1 854.1M713.0 872.9 720.2 871.1 725.9 868.0M729.8 878.0 730.3 874.3 729.5 871.7M757.9 855.1 750.3 855.5 742.9 857.0M753.7 1015.0 749.2 1009.4 743.9 1006.3M754.9 996.7 751.8 997.3 747.1 998.1M743.9 1006.3 746.0 1002.6 747.1 998.1M734.3 1018.1 734.9 1014.0 733.9 1009.8M743.9 1006.3 737.3 1007.6 733.9 1009.8M738.5 984.4 737.0 987.1M747.1 998.1 740.4 993.2 737.0 987.1M723.3 1006.9 719.9 1003.2 716.3 997.3M723.3 1006.9 726.7 1006.6 731.1 1007.3M731.1 1007.3 730.6 998.8 733.4 988.9M716.3 997.3 718.6 990.5 721.0 987.4M721.0 987.4 726.2 988.7 733.4 988.9M715.2 1016.0 718.3 1011.4 723.3 1006.9M708.1 999.6 712.0 997.7 716.3 997.3M733.9 1009.8 731.1 1007.3M737.0 987.1 733.4 988.9M719.0 984.4 721.0 987.4" fill="none" stroke="#4d443b" stroke-width="0.8" stroke-linejoin="round"/>
<polygon points="186.3,408.8 191.9,410.7 191.9,417.8 196.2,423.5 193.4,440.5 201.8,437.6 208.9,430.6 213.2,439 225.9,434.8 228.7,441.9 241.4,443.3 257,437.1 264.9,448.9 264.9,460.3 271.7,473 266.9,485.7 244.3,498.4 224.5,499.9 201.8,506.1 187.7,501.3 176.4,488.5 169.3,478.6 160.8,475.8 155.2,474.4 153.7,470.2 160.8,468.7 170.7,465.9 167.9,451.8 158,444.7 160.8,441.9 176.4,446.1 180.6,432 165.1,426.3 164.5,420.7 174.1,416.4 182,413.6" fill="#a0bbe2" stroke="#5a5a5a" stroke-width="0.7" stroke-linejoin="round"/>
<polygon points="301.7,835.2 305.9,836.3 307.4,841.6 311.2,846.9 315.5,852.2 313.4,856.4 305.9,859.6 304.9,852.2 297.4,849 299.6,844.7 301.7,840.5 300.6,837.3" fill="#a0bbe2" stroke="#4a443e" stroke-width="0.75" stroke-linejoin="round"/>
<polygon points="293.2,694.1 305.9,689.2 306.6,692 301.7,699.4 295.3,704.7 291.1,705.8 290,701.5 292.1,697.3" fill="#fbb45c" stroke="#4a443e" stroke-width="0.75" stroke-linejoin="round"/>
<polygon points="283.6,709 289,707.9 287.9,713.2 284.7,720.6 281.5,723.8 281.1,718.5 283.2,713.2" fill="#fbb45c" stroke="#4a443e" stroke-width="0.75" stroke-linejoin="round"/>
<polygon points="350.5,680.3 355.8,679.3 356.8,684.6 352.6,686.7 349.8,685.6" fill="#f37021" stroke="#4a443e" stroke-width="0.75" stroke-linejoin="round"/>
<polygon points="387.6,641.1 392.9,640 391.9,646.4 387.6,652.7 384.4,661.2 381.2,657 382.3,651.7 385.5,646.4" fill="#fee2c5" stroke="#4a443e" stroke-width="0.75" stroke-linejoin="round"/>
<polygon points="259.3,786.4 268.8,779 270.9,787.5 265.6,788.5 260.3,788.1" fill="#a0bbe2" stroke="#4a443e" stroke-width="0.75" stroke-linejoin="round"/>
<polygon points="270.9,800.2 275.2,798.1 281.5,798.1 283.6,802.3 278.3,806.5 273,805.5" fill="#a0bbe2" stroke="#4a443e" stroke-width="0.75" stroke-linejoin="round"/>
<polygon points="303.8,812.9 309.1,807.6 311.2,808.7 308,814 304.4,815.7" fill="#efefef" stroke="#9a9a9a" stroke-width="0.5" stroke-linejoin="round"/>
<polygon points="338.8,742.9 347.3,741.8 350.5,748.2 347.3,752.4 340.9,751.4" fill="#fbb45c" stroke="#4a443e" stroke-width="0.75" stroke-linejoin="round"/>
<polygon points="312.3,764.1 316.5,765.2 319.7,770.5 326.1,773.7 330.3,772.6 331.4,775.8 327.1,780 326.1,784.3 322.9,782.1 321.8,776.8 316.5,772.6 313.4,768.4" fill="#fbb45c" stroke="#4a443e" stroke-width="0.75" stroke-linejoin="round"/>
<polygon points="334.6,769.4 344.1,767.3 348.4,770.5 345.2,773.7 337.8,774.1" fill="#fbb45c" stroke="#4a443e" stroke-width="0.75" stroke-linejoin="round"/>
<polygon points="333.5,794.9 340.9,792.8 343.1,801.2 342,809.7 344.1,814 340.9,818.2 334.6,819.3 329.3,817.2 330.3,809.7 332.4,803.4" fill="#fbb45c" stroke="#4a443e" stroke-width="0.75" stroke-linejoin="round"/>
<polygon points="329.3,870.2 335.6,868.1 339.9,870.2 340.9,875.5 337.8,880.8 331.4,879.7 329.3,875.5" fill="#fbb45c" stroke="#4a443e" stroke-width="0.75" stroke-linejoin="round"/>
<polygon points="335.6,864.9 340.9,863.8 343.1,868.1 338.8,870.2" fill="#f59a3a" stroke="#4a443e" stroke-width="0.75" stroke-linejoin="round"/>
<polygon points="316.5,881.9 321.8,880.8 324,886.1 319.7,889.3 316.5,887.2" fill="#fbb45c" stroke="#4a443e" stroke-width="0.75" stroke-linejoin="round"/>
<polygon points="342,884 348.4,880.8 351.5,886.1 352.6,894.6 348.4,897.8 343.1,896.7 340.9,890.4" fill="#fbb45c" stroke="#4a443e" stroke-width="0.75" stroke-linejoin="round"/>
<polygon points="357.9,881.9 364.3,879.7 368.5,884 375.9,886.1 377,892.5 372.8,896.7 368.5,897.8 364.3,894.6 360,890.4" fill="#fbb45c" stroke="#4a443e" stroke-width="0.75" stroke-linejoin="round"/>
<polygon points="364.3,895.7 370.6,894.6 372.8,899.9 368.5,903.1 364.3,902" fill="#e8873a" stroke="#4a443e" stroke-width="0.75" stroke-linejoin="round"/>
<polygon points="360,903.1 366.4,903.1 367.5,908.4 361.1,909.4" fill="#fbb45c" stroke="#4a443e" stroke-width="0.75" stroke-linejoin="round"/>
<polygon points="365.3,913.7 372.8,912.6 378.1,915.8 377,920.1 371.7,921.8 366.4,919" fill="#a0bbe2" stroke="#4a443e" stroke-width="0.75" stroke-linejoin="round"/>
<polygon points="296.4,884 302.7,881.9 303.8,886.1 297.4,886.1" fill="#9fb0cc" stroke="#4a443e" stroke-width="0.75" stroke-linejoin="round"/>
<polygon points="477,616.6 482.6,615.2 492.5,617.3 506.7,616.6 508.8,623.6 518,631.4 515.9,640.6 518,644.9 508.8,654.8 501,653.4 496.8,647.7 486.9,644.2 477,646.3 474.1,644.9 473.4,639.2 475.6,630.7 476.3,622.2" fill="#a0bbe2" stroke="#4a443e" stroke-width="0.8" stroke-linejoin="round"/>
<polygon points="471.3,653.4 477,646.3 486.9,644.2 496.8,647.7 501,653.4 508.8,656.2 509.5,661.8 506.7,670.3 501,677.4 496.1,680.9 492.5,678.8 488.3,683.1 478.4,671.7 473.4,667.5 469.9,659" fill="#a0bbe2" stroke="#4a443e" stroke-width="0.8" stroke-linejoin="round"/>
<polygon points="474.1,693.7 472.7,688.7 476.3,684.5 478.4,680.2 488.3,683.1 492.5,678.8 496.1,680.9 500.3,683.1 496.8,691.5 497.5,696.5 493.9,701.4 490.4,712.8 489.7,719.8 484,715.6 479.8,711.3 477,704.3 479.1,698.6" fill="#a0bbe2" stroke="#4a443e" stroke-width="0.8" stroke-linejoin="round"/>
<polygon points="501,677.4 506.7,670.3 516.6,668.2 525.1,669.6 529.3,674.6 533.6,683.1 538.5,691.5 539.2,695.8 537.1,701.4 532.1,707.1 529.3,705.7 526.5,702.1 522.2,704.3 512.3,702.9 508.8,695.8 505.3,684.5 500.3,683.1" fill="#a0bbe2" stroke="#4a443e" stroke-width="0.8" stroke-linejoin="round"/>
<polygon points="500.3,683.1 505.3,684.5 508.8,695.8 512.3,702.9 522.2,704.3 526.5,702.1 529.3,705.7 532.1,707.1 527.9,712.8 522.2,719.8 514.5,724.8 509.5,717 506,714.2 505.3,708.5 499.6,704.3 497.5,696.5 496.8,691.5" fill="#a0bbe2" stroke="#4a443e" stroke-width="0.8" stroke-linejoin="round"/>
<polygon points="506.7,616.6 516.6,610.9 526.5,608.1 533.6,609.5 537.1,612.3 541.3,620.8 547.7,627.9 551.9,636.4 548.4,644.9 553.4,653.4 557.6,659 553.4,661.8 551.9,668.9 549.1,669.6 544.9,661.8 540.6,657.6 537.1,660.4 532.1,656.2 526.5,650.5 518,644.9 515.9,640.6 518,631.4 508.8,623.6" fill="#a0bbe2" stroke="#4a443e" stroke-width="0.8" stroke-linejoin="round"/>
<polygon points="537.1,612.3 543.5,601 550.5,598.9 556.2,602.4 561.8,606.7 570.3,608.8 571.7,616.6 573.2,626.5 578.8,633.6 578.8,640.6 573.2,646.3 576,656.2 576,667.5 573.2,674.6 568.9,677.4 564.7,670.3 560.4,661.8 557.6,659 553.4,653.4 548.4,644.9 551.9,636.4 547.7,627.9 541.3,620.8" fill="#a0bbe2" stroke="#4a443e" stroke-width="0.8" stroke-linejoin="round"/>
<polygon points="592.9,501.5 602.4,496.2 623.6,505.8 652.3,521.7 658.7,517.4 675.6,519.6 675.6,524.9 677.8,535.5 674.6,548.2 670.3,558.8 661.8,567.3 658.7,569.4 653.4,563.1 642.7,556.7 623.6,558.8 613,550.3 591.8,530.2 593.9,514.3" fill="#a0bbe2" stroke="#4a443e" stroke-width="0.8" stroke-linejoin="round"/>
<polygon points="591.8,530.2 613,550.3 623.6,558.8 622.6,565.2 616.2,570.5 617.3,577.9 625.8,586.4 621.5,592.8 604.6,601.2 610.9,609.7 610.9,616.1 602.4,620.3 600.3,626.7 589.7,625.6 579.1,611.9 570.6,609.7 568.5,597 567.4,580 574.9,563.1 581.2,559.9 590.8,558.8 591.8,552.4 587.6,541.8" fill="#a0bbe2" stroke="#4a443e" stroke-width="0.8" stroke-linejoin="round"/>
<polygon points="603.5,671.3 613,671.3 619.4,679.7 622.6,692.5 619.4,705.2 610.9,708.4 605.6,705.2 603.5,688.2" fill="#a0bbe2" stroke="#4a443e" stroke-width="0.8" stroke-linejoin="round"/>
<polygon points="662.9,661.7 668.2,671.3 667.1,681.9 659.7,696.7 653.4,698.8 647,693.5 645.9,686.1 649.1,677.6 656.5,673.4 659.7,667" fill="#fbb45c" stroke="#4a443e" stroke-width="0.8" stroke-linejoin="round"/>
<polygon points="748.8,465.5 757.3,464.4 769,478.2 766.9,487.7 757.3,493 744.6,507.9 747.8,524.9 745.6,537.6 741.4,544 740.3,555.6 727.6,554.6 719.1,548.2 711.7,544 708.5,541.8 711.7,529.1 715.9,520.6 719.1,512.1 717,501.5 715.9,497.3 723.4,490.9 736.1,487.7 740.3,483.5 748.8,482.4" fill="#a0bbe2" stroke="#4a443e" stroke-width="0.8" stroke-linejoin="round"/>
<polygon points="690.5,605.5 700,604.4 706.4,597 717,588.5 727.6,592.8 731.9,601.2 736.1,609.7 739.3,616.1 731.9,622.5 727.6,627.8 719.1,627.8 712.8,630.9 706.4,635.2 697.9,633.1 694.7,626.7 692.6,614" fill="#a0bbe2" stroke="#4a443e" stroke-width="0.8" stroke-linejoin="round"/>
<polygon points="800.8,586.4 797.6,597 792.3,607.6 788.1,616.1 783.8,623.5 772.2,618.2 770,612.9 774.3,607.6 784.9,601.2 793.4,594.9" fill="#a0bbe2" stroke="#4a443e" stroke-width="0.8" stroke-linejoin="round"/>
<polygon points="673.5,654.3 682,653.2 684.1,659.6 677.8,661.7 673.5,659.6" fill="#a9bbd8" stroke="#7788aa" stroke-width="0.4" stroke-linejoin="round"/>
<polygon points="685.2,659.6 688.4,659.6 688.4,663.8 685.2,663.8" fill="#a9bbd8" stroke="#7788aa" stroke-width="0.4" stroke-linejoin="round"/>
<polygon points="539.3,800.8 545.6,798 550.9,801.8 554.1,810.3 555.2,816.7 550.9,817.8 545.6,813.5 540.3,806.1" fill="#a0bbe2" stroke="#4a443e" stroke-width="0.75" stroke-linejoin="round"/>
<polygon points="571.1,787 577.4,782.7 581.7,785.9 581.7,791.2 576.4,794.4 572.1,792.3" fill="#a0bbe2" stroke="#4a443e" stroke-width="0.75" stroke-linejoin="round"/>
<polygon points="530.8,778.5 538.2,772.1 544.6,767.9 553,771.1 555.6,776.4 552,779.6 545.6,781.7 546.7,789.1 541.4,793.4 535,793.4 531.8,784.9" fill="#a0bbe2" stroke="#4a443e" stroke-width="0.8" stroke-linejoin="round"/>
<polygon points="571.1,741.4 576.4,748.8 584.9,753 591.2,756.2 595.5,757.3 591.2,763.6 593.4,773.2 588,774.3 584.9,765.8 579.6,757.3 574.3,750.9" fill="#a0bbe2" stroke="#4a443e" stroke-width="0.8" stroke-linejoin="round"/>
<polygon points="555.6,844.3 563.6,842.1 570,837.9 578.5,833.7 587,832.6 591.2,827.3 596.5,824.1 599.7,827.3 598.7,832.6 604,837.9 609.3,842.1 613.5,846.4 610.3,848.5 609.3,852.8 610.3,858.1 604,855.9 597.6,859.1 591.2,863.4 582.7,861.2 574.3,860.2 567.9,863.4 561.5,861.2 553,859.1 555.2,852.8" fill="#a0bbe2" stroke="#4a443e" stroke-width="0.8" stroke-linejoin="round"/>
<polygon points="613.5,846.4 620.9,842.1 629.4,837.9 630.5,844.3 627.3,852.8 632.6,857 629.4,863.4 623.1,861.2 620.9,871.9 616.7,877.2 612.4,871.9 610.3,858.1 609.3,852.8 610.3,848.5" fill="#a0bbe2" stroke="#4a443e" stroke-width="0.8" stroke-linejoin="round"/>
<polygon points="629.4,837.9 637.9,841.1 648.5,839 654.9,840 652.8,848.5 648.5,857 644.3,863.4 635.8,863.4 629.4,863.4 632.6,857 627.3,852.8 630.5,844.3" fill="#a0bbe2" stroke="#4a443e" stroke-width="0.8" stroke-linejoin="round"/>
<polygon points="665.5,813.5 671.9,812.4 676.1,818.8 681.4,823.1 690.9,822 692,827.3 695.2,833.7 690.9,842.1 686.7,844.3 680.3,841.1 676.1,835.8 675,829.4 667.6,827.3" fill="#a0bbe2" stroke="#4a443e" stroke-width="0.8" stroke-linejoin="round"/>
<polygon points="696.3,818.8 700.5,819.9 709,818.8 729.1,817.8 746.1,814.6 748.2,825.2 744,835.8 735.5,840 729.1,844.3 718.5,850.6 709,850.6 706.9,844.3 695.2,833.7 692,827.3 690.9,822" fill="#a0bbe2" stroke="#4a443e" stroke-width="0.8" stroke-linejoin="round"/>
<polygon points="682.5,844.3 690.9,842.1 699.4,848.5 702.6,857 699.4,861.2 693.1,860.2 686.7,857 680.3,852.8" fill="#a0bbe2" stroke="#4a443e" stroke-width="0.8" stroke-linejoin="round"/>
<polygon points="669.7,852.8 676.1,853.8 682.5,859.1 688.8,861.2 690.9,863.4 684.6,864.4 676.1,862.3 669.7,858.1" fill="#a0bbe2" stroke="#4a443e" stroke-width="0.8" stroke-linejoin="round"/>
<polygon points="733.4,840 739.7,837.9 746.1,846.4 752.5,852.8 765.2,850.6 772.6,852.8 773.7,861.2 771.6,869.7 763.1,869.7 754.6,878.2 747.2,881.4 744,874 737.6,867.6 740.8,862.3 746.1,862.3 741.9,854.9 735.5,848.5" fill="#a0bbe2" stroke="#4a443e" stroke-width="0.8" stroke-linejoin="round"/>
<polygon points="701.6,857 710,852.8 718.5,850.6 722.8,859.1 729.1,863.4 727,869.7 733.4,876.1 735.5,884.6 729.1,886.7 722.8,882.5 718.5,876.1 712.2,876.1 709,882.5 714.3,886.7 720.7,888.8 723.8,893.1 716.4,894.1 710,890.9 703.7,886.7 695.2,886.7 693.1,880.3 699.4,874 701.6,865.5" fill="#a0bbe2" stroke="#4a443e" stroke-width="0.8" stroke-linejoin="round"/>
<polygon points="665.5,872.9 674,876.1 684.6,878.2 693.1,880.3 695.2,886.7 688.8,892 680.3,888.8 669.7,884.6 665.5,879.3" fill="#a0bbe2" stroke="#4a443e" stroke-width="0.8" stroke-linejoin="round"/>
<polygon points="688.8,892 695.2,886.7 703.7,886.7 710,890.9 709,899.4 703.7,901.6 698.4,903.7 699.4,910 701.6,914.3 693.1,914.3 684.6,912.2 686.7,901.6" fill="#a0bbe2" stroke="#4a443e" stroke-width="0.8" stroke-linejoin="round"/>
<polygon points="735.5,884.6 744,886.7 752.5,884.6 754.6,888.8 767.3,895.2 768.4,903.7 763.1,910 762,918.5 754.6,914.3 753.5,907.9 750.4,899.4 751.4,893.1 744,889.9 737.6,888.8" fill="#a0bbe2" stroke="#4a443e" stroke-width="0.8" stroke-linejoin="round"/>
<polygon points="627.3,912.2 635.8,907.9 642.1,912.2 648.5,918.5 650.6,924.9 648.5,931.3 640,929.1 633.7,924.9 628.4,920.7" fill="#a0bbe2" stroke="#4a443e" stroke-width="0.8" stroke-linejoin="round"/>
<polygon points="632.6,935.5 640,929.1 648.5,931.3 652.8,939.7 659.1,944 663.4,947.2 662.3,958.8 652.8,958.8 642.1,954.6 639,946.1 633.7,941.9" fill="#a0bbe2" stroke="#4a443e" stroke-width="0.8" stroke-linejoin="round"/>
<polygon points="676.1,914.3 684.6,912.2 690.9,916.4 692,924.9 690.9,933.4 686.7,939.7 680.3,941.9 676.1,935.5 669.7,933.4 666.5,929.1 671.9,922.8 674,918.5" fill="#a0bbe2" stroke="#4a443e" stroke-width="0.8" stroke-linejoin="round"/>
<polygon points="747.2,926 754.6,924.9 761,929.1 759.9,941.9 752.5,942.9 747.2,937.6" fill="#a0bbe2" stroke="#4a443e" stroke-width="0.8" stroke-linejoin="round"/>
<polygon points="606.1,994.9 612.4,990.7 627.3,991.7 631.5,1000 604,1000" fill="#a0bbe2" stroke="#4a443e" stroke-width="0.8" stroke-linejoin="round"/>
<polygon points="721.7,763.6 728.1,759.4 733.4,760.5 735.5,772.1 737.6,780.6 750.4,787 752.5,791.2 744,795.5 733.4,795.5 728.1,789.1 729.1,782.7 724.9,778.5 722.8,770" fill="#a0bbe2" stroke="#4a443e" stroke-width="0.8" stroke-linejoin="round"/>
<polygon points="788.8,1269.7 795.2,1265.5 803.6,1263.4 812.1,1265.5 812.1,1269.7 820.6,1270.8 829.1,1269.7 834.4,1274 833.4,1282.5 825.9,1286.7 824.9,1290.9 831.2,1295.2 833.4,1302.6 828,1297.3 823.8,1298.4 820.6,1305.8 815.3,1298.4 811.1,1295.2 805.8,1300.5 801.5,1295.2 800.5,1286.7 794.1,1280.3 786.7,1274" fill="#a0bbe2" stroke="#777777" stroke-width="0.6" stroke-linejoin="round"/>
<polygon points="725.6,721.4 728.8,724.6 735.2,730.9 741.5,736.2 750,737.3 753.2,733 756.4,722.4 753.2,709.7 759.6,709.7 764.9,705.5 773.4,707.6 784,713.9 791.4,711.8 798.8,711.8 807.3,716.1 809.4,726.7 817.9,735.2 820,745.8 811.5,756.4 805.2,762.7 799.9,763.8 792.4,761.7 786.1,756.4 781.8,762.7 775.5,767 771.2,769.1 769.1,777.6 761.7,778.7 759.6,767 760.6,756.4 743.6,756.4 735.2,758.5 724.6,759.6 716.1,763.8 712.9,769.1 710.8,760.6 710.8,750 712.9,739.4 715,730.9 720.3,725.6" fill="#a0bbe2" stroke="#4a443e" stroke-width="0.8" stroke-linejoin="round"/>
<polygon points="724.6,759.6 732,759.6 735.2,758.5 737.3,769.1 736.2,778.7 730.9,779.7 725.6,781.8 722.4,775.5 723.5,767" fill="#a0bbe2" stroke="#4a443e" stroke-width="0.8" stroke-linejoin="round"/>
<polygon points="727.7,781.8 736.2,778.7 741.5,782.9 751.1,788.2 752.1,791.4 743.6,793.5 734.1,795.6 728.8,792.4 729.9,786.1" fill="#a0bbe2" stroke="#4a443e" stroke-width="0.8" stroke-linejoin="round"/>
<polygon points="386.4,972.8 391.7,968.5 399.1,969.6 406.5,972.8 415,974.9 419.3,983.4 420.3,989.7 413.9,992.9 409.7,997.2 403.3,998.2 401.2,992.9 393.8,994 391.7,986.5 387.4,981.2" fill="#fbb45c" stroke="#4a443e" stroke-width="0.8" stroke-linejoin="round"/>
<polygon points="389.5,970.6 399.1,969.6 405.9,973.2 405,983.4 401.2,992.9 393.8,993.6 393.2,985.5 395.9,978.1 390.6,973.8" fill="#f37021" stroke="#4a443e" stroke-width="0.8" stroke-linejoin="round"/>
<polygon points="451.1,965.3 457.4,964.3 461.7,968.5 463.8,977 462.7,987.6 459.6,996.1 463.8,994 471.2,997.2 481.8,998.2 488.2,996.1 490.3,989.7 486.1,987.6 479.7,989.7 473.4,985.5 469.1,977 468,968.5 473.4,967.5 478.7,970.6 481.8,977 490.3,977 498.8,981.2 507.3,983.4 503.1,991.9 498.8,1000.3 495.6,1008.8 495.6,1019.4 490.3,1024.7 484,1022.6 480.8,1015.2 484,1009.9 478.7,1006.7 471.2,1006.7 464.9,1004.6 460.6,1000.3 456.4,991.9 450,987.6 449,977 450,970.6" fill="#fbb45c" stroke="#4a443e" stroke-width="0.8" stroke-linejoin="round"/>
<polygon points="505.2,1056.6 511.5,1052.3 524.3,1050.2 528.5,1053.4 532.8,1052.3 541.2,1053.4 547.6,1049.1 556.1,1052.3 564.6,1053.4 570.9,1054.4 576.3,1052.3 577.3,1059.7 573.1,1064 566.7,1068.2 562.5,1072.5 556.1,1074.6 554,1081 560.3,1087.3 566.7,1092.6 560.3,1095.8 551.9,1095.8 547.6,1102.2 543.4,1108.5 537,1110.7 528.5,1106.4 520,1105.4 512.6,1104.3 509.4,1095.8 507.3,1087.3 502,1083.1 500.9,1074.6 502,1066.1" fill="#fbb45c" stroke="#4a443e" stroke-width="0.8" stroke-linejoin="round"/>
<polygon points="547.6,1057.6 551.9,1056.6 552.9,1068.2 556.1,1074.6 552.9,1081 547.6,1087.3 543.4,1085.2 539.1,1082 542.3,1074.6 544.4,1066.1" fill="#f37021" stroke="#4a443e" stroke-width="0.8" stroke-linejoin="round"/>
<polygon points="531.7,1082 539.1,1082 547.6,1087.3 550.8,1092.6 545.5,1094.8 538.1,1090.5 532.8,1087.3" fill="#ee6a1f" stroke="#4a443e" stroke-width="0.8" stroke-linejoin="round"/>
<polygon points="521.1,1035.3 525.3,1034.3 526.4,1039.6 522.1,1040.7" fill="#a0bbe2" stroke="#4a443e" stroke-width="0.8" stroke-linejoin="round"/>
<polygon points="479.8,857.6 488.3,856.8 490,861.9 486.6,865.3 481.5,864.4" fill="#a0bbe2" stroke="#4a443e" stroke-width="0.8" stroke-linejoin="round"/>
<polygon points="472.1,874.6 484,878 484.9,882.2 478.9,883.9 473.8,882.2 471.7,878" fill="#fbb45c" stroke="#4a443e" stroke-width="0.8" stroke-linejoin="round"/>
<polygon points="465.3,887.3 471.3,883.9 474.7,884.8 473.8,890.7 470.4,894.1 466.2,895 464.5,890.7" fill="#fbb45c" stroke="#4a443e" stroke-width="0.8" stroke-linejoin="round"/>
<polygon points="456.9,909.4 473,908.6 475.1,913.6 473.8,919.6 467.9,923 472.1,926.4 473,931.5 471.3,934.9 473,940 469.6,943.4 466.2,946.7 464.5,951.8 461.1,956.9 454.3,957.8 450.9,954.4 452.6,950.1 457.7,947.6 458.6,941.7 462.8,940 462.8,934.9 459.4,931.5 454.3,934.9 450.9,941.7 447.5,943.4 445.8,949.3 442.4,951 440.7,946.7 441.6,942.5 439.9,935.7 437.3,931.5 436.5,926.4 439.9,923 445.8,923 450.9,924.7 456,922.1 458.6,917.9 456,913.6" fill="#fbb45c" stroke="#4a443e" stroke-width="0.8" stroke-linejoin="round"/>
<polygon points="457.7,902.6 462.8,900.9 469.6,902.6 473,906 471.3,908.6 464.5,907.7 459.4,906.9" fill="#f37021" stroke="#4a443e" stroke-width="0.8" stroke-linejoin="round"/>
<polygon points="458.6,941.7 462.8,940.8 464.5,945 462.8,948.4 458.6,947.6 457.7,944.2" fill="#f37021" stroke="#4a443e" stroke-width="0.8" stroke-linejoin="round"/>
<polygon points="457.7,923 464.5,923.8 465.3,927.2 461.1,929.8 458.6,927.2" fill="#f08a3c" stroke="#4a443e" stroke-width="0.8" stroke-linejoin="round"/>
<polygon points="420.4,912.8 424.6,912 425.5,917.9 423.8,922.1 421.2,920.4" fill="#fbb45c" stroke="#4a443e" stroke-width="0.8" stroke-linejoin="round"/>
<polygon points="421.2,923.8 425.5,923 426.3,926.4 422.9,928.1" fill="#fbb45c" stroke="#4a443e" stroke-width="0.8" stroke-linejoin="round"/>
<polygon points="430.6,935.7 433.9,934.9 435.6,938.3 432.2,940" fill="#fbb45c" stroke="#4a443e" stroke-width="0.8" stroke-linejoin="round"/>
<polygon points="411,917 414.4,915.3 415.3,918.7 412.7,920.4" fill="#a9bbe0" stroke="#4a443e" stroke-width="0.8" stroke-linejoin="round"/>
<polygon points="189.6,1164 197,1160.8 205.5,1164 216.1,1168.2 225.6,1171.4 222.4,1177.8 216.1,1183.1 207.6,1189.4 199.1,1185.2 193.8,1185.2 186.4,1186.2 187.4,1176.7" fill="#f37021" stroke="#4a443e" stroke-width="0.85" stroke-linejoin="round"/>
<polygon points="235.2,1169.3 243.7,1165 254.3,1164 260.6,1166.1 264.9,1171.4 258.5,1175.6 252.1,1178.8 245.8,1183.1 238.4,1186.2 235.2,1178.8" fill="#f37021" stroke="#4a443e" stroke-width="0.85" stroke-linejoin="round"/>
<polygon points="261.7,1165 269.1,1157.6 277.6,1155.5 286.1,1154.4 291.4,1158.7 296.7,1161.8 294.6,1170.3 290.3,1176.7 281.9,1182 276.5,1177.8 271.2,1174.6 264.9,1171.4" fill="#f37021" stroke="#4a443e" stroke-width="0.85" stroke-linejoin="round"/>
<polygon points="238.4,1186.2 245.8,1183.1 252.1,1178.8 258.5,1175.6 257.5,1185.2 260.6,1193.7 262.8,1204.3 254.3,1206.4 247.9,1208.5 243.7,1204.3 239.4,1197.9 234.1,1197.9 237.3,1191.5" fill="#f37021" stroke="#4a443e" stroke-width="0.85" stroke-linejoin="round"/>
<polygon points="258.5,1175.6 264.9,1173.5 271.2,1174.6 276.5,1177.8 281.9,1182 290.3,1183.1 296.7,1189.4 295.6,1197.9 290.3,1200 284,1194.7 277.6,1197.9 271.2,1202.1 262.8,1204.3 260.6,1193.7 257.5,1185.2" fill="#f37021" stroke="#4a443e" stroke-width="0.85" stroke-linejoin="round"/>
<polygon points="225.6,1218.1 230.9,1217 239.4,1224.4 247.9,1226.5 262.8,1224.4 267,1229.7 262.8,1240.3 264.9,1249.9 256.4,1250.9 245.8,1248.8 235.2,1246.7 226.7,1242.5 218.2,1236.1 222.4,1227.6" fill="#f37021" stroke="#4a443e" stroke-width="0.85" stroke-linejoin="round"/>
<polygon points="267,1229.7 277.6,1231.9 294.6,1231.9 298.8,1236.1 297.8,1244.6 303.1,1250.9 296.7,1252 290.3,1257.3 279.7,1259.4 272.3,1264.7 267,1261.6 268.1,1253.1 264.9,1249.9 262.8,1240.3" fill="#f37021" stroke="#4a443e" stroke-width="0.85" stroke-linejoin="round"/>
<polygon points="372,1160.8 376.3,1161.8 383.7,1168.2 385.8,1174.6 391.1,1179.9 383.7,1185.2 375.2,1188.4 366.7,1190.5 362.5,1180.9 364.6,1172.4 369.9,1168.2" fill="#f37021" stroke="#4a443e" stroke-width="0.85" stroke-linejoin="round"/>
<polygon points="252.1,1132.1 258.5,1127.9 260.6,1122.6 268.1,1120.5 274.4,1123.6 275.5,1132.1 277.6,1140.6 273.4,1149.1 274.4,1154.4 269.1,1157.6 261.7,1165 256.4,1164 251.1,1161.8 252.1,1151.2 249,1142.7" fill="#fbb45c" stroke="#4a443e" stroke-width="0.85" stroke-linejoin="round"/>
<polygon points="274.4,1123.6 279.7,1125.8 286.1,1127.9 290.3,1134.3 289.3,1142.7 294.6,1148 298.8,1153.4 296.7,1161.8 291.4,1158.7 286.1,1154.4 277.6,1155.5 274.4,1154.4 273.4,1149.1 277.6,1140.6 275.5,1132.1" fill="#fbb45c" stroke="#4a443e" stroke-width="0.85" stroke-linejoin="round"/>
<polygon points="290.3,1134.3 298.8,1127.9 306.3,1123.6 310.5,1127.9 309.4,1132.1 315.8,1135.3 321.1,1136.4 317.9,1142.7 311.6,1144.9 307.3,1151.2 305.2,1158.7 298.8,1153.4 294.6,1148 289.3,1142.7" fill="#fbb45c" stroke="#4a443e" stroke-width="0.85" stroke-linejoin="round"/>
<polygon points="307.3,1151.2 311.6,1144.9 317.9,1142.7 319,1151.2 320,1161.8 324.3,1172.4 330.7,1180.9 339.1,1182 338.1,1188.4 332.8,1187.3 322.2,1182 317.9,1185.2 309.4,1187.3 300.9,1188.4 296.7,1189.4 290.3,1183.1 290.3,1176.7 294.6,1170.3 296.7,1161.8 305.2,1158.7" fill="#fbb45c" stroke="#4a443e" stroke-width="0.85" stroke-linejoin="round"/>
<polygon points="226.7,1140.6 232,1139.6 233.1,1151.2 241.5,1155.5 250,1159.7 251.1,1161.8 256.4,1164 243.7,1165 235.2,1169.3 225.6,1171.4 222.4,1166.1 224.6,1155.5" fill="#fbb45c" stroke="#4a443e" stroke-width="0.85" stroke-linejoin="round"/>
<polygon points="225.6,1171.4 235.2,1169.3 235.2,1178.8 238.4,1186.2 237.3,1191.5 234.1,1197.9 224.6,1197.9 216.1,1195.8 210.8,1190.5 216.1,1183.1 222.4,1177.8" fill="#fbb45c" stroke="#4a443e" stroke-width="0.85" stroke-linejoin="round"/>
<polygon points="171.5,1202.1 180,1200 183.2,1191.5 190.6,1186.2 199.1,1185.2 207.6,1189.4 210.8,1190.5 216.1,1195.8 214,1204.3 218.2,1214.9 211.8,1219.1 203.4,1223.4 194.9,1219.1 186.4,1214.9 180,1208.5 173.6,1208.5" fill="#fbb45c" stroke="#4a443e" stroke-width="0.85" stroke-linejoin="round"/>
<polygon points="216.1,1195.8 224.6,1197.9 234.1,1197.9 239.4,1197.9 243.7,1204.3 247.9,1208.5 254.3,1206.4 262.8,1204.3 261.7,1212.8 263.8,1223.4 247.9,1226.5 239.4,1224.4 230.9,1217 225.6,1218.1 218.2,1214.9 214,1204.3" fill="#fbb45c" stroke="#4a443e" stroke-width="0.85" stroke-linejoin="round"/>
<polygon points="262.8,1204.3 271.2,1202.1 277.6,1197.9 284,1194.7 290.3,1200 294.6,1208.5 300.9,1217 299.9,1223.4 294.6,1231.9 277.6,1231.9 267,1229.7 263.8,1223.4 261.7,1212.8" fill="#fbb45c" stroke="#4a443e" stroke-width="0.85" stroke-linejoin="round"/>
<polygon points="184.3,1093.9 189.6,1087.6 194.9,1091.8 198,1099.3 199.1,1106.7 197,1115.2 191.7,1123.6 183.2,1121.5 177.9,1117.3 177.9,1108.8 181.1,1100.3" fill="#a0bbe2" stroke="#4a443e" stroke-width="0.8" stroke-linejoin="round"/>
<polygon points="169.4,1138.5 177.9,1137.4 185.3,1140.6 184.3,1147 177.9,1151.2 171.5,1149.1 168.3,1143.8" fill="#a0bbe2" stroke="#4a443e" stroke-width="0.8" stroke-linejoin="round"/>
<polygon points="170.5,1152.3 179,1151.2 183.2,1157.6 189.6,1159.7 189.6,1164 182.1,1165 175.8,1166.1 171.5,1159.7" fill="#a0bbe2" stroke="#4a443e" stroke-width="0.8" stroke-linejoin="round"/>
<polygon points="142.9,1192.6 151.4,1190.5 157.7,1189.4 159.9,1197.9 155.6,1201.1 152.4,1206.4 148.2,1200 142.9,1197.9" fill="#a0bbe2" stroke="#4a443e" stroke-width="0.8" stroke-linejoin="round"/>
<polygon points="155.6,1201.1 163,1200 167.3,1201.1 170.5,1212.8 173.6,1219.1 169.4,1224.4 163,1218.1 155.6,1217 150.3,1211.7 152.4,1206.4" fill="#a0bbe2" stroke="#4a443e" stroke-width="0.8" stroke-linejoin="round"/>
<polygon points="124.9,1206.4 129.1,1197.9 133.3,1192.6 137.6,1190.5 137.6,1197.9 134.4,1206.4 130.2,1208.5" fill="#a0bbe2" stroke="#4a443e" stroke-width="0.8" stroke-linejoin="round"/>
<polygon points="407.5,1225.5 411.3,1223.8 413,1227.6 409.2,1230.2" fill="#a0bbe2" stroke="#777" stroke-width="0.5" stroke-linejoin="round"/>
<polygon points="352,1023.1 355.2,1022 361.5,1029.4 366.8,1035.8 371.1,1042.1 365.8,1047.5 359.4,1051.7 353.1,1049.6 349.9,1042.1 350.9,1031.5" fill="#a0bbe2" stroke="#4a443e" stroke-width="0.8" stroke-linejoin="round"/>
<polygon points="323.4,1064.4 327.6,1069.7 334,1074 342.4,1078.2 346.7,1084.6 344.6,1090.9 340.3,1100.5 334,1098.4 327.6,1093.1 321.2,1090.9 320.2,1080.3" fill="#a0bbe2" stroke="#4a443e" stroke-width="0.8" stroke-linejoin="round"/>
<polygon points="385.9,1084.6 391.2,1078.2 397.6,1076.1 406.1,1078.2 409.3,1086.7 406.1,1089.9 399.7,1088.8 393.4,1092 388.1,1095.2" fill="#a0bbe2" stroke="#4a443e" stroke-width="0.8" stroke-linejoin="round"/>
<polygon points="406.1,1078.2 414.6,1078.2 425.2,1078.2 431.6,1082.5 430.5,1088.8 425.2,1093.1 419.9,1095.2 411.4,1092 409.3,1086.7" fill="#a0bbe2" stroke="#4a443e" stroke-width="0.8" stroke-linejoin="round"/>
<polygon points="336.1,1111.1 345.6,1110 357.3,1110 362.6,1102.6 365.8,1104.7 378.5,1104.7 376.4,1111.1 367.9,1115.3 361.5,1117.5 359.4,1124.9 353.1,1127 345.6,1124.9 339.3,1120.7" fill="#a0bbe2" stroke="#4a443e" stroke-width="0.8" stroke-linejoin="round"/>
<polygon points="339.3,1120.7 345.6,1124.9 349.9,1128.1 347.8,1136.6 346.7,1144 340.3,1144 332.9,1139.7 335,1131.3" fill="#a0bbe2" stroke="#4a443e" stroke-width="0.8" stroke-linejoin="round"/>
<polygon points="355.2,1140.8 361.5,1134.4 369,1132.3 374.3,1135.5 376.4,1141.9 374.3,1147.2 378.5,1151.4 372.1,1152.5 365.8,1149.3 359.4,1146.1" fill="#a0bbe2" stroke="#4a443e" stroke-width="0.8" stroke-linejoin="round"/>
<polygon points="410.3,1114.3 416.7,1113.2 423.1,1109 431.6,1110 435.8,1114.3 435.8,1121.7 430.5,1127 425.2,1131.3 422,1124.9 417.8,1119.6 410.3,1118.5" fill="#a0bbe2" stroke="#4a443e" stroke-width="0.8" stroke-linejoin="round"/>
<polygon points="451.7,1106.9 456,1100.5 463.4,1097.3 469.7,1090.9 476.1,1092 481.4,1100.5 478.2,1107.9 477.2,1118.5 471.9,1124.9 461.3,1128.1 454.9,1123.8 452.8,1115.3" fill="#a0bbe2" stroke="#4a443e" stroke-width="0.8" stroke-linejoin="round"/>
<polygon points="596.1,1288.1 602.4,1283.8 606.7,1289.1 608.8,1295.5 607.8,1297.6 600.3,1299.7 596.1,1295.5" fill="#a0bbe2" stroke="#4a443e" stroke-width="0.8" stroke-linejoin="round"/>
<polygon points="606.7,1284.9 610.9,1282.8 621.5,1286 632.1,1287 635.3,1291.3 630,1295.5 623.7,1296.6 617.3,1297.6 608.8,1295.5 606.7,1289.1" fill="#a0bbe2" stroke="#4a443e" stroke-width="0.8" stroke-linejoin="round"/>
<polygon points="608.8,1296.6 617.3,1297.6 623.7,1297.6 627.9,1304 631.1,1310.4 623.7,1306.1 615.2,1300.8" fill="#a0bbe2" stroke="#4a443e" stroke-width="0.8" stroke-linejoin="round"/>
<polygon points="517.6,1206.4 521.8,1200 529.3,1201.1 533.5,1208.5 532.4,1214.9 527.1,1218.1 521.8,1214.9 519.7,1210.6" fill="#a0bbe2" stroke="#4a443e" stroke-width="0.8" stroke-linejoin="round"/>
<polygon points="508,1223.4 514.4,1224.4 519.7,1229.7 521.8,1237.2 517.6,1242.5 511.2,1241.4 508,1236.1" fill="#a0bbe2" stroke="#4a443e" stroke-width="0.8" stroke-linejoin="round"/>
<polygon points="610.9,1148 616.2,1141.7 619.4,1144.9 617.3,1150.2 613.1,1151.2" fill="#a0bbe2" stroke="#4a443e" stroke-width="0.8" stroke-linejoin="round"/>
<polygon points="574.9,1161.8 580.2,1156.5 587.6,1160.8 594,1168.2 589.7,1172.4 581.2,1172.4 577,1169.3" fill="#a0bbe2" stroke="#4a443e" stroke-width="0.8" stroke-linejoin="round"/>
<polygon points="606.7,1166.1 612,1160.8 617.3,1165 620.5,1170.3 625.8,1172.4 629,1178.8 625.8,1184.1 619.4,1183.1 613.1,1178.8 605.6,1175.6 607.8,1170.3" fill="#a0bbe2" stroke="#4a443e" stroke-width="0.8" stroke-linejoin="round"/>
<polygon points="596.1,1189.4 602.4,1187.3 608.8,1191.5 613.1,1195.8 608.8,1197.9 602.4,1195.8" fill="#a0bbe2" stroke="#4a443e" stroke-width="0.8" stroke-linejoin="round"/>
<polygon points="625.8,1184.1 630,1178.8 635.3,1184.1 634.3,1190.5 627.9,1189.4" fill="#a0bbe2" stroke="#4a443e" stroke-width="0.8" stroke-linejoin="round"/>
<polygon points="635.3,1184.1 638.5,1175.6 647,1175.6 648.1,1185.2 647,1190.5 634.3,1190.5" fill="#a0bbe2" stroke="#4a443e" stroke-width="0.8" stroke-linejoin="round"/>
<polygon points="621.5,1192.6 627.9,1189.4 634.3,1190.5 636.4,1195.8 636.4,1202.1 627.9,1204.3 622.6,1199" fill="#a0bbe2" stroke="#4a443e" stroke-width="0.8" stroke-linejoin="round"/>
<polygon points="636.4,1191.5 647,1190.5 645.9,1197.9 638.5,1202.1 636.4,1195.8" fill="#a0bbe2" stroke="#4a443e" stroke-width="0.8" stroke-linejoin="round"/>
<polygon points="665,1231.9 674.6,1229.7 680.9,1224.4 684.1,1229.7 685.2,1236.1 691.6,1240.3 689.4,1246.7 683.1,1250.9 676.7,1254.1 672.5,1246.7 670.3,1240.3" fill="#a0bbe2" stroke="#4a443e" stroke-width="0.8" stroke-linejoin="round"/>
<polygon points="763.7,1217 770.1,1208.5 774.3,1208.5 777.5,1217 780.7,1225.5 778.5,1231.9 770.1,1236.1 765.8,1227.6" fill="#a0bbe2" stroke="#4a443e" stroke-width="0.8" stroke-linejoin="round"/>
<polygon points="592.8,1005 598.5,1000.7 604.1,996.5 604.9,992.2 609.8,989.4 615.5,992.2 622.5,990.8 629.6,992.2 633.1,996.5 632.4,1000.7 626.8,1002.1 628.2,1009.2 629.6,1013.5 625.4,1016.3 618.3,1018.4 614,1017 611.2,1020.5 608.4,1023.4 607,1017.7 604.1,1012 599.9,1009.9 595.7,1010.6" fill="#a0bbe2" stroke="#4a443e" stroke-width="0.8" stroke-linejoin="round"/>
<polygon points="633.1,938.5 639.5,935.7 643.7,931.4 652.2,932.8 655.1,938.5 659.3,944.1 663.6,945.6 663.6,951.2 662.8,959.7 657.9,959.7 649.4,956.9 642.3,952.6 638.8,947" fill="#a0bbe2" stroke="#4a443e" stroke-width="0.8" stroke-linejoin="round"/>
<polygon points="666.4,932.8 674.9,930 686.2,930 691.8,931.4 691.8,938.5 687.6,941.3 683.4,944.1 679.1,941.3 674.9,938.5 669.2,937.1" fill="#a0bbe2" stroke="#4a443e" stroke-width="0.8" stroke-linejoin="round"/>
<polygon points="696.1,942.7 701.7,941.3 707.4,937.1 714.5,932.8 723,931.4 728.6,938.5 731.4,944.1 742.8,945.6 745.6,951.2 739.9,955.5 737.1,958.3 731.4,954 725.8,951.2 720.1,949.8 715.9,944.1 710.2,945.6 704.6,945.6 698.9,947" fill="#a0bbe2" stroke="#4a443e" stroke-width="0.8" stroke-linejoin="round"/>
<polygon points="723,963.9 728.6,959.7 737.1,958.3 739.9,955.5 747,954.8 756.9,955.5 767.5,959.7 766.8,966.8 764,979.5 758.3,978.8 749.8,977.4 742.8,979.5 735.7,980.9 731.4,986.6 725.8,990.8 717.3,993.6 710.2,996.5 707.4,992.2 701.7,989.4 698.9,985.2 703.2,980.9 708.8,975.3 717.3,972.4 723,971.7" fill="#a0bbe2" stroke="#4a443e" stroke-width="0.8" stroke-linejoin="round"/>
<polygon points="670.6,985.2 676.3,980.9 681.9,978.1 687.6,972.4 691.8,966.8 696.1,971 698.9,975.3 701.7,979.5 698.9,985.2 701.7,989.4 707.4,992.2 710.2,996.5 707.4,1000.7 704.6,1007.1 696.1,1008.5 689,1009.2 684.8,1007.1 680.5,1000.7 677.7,992.2 674.9,986.6" fill="#a0bbe2" stroke="#4a443e" stroke-width="0.8" stroke-linejoin="round"/>
<polygon points="689,1009.2 696.1,1008.5 704.6,1007.1 707.4,1014.9 710.2,1026.2 710.9,1033.3 703.2,1035.4 698.9,1034.7 696.1,1029 695.4,1021.9 689,1019.1 689.7,1013.5" fill="#a0bbe2" stroke="#4a443e" stroke-width="0.8" stroke-linejoin="round"/>
<polygon points="662.1,1023.4 666.4,1020.5 674.9,1019.1 681.9,1019.1 689,1019.1 695.4,1021.9 696.1,1029 689,1033.3 683.4,1036.1 679.1,1031.8 673.5,1030.4 667.8,1033.3 660.7,1037.5 662.1,1031.8" fill="#a0bbe2" stroke="#4a443e" stroke-width="0.8" stroke-linejoin="round"/>
<polygon points="721.5,1005 725.8,997.9 731.4,993.6 735.7,995.1 737.1,1000.7 742.8,1005 745.6,1009.2 747,1016.3 742.8,1023.4 738.5,1029 734.3,1030.4 731.4,1021.9 727.2,1013.5 724.4,1008.5" fill="#a0bbe2" stroke="#4a443e" stroke-width="0.8" stroke-linejoin="round"/>
<polygon points="742.8,1023.4 747,1016.3 754.1,1017.7 759.7,1021.9 758.3,1030.4 755.5,1040.3 749.8,1043.2 744.2,1038.9 742.8,1031.8" fill="#a0bbe2" stroke="#4a443e" stroke-width="0.8" stroke-linejoin="round"/>
<polygon points="739.9,1048.8 747,1047.4 755.5,1050.2 764,1048.8 773.9,1048.8 780.9,1047.4 782.4,1053.1 778.1,1057.3 773.9,1060.8 766.8,1061.5 765.4,1070 759.7,1069.3 754.1,1065.8 751.2,1057.3 745.6,1054.5" fill="#a0bbe2" stroke="#4a443e" stroke-width="0.8" stroke-linejoin="round"/>
<polygon points="787.3,1000.5 791.5,992 800,987.7 810.6,985.6 819.1,989.9 822.3,997.3 823.4,1005.8 819.1,1012.1 812.8,1016.4 808.5,1010 806.4,1003.6 800,1004.7 795.8,1014.3 789.4,1018.5 783.1,1016.4 778.8,1010 780.9,1005.8" fill="#a0bbe2" stroke="#4a443e" stroke-width="0.8" stroke-linejoin="round"/>
<polygon points="840,978 844.2,970.8 848.4,967.8 855,970.8 859.8,978 863.4,984 870.6,990.1 877.8,996.1 883.8,1003.3 886.2,1011.7 886.8,1020.1 880.2,1020.7 875.4,1022.5 873,1016.5 868.2,1005.7 865.8,1002.1 859.8,999.7 855,996.1 851.4,990.1 846.6,984 843,980.4" fill="#a0bbe2" stroke="#4a443e" stroke-width="0.8" stroke-linejoin="round"/>
<polygon points="846.6,1015.3 856.2,1010.5 864.6,1006.9 868.2,1005.7 873,1016.5 875.4,1022.5 873,1024.9 879,1036.9 880.2,1041.8 875.4,1043 868.2,1041.8 859.8,1039.3 856.2,1034.5 856.2,1028.5 851.4,1024.9 849,1020.1" fill="#a0bbe2" stroke="#4a443e" stroke-width="0.8" stroke-linejoin="round"/>
<polygon points="859.8,1039.3 868.2,1041.8 880.2,1042.4 879,1047.8 875.4,1051.4 878.4,1058.6 871.8,1061 865.8,1062.2 863.4,1059.8 859.8,1055 855,1049 852.6,1045.4 856.2,1041.8" fill="#a0bbe2" stroke="#4a443e" stroke-width="0.8" stroke-linejoin="round"/>
<polygon points="891.6,1038.1 897.1,1040 904.3,1038.1 911.5,1034.5 917.5,1032.1 921.7,1034.5 923.5,1039.3 923.5,1046.6 918.7,1051.4 913.9,1055 904.3,1057.4 895.9,1056.2 893.5,1049 891,1044.2" fill="#a0bbe2" stroke="#4a443e" stroke-width="0.8" stroke-linejoin="round"/>
<polygon points="863.4,1065.8 868.2,1062.2 879,1059.8 889.8,1058 894.7,1061 895.9,1065.8 891,1068.2 882.6,1067 874.2,1068.8 867,1070.6" fill="#a0bbe2" stroke="#4a443e" stroke-width="0.8" stroke-linejoin="round"/>
<polygon points="827.3,1011.7 830.9,1004.5 834.5,1004.5 838.1,1008.1 840.6,1012.9 844.2,1016.5 849,1020.1 851.4,1024.9 856.2,1028.5 856.2,1034.5 856.2,1041.8 852.6,1045.4 849,1043 844.2,1040.6 840.6,1036.9 838.1,1032.1 832.1,1030.9 827.3,1027.3 825.5,1022.5 828.5,1017.7" fill="#a0bbe2" stroke="#4a443e" stroke-width="0.8" stroke-linejoin="round"/>
<polygon points="788.3,996.1 792.5,988.3 800.9,986.4 810.5,984.6 817.7,988.9 821.3,993.7 822.5,1000.9 820.7,1008.1 816.5,1012.9 811.7,1017.1 809.3,1012.9 806.9,1008.1 803.3,1004.5 796.1,1003.9 788.9,1004.5 784,1005.7 788.9,1000.9" fill="#a0bbe2" stroke="#4a443e" stroke-width="0.8" stroke-linejoin="round"/>
<polygon points="778,1010.5 784,1005.7 788.9,1004.5 796.1,1003.9 799.7,1005.1 796.1,1010.5 794.9,1014.1 790.1,1017.7 786.4,1018.9 781.6,1016.5" fill="#a0bbe2" stroke="#4a443e" stroke-width="0.8" stroke-linejoin="round"/>
<polygon points="785.2,1032.1 792.5,1029.7 800.9,1028.5 808.1,1029.1 812.9,1032.1 820.1,1031.5 827.3,1034.5 832.1,1030.9 838.1,1032.1 840.6,1036.9 844.2,1040.6 849,1043 852.6,1045.4 844.2,1050.2 841.8,1051.4 838.1,1052.6 839.3,1058.6 841.8,1068.2 844.2,1076.6 836.9,1080.2 834.5,1080.2 830.9,1074.2 827.3,1070.6 824.9,1071.8 822.5,1075.4 820.1,1079 816.5,1080.2 812.9,1077.8 811.7,1070.6 811.7,1064.6 810.5,1061 805.7,1059.8 800.9,1051.4 796.1,1044.2 791.3,1039.3" fill="#a0bbe2" stroke="#4a443e" stroke-width="0.8" stroke-linejoin="round"/>
<polygon points="788.9,1067 796.1,1063.4 804.5,1061 810.5,1061 811.7,1064.6 811.7,1070.6 812.9,1077.8 808.1,1080.2 800.9,1079 794.9,1075.4 790.1,1070.6" fill="#a0bbe2" stroke="#4a443e" stroke-width="0.8" stroke-linejoin="round"/>
<polygon points="835.7,1081.4 844.2,1077.8 849,1080.2 851.4,1086.2 853.2,1092.2 852.6,1098.3 844.2,1099.5 836.9,1100.1 833.3,1094.7 835.7,1087.4" fill="#a0bbe2" stroke="#4a443e" stroke-width="0.8" stroke-linejoin="round"/>
<polygon points="841.8,1051.4 844.2,1050.2 852.6,1045.4 855,1049 853.8,1056.2 852.6,1063.4 855,1073 849,1075.4 844.2,1076.6 841.8,1068.2 839.3,1058.6" fill="#a0bbe2" stroke="#4a443e" stroke-width="0.8" stroke-linejoin="round"/>
<polygon points="889.8,1081.4 895.9,1080.2 901.9,1082.6 911.5,1084.4 911.5,1089.8 907.9,1093.5 904.3,1097.1 895.9,1095.9 889.8,1093.5 886.2,1089.8" fill="#a0bbe2" stroke="#4a443e" stroke-width="0.8" stroke-linejoin="round"/>
<polygon points="889.2,1093.5 895.9,1095.9 904.3,1097.1 903.7,1104.3 901.9,1111.5 892.2,1110.3 887.4,1110.9 888.6,1101.9" fill="#a0bbe2" stroke="#4a443e" stroke-width="0.8" stroke-linejoin="round"/>
<polygon points="877.8,1113.9 887.4,1110.9 892.2,1110.3 901.9,1111.5 900.7,1121.1 904.3,1125.9 910.3,1133.1 906.7,1135.5 898.3,1136.7 892.2,1135.5 888.6,1128.3 883.8,1121.1 880.2,1117.5" fill="#a0bbe2" stroke="#4a443e" stroke-width="0.8" stroke-linejoin="round"/>
<polygon points="852.6,1098.3 859.8,1093.5 864.6,1087.4 868.2,1088 869.4,1092.2 865.8,1095.9 863.4,1101.9 861,1104.3 855,1105.5 852.6,1101.9" fill="#a0bbe2" stroke="#4a443e" stroke-width="0.8" stroke-linejoin="round"/>
<polygon points="865.8,1095.9 869.4,1092.2 868.2,1088 873,1087.4 879,1089.8 879,1093.5 876.6,1097.1 874.2,1100.7 868.2,1098.3" fill="#a0bbe2" stroke="#4a443e" stroke-width="0.8" stroke-linejoin="round"/>
<polygon points="823.7,1106.7 832.1,1103.1 844.2,1100.1 846.6,1101.9 846.6,1109.1 841.8,1111.5 834.5,1113.9 827.3,1115.1 824.9,1111.5" fill="#a0bbe2" stroke="#4a443e" stroke-width="0.8" stroke-linejoin="round"/>
<polygon points="846.6,1101.9 852.6,1101.9 855,1105.5 861,1104.3 864.6,1109.1 865.8,1115.1 863.4,1121.1 857.4,1121.7 856.2,1116.3 851.4,1115.1 846.6,1113.9 846.6,1109.1" fill="#a0bbe2" stroke="#4a443e" stroke-width="0.8" stroke-linejoin="round"/>
<polygon points="824.9,1116.3 834.5,1113.9 841.8,1111.5 845.4,1110.3 844.2,1116.3 845.4,1125.9 839.3,1127.1 833.3,1127.7 828.5,1123.5" fill="#a0bbe2" stroke="#4a443e" stroke-width="0.8" stroke-linejoin="round"/>
<polygon points="802.1,1101.9 808.1,1103.1 812.9,1103.1 811.7,1111.5 810.5,1121.1 804.5,1121.1 799.7,1117.5 802.1,1109.1" fill="#a0bbe2" stroke="#4a443e" stroke-width="0.8" stroke-linejoin="round"/>
<polygon points="803.3,1122.3 810.5,1121.7 816.5,1122.9 824.9,1122.3 828.5,1124.1 832.1,1128.3 834.5,1134.3 827.3,1137.9 820.1,1140 796.1,1140 796.1,1133.1 800.9,1128.3" fill="#a0bbe2" stroke="#4a443e" stroke-width="0.8" stroke-linejoin="round"/>
<polygon points="846.6,1125.9 853.8,1124.1 863.4,1121.7 865.8,1128.3 867,1134.3 870.6,1140 849,1140 847.8,1133.1" fill="#a0bbe2" stroke="#4a443e" stroke-width="0.8" stroke-linejoin="round"/>
<polygon points="777.1,1248.5 782.4,1242.1 788.8,1235.8 799.4,1240 803.6,1235.8 814.3,1237.9 821.7,1241.1 812.1,1244.3 824.9,1246.4 829.1,1250.6 839.7,1257 841.8,1258.1 835.5,1260.2 829.1,1259.1 818.5,1257 810,1258.1 801.5,1255.9 795.2,1259.1 787.7,1261.2 784.6,1260.2 777.1,1252.8" fill="#a0bbe2" stroke="#4a443e" stroke-width="0.8" stroke-linejoin="round"/>
<polygon points="762.3,1218.8 767.6,1212.4 771.8,1207.1 775,1212.4 778.2,1220.9 780.3,1227.3 776.1,1232.6 769.7,1235.8 765.5,1231.5" fill="#a0bbe2" stroke="#4a443e" stroke-width="0.8" stroke-linejoin="round"/>
<polygon points="773.9,1193.4 782.4,1189.1 790.9,1184.9 799.4,1180.6 807.9,1175.3 816.4,1178.5 814.3,1183.8 805.8,1187 803.6,1191.2 795.2,1193.4 788.8,1191.2 784.6,1196.5 778.2,1197.6" fill="#a0bbe2" stroke="#4a443e" stroke-width="0.8" stroke-linejoin="round"/>
<polygon points="835.5,1260.2 839.7,1257 844,1255.9 848.2,1261.2 850.3,1267.6 846.1,1268.7 841.8,1262.3" fill="#a0bbe2" stroke="#4a443e" stroke-width="0.8" stroke-linejoin="round"/>
<polygon points="881.1,1329.1 892.8,1328.1 894.9,1334.4 888.5,1337.6 879,1340.8 880,1333.4" fill="#a0bbe2" stroke="#4a443e" stroke-width="0.75" stroke-linejoin="round"/>
<polygon points="882.1,1217.8 888.5,1213.5 893.8,1214.6 898.1,1220.9 892.8,1223.1 886.4,1223.1" fill="#a0bbe2" stroke="#777" stroke-width="0.5" stroke-linejoin="round"/>
<polygon points="885.3,1236.8 890.6,1235.8 892.8,1240 891.7,1246.4 887.5,1245.3" fill="#a0bbe2" stroke="#777" stroke-width="0.5" stroke-linejoin="round"/>
<polygon points="863.1,1200.8 868.4,1199.7 869,1205 864.1,1205.7" fill="#a0bbe2" stroke="#777" stroke-width="0.5" stroke-linejoin="round"/>
<polygon points="748.5,1227.3 751.7,1226.2 755.9,1232.6 754.9,1235.8 751.7,1232.6" fill="#a0bbe2" stroke="#777" stroke-width="0.5" stroke-linejoin="round"/>
<polygon points="768.6,1263.4 773.9,1260.2 777.1,1264.4 773.9,1268.7 769.7,1267.6" fill="#a0bbe2" stroke="#777" stroke-width="0.5" stroke-linejoin="round"/>
<polygon points="776.1,1276.1 780.3,1275 782.4,1279.3 779.3,1281.4" fill="#fee2c5" stroke="#777" stroke-width="0.5" stroke-linejoin="round"/>
<polygon points="771.4,1249.6 774.4,1248.5 775,1254.9 771.8,1255.9" fill="#fbb45c" stroke="#777" stroke-width="0.5" stroke-linejoin="round"/>
<polygon points="835,1269.7 836.1,1268.6 838.1,1269.3 837.5,1270.7 835.9,1270.8" fill="#a9bbd8" stroke="#7c8aa5" stroke-width="0.4" stroke-linejoin="round"/>
<polygon points="838.3,1280.3 839.3,1279.4 841.1,1279.9 840.6,1281.2 839.2,1281.3" fill="#a9bbd8" stroke="#7c8aa5" stroke-width="0.4" stroke-linejoin="round"/>
<polygon points="848.5,1276.1 849.8,1274.9 852.1,1275.6 851.4,1277.2 849.6,1277.3" fill="#a9bbd8" stroke="#7c8aa5" stroke-width="0.4" stroke-linejoin="round"/>
<polygon points="855.2,1269.7 856.2,1268.7 858.2,1269.3 857.6,1270.6 856.1,1270.8" fill="#a9bbd8" stroke="#7c8aa5" stroke-width="0.4" stroke-linejoin="round"/>
<polygon points="858.5,1276.1 859.5,1275.1 861.2,1275.7 860.7,1276.9 859.3,1277" fill="#a9bbd8" stroke="#7c8aa5" stroke-width="0.4" stroke-linejoin="round"/>
<polygon points="865.5,1261.2 866.8,1260 869.1,1260.7 868.4,1262.3 866.6,1262.5" fill="#a9bbd8" stroke="#7c8aa5" stroke-width="0.4" stroke-linejoin="round"/>
<polygon points="871.2,1266.5 872.9,1264.8 876.1,1265.8 875.1,1268 872.7,1268.3" fill="#a9bbd8" stroke="#7c8aa5" stroke-width="0.4" stroke-linejoin="round"/>
<polygon points="877.7,1269.7 879.3,1268.1 882.3,1269 881.4,1271.1 879.1,1271.3" fill="#a9bbd8" stroke="#7c8aa5" stroke-width="0.4" stroke-linejoin="round"/>
<polygon points="869.3,1276.1 870.9,1274.5 873.8,1275.4 872.9,1277.4 870.6,1277.7" fill="#a9bbd8" stroke="#7c8aa5" stroke-width="0.4" stroke-linejoin="round"/>
<polygon points="876.4,1281.4 877.4,1280.3 879.5,1280.9 878.8,1282.3 877.3,1282.5" fill="#a9bbd8" stroke="#7c8aa5" stroke-width="0.4" stroke-linejoin="round"/>
<polygon points="883.4,1280.3 884.7,1279 887.3,1279.8 886.5,1281.5 884.5,1281.7" fill="#a9bbd8" stroke="#7c8aa5" stroke-width="0.4" stroke-linejoin="round"/>
<polygon points="886.9,1286.7 888,1285.6 890.1,1286.2 889.5,1287.7 887.9,1287.8" fill="#a9bbd8" stroke="#7c8aa5" stroke-width="0.4" stroke-linejoin="round"/>
<polygon points="874.3,1292 875.3,1291 877.3,1291.6 876.7,1292.9 875.2,1293.1" fill="#a9bbd8" stroke="#7c8aa5" stroke-width="0.4" stroke-linejoin="round"/>
<polygon points="865.9,1288.8 866.9,1287.8 868.7,1288.4 868.1,1289.7 866.7,1289.8" fill="#a9bbd8" stroke="#7c8aa5" stroke-width="0.4" stroke-linejoin="round"/>
<polygon points="861.5,1293.1 862.6,1292 864.6,1292.6 864,1294 862.4,1294.2" fill="#a9bbd8" stroke="#7c8aa5" stroke-width="0.4" stroke-linejoin="round"/>
<polygon points="847.9,1292 849.6,1290.3 852.8,1291.3 851.8,1293.5 849.3,1293.7" fill="#a9bbd8" stroke="#7c8aa5" stroke-width="0.4" stroke-linejoin="round"/>
<polygon points="839.5,1293.1 841.1,1291.4 844.2,1292.4 843.2,1294.5 840.9,1294.7" fill="#a9bbd8" stroke="#7c8aa5" stroke-width="0.4" stroke-linejoin="round"/>
<polygon points="893.6,1263.4 895.3,1261.8 898.2,1262.7 897.3,1264.7 895,1265" fill="#a9bbd8" stroke="#7c8aa5" stroke-width="0.4" stroke-linejoin="round"/>
<polygon points="892.6,1282.5 894.2,1280.9 897.2,1281.8 896.3,1283.8 894,1284.1" fill="#a9bbd8" stroke="#7c8aa5" stroke-width="0.4" stroke-linejoin="round"/>
<polygon points="906.1,1288.8 907.2,1287.8 909.1,1288.4 908.5,1289.7 907,1289.9" fill="#a9bbd8" stroke="#7c8aa5" stroke-width="0.4" stroke-linejoin="round"/>
<polygon points="908.1,1257 909.2,1255.8 911.4,1256.5 910.7,1258 909.1,1258.2" fill="#a9bbd8" stroke="#7c8aa5" stroke-width="0.4" stroke-linejoin="round"/>
<polygon points="914,1262.3 915.5,1260.9 918.2,1261.7 917.3,1263.5 915.3,1263.8" fill="#a9bbd8" stroke="#7c8aa5" stroke-width="0.4" stroke-linejoin="round"/>
<polygon points="916,1276.1 917.6,1274.6 920.4,1275.4 919.5,1277.4 917.3,1277.6" fill="#a9bbd8" stroke="#7c8aa5" stroke-width="0.4" stroke-linejoin="round"/>
<polygon points="922.2,1284.6 923.9,1282.9 926.9,1283.9 926,1286 923.6,1286.2" fill="#a9bbd8" stroke="#7c8aa5" stroke-width="0.4" stroke-linejoin="round"/>
<polygon points="926.4,1287.8 928.1,1286.1 931.2,1287 930.3,1289.2 927.9,1289.4" fill="#a9bbd8" stroke="#7c8aa5" stroke-width="0.4" stroke-linejoin="round"/>
<polygon points="887.1,1297.3 888.1,1296.3 889.9,1296.9 889.3,1298.1 888,1298.3" fill="#a9bbd8" stroke="#7c8aa5" stroke-width="0.4" stroke-linejoin="round"/>
<polygon points="892.8,1297.3 894.3,1295.9 896.9,1296.7 896.1,1298.5 894.1,1298.7" fill="#a9bbd8" stroke="#7c8aa5" stroke-width="0.4" stroke-linejoin="round"/>
<polygon points="841.8,1223.1 843.3,1221.6 846.1,1222.4 845.2,1224.3 843.1,1224.5" fill="#a9bbd8" stroke="#7c8aa5" stroke-width="0.4" stroke-linejoin="round"/>
<polygon points="853.7,1233.7 855.1,1232.3 857.5,1233.1 856.8,1234.8 854.9,1235" fill="#a9bbd8" stroke="#7c8aa5" stroke-width="0.4" stroke-linejoin="round"/>
<polygon points="829.7,1312.2 830.8,1311.1 832.7,1311.7 832.1,1313.1 830.6,1313.2" fill="#a9bbd8" stroke="#7c8aa5" stroke-width="0.4" stroke-linejoin="round"/>
<polygon points="927,1307.9 928.3,1306.6 930.7,1307.4 930,1309 928.1,1309.2" fill="#a9bbd8" stroke="#7c8aa5" stroke-width="0.4" stroke-linejoin="round"/>
<polygon points="924.3,1318.5 925.2,1317.6 927,1318.1 926.5,1319.4 925.1,1319.5" fill="#a9bbd8" stroke="#7c8aa5" stroke-width="0.4" stroke-linejoin="round"/>
<polygon points="845.7,1184.9 847.5,1183.1 850.7,1184.1 849.7,1186.3 847.2,1186.6" fill="#a9bbd8" stroke="#7c8aa5" stroke-width="0.4" stroke-linejoin="round"/>
<polygon points="868.1,1187 869.8,1185.3 872.9,1186.3 871.9,1188.4 869.5,1188.6" fill="#a9bbd8" stroke="#7c8aa5" stroke-width="0.4" stroke-linejoin="round"/>
<polygon points="874.9,1193.4 876.3,1192 878.8,1192.8 878,1194.5 876.1,1194.7" fill="#a9bbd8" stroke="#7c8aa5" stroke-width="0.4" stroke-linejoin="round"/>
<polygon points="1045.4,1296 1052.8,1291 1057.8,1283.6 1066.4,1281.1 1076.3,1277.4 1083.8,1270 1090.7,1265 1086.2,1273.7 1082.5,1278.7 1083.8,1286.1 1076.3,1291 1068.9,1297.2 1065.2,1303.4 1059,1302.2 1052.8,1304.7 1047.9,1300.9" fill="#a0bbe2" stroke="#777" stroke-width="0.5" stroke-linejoin="round"/>
<polygon points="158,468.7 170.7,464.5 176.9,465.9 167.9,473.8 160.8,474.4" fill="#fee2c5" stroke="#6d6d6d" stroke-width="0.4" stroke-linejoin="round"/>
<polygon points="724.9,871.9 730.2,874 731.3,880.3 726,879.3" fill="#fee2c5" stroke="#4a443e" stroke-width="0.75" stroke-linejoin="round"/>
<polygon points="700.5,890.9 706.9,892 705.8,900.5 701.1,899.4" fill="#fee2c5" stroke="#4a443e" stroke-width="0.75" stroke-linejoin="round"/>
<polygon points="803.6,1274 812.1,1272.9 824.9,1271.9 831.2,1276.1 833.4,1282.5 825.9,1284.6 820.6,1282.5 815.3,1286.7 812.1,1289.9 806.8,1284.6 802.6,1280.3" fill="#fee2c5" stroke="#555" stroke-width="0.5" stroke-linejoin="round"/>
<polygon points="715.2,937.8 720.1,936.4 723.7,939.2 722.2,943.4 717.3,944.1" fill="#fee2c5" stroke="#4a443e" stroke-width="0.75" stroke-linejoin="round"/>
<polygon points="809.3,1130.7 814.1,1129.5 816.5,1133.1 815.3,1137.9 810.5,1136.7" fill="#fee2c5" stroke="#4a443e" stroke-width="0.75" stroke-linejoin="round"/>
<polygon points="856.2,1068.2 861,1067 863.6,1071.8 862.2,1077.8 858,1079 855.6,1074.2" fill="#fee2c5" stroke="#4a443e" stroke-width="0.75" stroke-linejoin="round"/>
<polygon points="718,939.6 720.8,938.9 721.5,941.3 719,942" fill="#fff" stroke="#667" stroke-width="0.4" stroke-linejoin="round"/>
<path d="M370.3 894.5 373.5 895.4M370.3 894.5 369.7 897.1M370.3 894.5 369.7 893.4M369.7 893.4 366.7 894.7 365.3 894.9M376.0 888.9 374.5 888.3M374.9 886.2 374.5 888.3M369.7 893.4 369.7 891.1M374.5 888.3 372.8 889.5 369.7 891.1M367.6 883.6 365.6 885.8M361.7 883.0 361.5 881.1M361.7 883.0 364.5 885.8M364.5 885.8 365.6 885.8M369.7 891.1 367.6 887.8 365.6 885.8M358.9 884.2 361.7 883.0M360.3 889.8 360.3 889.8 364.5 885.8M694.9 820.1 700.1 822.6M700.1 822.6 698.5 828.2 699.6 833.9M699.6 833.9 697.4 834.9 697.2 835.0M700.1 822.6 703.7 819.9M699.6 833.9 703.9 835.7 710.9 835.4M714.6 818.9 714.9 825.2 710.9 835.4M710.9 835.4 712.5 836.9M709.5 850.2 710.9 844.5 712.5 836.9M727.9 832.7 726.7 835.9 724.9 837.4M727.9 832.7 729.0 818.9 728.8 818.2M712.5 836.9 719.6 836.1 724.9 837.4M747.5 823.6 747.2 823.5M747.2 823.5 743.0 816.8 742.4 815.7M743.7 833.4 744.0 834.7M743.7 833.4 745.0 828.4 747.2 823.5M743.7 833.4 735.3 832.6 727.9 832.7M724.9 837.4 727.1 841.3 727.2 844.2M727.2 844.2 724.0 846.9M727.2 844.2 727.8 844.6M748.2 880.5 747.2 880.4M756.8 869.5 761.0 865.4 762.3 861.2M756.8 869.5 759.7 872.5M772.6 863.8 762.3 861.2M744.9 869.4 751.9 870.0 756.8 869.5M744.9 869.4 744.0 873.4M758.1 852.2 757.9 855.1M757.9 855.1 760.3 857.7 762.3 861.2M744.4 844.8 743.9 845.9 739.5 851.1M737.6 850.0 739.5 851.1M740.9 870.3 744.6 869.0M744.6 869.0 745.3 864.6 744.7 862.7M739.5 851.1 739.7 852.2M757.9 855.1 750.3 855.5 743.5 856.8M702.5 884.4 707.2 888.6 707.2 888.6M702.5 884.4 700.6 884.3M700.6 884.3 699.6 886.3M693.8 880.2 695.4 880.1M695.4 880.1 697.3 882.1 700.6 884.3M695.4 880.1 695.0 878.9M711.0 853.0 712.4 854.8M702.0 865.4 707.6 866.4M712.4 854.8 710.7 862.7 707.6 866.4M702.5 884.4 707.3 878.0 711.8 872.6M707.6 866.4 709.2 869.7 711.8 872.6M712.7 891.8 714.4 890.0 716.8 887.9M711.8 872.6 713.0 872.9M713.0 872.9 715.2 875.7M733.9 879.7 733.7 879.5 729.8 878.0M724.2 882.9 725.8 881.4 729.8 878.0M712.4 854.8 716.5 855.4 719.1 854.8M719.6 853.7 719.1 854.8M726.4 862.6 726.9 862.4M726.4 862.6 726.2 866.0 725.9 868.0M726.8 869.0 725.9 868.0M719.1 854.8 722.3 859.3 726.4 862.6M713.0 872.9 720.2 871.1 725.9 868.0M729.8 878.0 730.3 874.3 730.0 873.2M700.7 913.4 699.9 913.3M699.9 913.3 698.9 911.8M698.9 911.8 699.3 910.7M685.5 909.8 686.1 910.0M686.1 910.0 686.9 909.6M686.9 909.6 690.1 901.2 692.0 896.3M691.9 895.9 688.7 894.3M686.7 912.3 686.1 910.0M699.9 913.3 699.7 913.9M698.9 911.8 692.5 909.1 686.9 909.6M703.2 901.4 698.8 897.8 692.0 896.3M708.5 890.4 709.5 891.7M707.5 899.6 708.9 897.1M699.2 887.1 696.7 892.1 691.9 895.9M641.6 952.1 642.8 951.1M642.8 951.1 644.1 946.2 643.7 943.0M643.7 943.0 640.2 940.0 637.3 937.5M637.3 937.5 633.6 938.9M639.9 929.7 639.7 932.7 637.3 937.5M651.9 938.9 647.6 941.0 643.7 943.0M650.2 954.9 652.1 958.1M650.2 954.9 646.8 954.3 642.8 951.1M650.2 954.9 654.3 952.9 660.1 949.8M655.4 941.9 656.6 946.5 660.1 949.8M662.0 957.5 661.7 955.8 660.6 950.0M662.8 949.7 660.6 950.0M673.3 920.9 677.9 926.2M677.9 926.2 683.7 925.3 687.0 923.4M687.0 923.4 687.4 915.1 687.3 914.5M687.0 923.4 689.6 925.2 691.4 926.4M672.5 933.9 673.2 933.7 676.4 931.0M676.4 931.0 679.7 934.9 682.4 937.7M681.3 941.1 682.4 937.7M677.9 926.2 677.7 928.2 676.4 931.0M688.5 936.3 686.9 937.3 682.4 937.7M401.3 983.7 404.9 980.5M401.3 983.7 403.3 986.7M401.3 983.7 397.8 983.8M397.8 983.8 397.0 991.2 395.9 993.0M396.2 975.7 394.1 974.5 391.3 973.8M396.2 975.7 397.2 979.1 397.3 983.3M397.3 983.3 394.5 983.0M403.2 972.2 402.6 972.4 396.2 975.7M502.0 993.2 494.2 990.9M487.0 1000.7 490.9 996.5 494.2 990.9M487.0 1000.7 492.6 1008.1 495.2 1011.6M483.8 1021.1 486.1 1020.9 489.6 1019.0M489.6 1019.0 490.4 1024.1M487.0 1000.7 484.0 1000.8 480.6 1000.3M495.2 1013.2 492.4 1015.3 489.6 1019.0M474.1 1006.3 475.9 1003.7 480.6 1000.3M457.8 992.6 457.7 993.5M457.8 992.6 453.5 988.0 450.1 984.4M494.2 990.9 492.8 988.1M494.3 979.4 494.4 983.3 492.8 988.1M473.6 968.1 473.0 968.5M479.3 972.8 477.0 974.2M473.0 968.5 474.9 972.4 477.0 974.2M480.9 983.6 478.9 987.1 478.0 988.1M480.9 983.2 478.8 981.5 476.7 977.2M476.7 977.2 472.1 979.7 470.9 979.7M492.8 988.1 485.4 984.8 480.9 983.6M486.3 977.4 484.4 980.8 480.9 983.2M480.6 1000.3 478.8 998.3M477.0 974.2 476.7 977.2M457.8 992.6 461.2 990.2 461.3 990.2M450.0 983.6 459.1 980.1 463.1 976.0M472.4 968.1 472.5 968.4M472.5 968.4 468.6 969.7M451.7 966.1 452.5 965.5M451.7 966.1 451.3 966.2M459.7 967.1 456.8 966.2 451.7 966.1M544.7 1105.8 544.6 1103.5 545.9 1098.3M545.9 1098.3 549.8 1098.1 549.9 1098.1M511.8 1096.6 511.3 1099.6M511.8 1096.6 510.8 1094.8M510.8 1094.8 509.5 1094.6M523.4 1087.3 525.6 1089.6M523.4 1087.3 519.6 1087.0 514.5 1088.0M511.8 1096.6 515.9 1097.0 519.3 1097.6M519.3 1097.6 522.9 1094.8 525.4 1090.9M514.5 1088.0 512.2 1091.4 510.8 1094.8M525.4 1090.9 525.6 1089.6M563.3 1090.3 562.8 1091.5 559.9 1094.9M560.2 1095.4 559.9 1094.9M556.3 1095.4 559.9 1094.9M536.0 1109.8 534.4 1106.4 531.5 1104.2M531.5 1104.2 525.8 1104.5 523.9 1105.5M519.3 1097.6 520.7 1100.9 521.7 1105.2M531.6 1103.6 527.8 1095.6 525.4 1090.9M514.5 1088.0 512.2 1084.3 510.4 1082.4M504.5 1084.5 507.3 1082.8 510.4 1082.4M523.4 1087.3 522.6 1082.8 522.6 1078.4M525.6 1089.6 531.4 1087.9 534.9 1087.3M522.6 1078.4 524.9 1077.1 527.8 1073.9M527.8 1073.9 530.6 1078.4 536.6 1081.7M536.6 1081.7 536.4 1084.1 534.9 1087.3M531.6 1103.6 536.1 1099.3 541.1 1094.0M534.9 1087.3 538.0 1090.9 541.1 1094.0M545.9 1098.3 544.2 1096.3 541.2 1094.0M540.1 1055.8 540.3 1063.7 538.2 1068.0M540.3 1055.7 544.0 1058.6 549.9 1061.0M538.2 1068.0 539.8 1069.1M539.8 1069.1 545.2 1066.7 548.5 1064.9M548.5 1064.9 549.9 1061.0M519.7 1063.5 523.7 1061.7 529.0 1060.0M519.7 1063.5 519.5 1064.3M519.5 1064.3 523.6 1069.4 527.9 1073.4M529.0 1060.0 530.9 1064.3 532.9 1068.2M532.9 1068.2 530.7 1071.7 527.9 1073.4M540.1 1055.8 538.5 1055.0M538.2 1068.0 535.9 1068.7 532.9 1068.2M529.3 1059.3 533.4 1058.3 538.5 1055.0M529.3 1059.3 529.0 1060.0M536.6 1081.7 539.6 1079.2 543.1 1077.5M543.1 1077.5 542.6 1073.2 539.8 1069.1M522.6 1078.4 518.3 1077.8 515.2 1075.8M519.5 1064.3 516.2 1067.2M516.2 1067.2 515.4 1071.3 515.2 1075.8M510.4 1082.4 511.2 1080.1 512.1 1077.2M501.9 1069.9 507.4 1071.8 512.1 1077.2M515.2 1075.8 512.1 1077.2M551.5 1076.0 548.3 1077.2 545.7 1078.2M551.5 1076.0 554.2 1079.1M545.7 1078.2 545.9 1083.8 547.8 1087.3M556.4 1084.0 554.2 1085.9 553.0 1088.5M553.0 1088.5 549.9 1087.9 547.8 1087.3M543.1 1077.5 545.7 1078.2M552.9 1074.1 551.2 1070.7 548.5 1064.9M552.9 1074.1 551.5 1076.0M541.2 1094.0 544.0 1091.7 547.8 1087.3M555.8 1095.4 554.3 1092.6 553.0 1088.5M516.2 1067.2 508.5 1066.4 504.6 1064.9M504.6 1064.9 502.4 1066.2M518.8 1052.9 518.3 1051.6M518.8 1052.9 517.3 1055.8 517.0 1057.9M517.0 1057.9 511.6 1057.2 508.6 1058.1M508.6 1058.1 508.3 1055.0M529.3 1059.3 528.4 1055.9 526.2 1053.4M526.2 1053.4 523.6 1052.8 518.8 1052.9M519.7 1063.5 518.1 1061.0 517.0 1057.9M504.6 1064.9 506.5 1061.7 508.6 1058.1M540.3 1055.7 541.4 1053.8M538.5 1055.0 537.5 1053.4 537.5 1053.3M526.2 1053.4 526.7 1052.6M552.9 1074.1 556.9 1072.5M558.6 1073.4 556.9 1072.5M555.4 1058.3 557.4 1059.3 560.4 1060.3M555.4 1058.3 553.2 1053.5 553.4 1051.7M560.9 1060.3 563.9 1058.0 567.8 1054.3M549.9 1061.0 552.4 1059.6 555.4 1058.3M556.9 1072.5 558.6 1066.2 560.4 1060.3M567.4 1067.3 565.1 1065.0 560.9 1060.3M576.0 1060.4 571.9 1057.6 568.1 1054.4M547.2 1059.8 549.9 1061.0M544.6 1067.0 545.2 1066.7 548.5 1064.9M548.5 1064.9 549.9 1061.0M541.0 1078.6 543.1 1077.5M543.1 1077.5 542.7 1074.5M551.5 1076.0 548.3 1077.2 545.7 1078.2M551.5 1076.0 553.7 1078.5M545.7 1078.2 545.9 1083.8 547.5 1086.8M543.1 1077.5 545.7 1078.2M552.9 1074.1 551.2 1070.7 548.5 1064.9M552.9 1074.1 551.5 1076.0M552.9 1074.1 555.0 1073.3M549.9 1061.0 551.8 1059.9M437.5 930.2 438.1 930.2M438.7 924.7 440.2 925.9M440.2 925.9 438.1 930.2M468.3 938.0 471.8 937.7M468.3 938.0 465.6 936.1M472.0 928.3 470.6 928.1M470.6 928.1 467.6 929.9 465.0 931.3M465.6 936.1 465.0 931.3M466.8 921.4 464.5 923.5 462.2 925.4M466.8 921.4 467.5 922.8M467.9 923.5 468.9 925.5 470.6 928.1M465.0 931.3 463.2 930.5M462.2 925.4 462.9 927.7 463.2 930.5M465.6 936.1 463.2 937.3M457.5 931.8 458.5 931.6M459.8 931.4 460.3 931.3 463.2 930.5M457.5 931.8 457.6 932.2M465.8 946.5 466.0 945.2M467.2 944.2 468.1 944.3M467.2 944.2 466.0 945.2M468.3 938.0 467.1 940.3 467.2 944.2M461.5 942.7 461.5 941.0M461.5 942.7 463.5 943.7 466.0 945.2M438.1 930.2 440.5 934.2M440.5 934.2 440.1 935.3M449.4 935.1 449.6 937.8M449.4 935.1 447.5 933.9 444.6 932.1M449.6 937.8 446.4 937.7 441.8 939.1M444.6 932.1 440.5 934.2M440.6 936.7 441.8 939.1M459.6 918.3 457.9 920.9 457.2 923.7M459.6 918.3 462.2 918.1 465.5 917.8M466.8 921.4 466.9 920.0M457.2 923.7 460.0 925.2 462.2 925.4M465.5 917.8 466.9 920.0M466.9 920.0 471.1 920.7M457.3 915.0 457.7 913.6 457.9 909.7M440.2 925.9 444.0 925.7M445.0 923.4 444.0 925.7M444.6 932.1 444.3 929.7 445.0 926.7M444.0 925.7 445.0 926.7M453.2 954.1 455.4 953.8 458.3 954.6M453.2 954.1 452.6 955.6M459.7 956.7 458.3 954.6M452.2 952.3 453.2 954.1M459.5 950.1 458.3 954.6M459.5 950.1 461.6 949.3 465.0 949.0M461.5 942.7 458.7 943.9M459.5 950.1 457.7 948.0M473.6 911.1 472.7 911.3 466.5 911.8M465.0 910.1 465.2 909.4M465.0 910.1 466.5 911.8M465.5 917.8 465.1 915.0 466.5 911.8M458.1 909.7 461.0 910.5 465.0 910.1M459.6 918.3 458.9 917.6M456.7 924.0 457.4 927.1 456.7 931.2M456.7 924.0 454.2 923.5M451.4 924.9 449.8 926.9M449.8 926.9 451.4 928.8 452.2 931.5M452.2 931.5 456.7 931.2M457.5 931.8 456.7 931.2M445.0 926.7 449.8 926.9M449.4 935.1 452.2 931.5M449.6 937.8 451.2 940.2M445.6 948.6 445.5 947.8 446.6 945.1M446.7 944.7 444.7 943.3 441.9 942.9M441.8 939.1 441.5 940.6M605.2 993.0 607.1 998.1 613.4 1003.8M613.4 1003.8 607.2 1006.5 601.1 1010.1M632.1 999.8 629.8 993.3M628.9 1012.6 622.5 1010.4 616.0 1008.5M629.8 993.3 622.2 998.3 613.6 1003.9M613.6 1003.9 614.5 1006.1 616.0 1008.5M629.9 993.1 629.8 993.3M616.0 1008.5 615.5 1015.1 614.9 1016.9M642.2 951.6 642.8 951.1M642.8 951.1 644.1 946.2 643.7 943.0M643.7 943.0 640.2 940.0 637.3 937.5M637.3 937.5 633.8 938.8M637.6 937.0 637.3 937.5M652.2 938.8 650.4 932.9M652.2 938.8 647.6 941.0 643.7 943.0M650.2 954.9 651.5 957.2M650.2 954.9 646.8 954.3 642.8 951.1M652.2 938.8 654.7 939.3M654.7 939.3 655.1 939.1M650.2 954.9 654.3 952.9 660.1 949.8M654.7 939.3 656.6 946.5 660.1 949.8M662.3 959.3 661.7 955.8 660.6 950.0M663.2 949.6 660.6 950.0M725.8 949.7 720.1 949.2M725.8 949.7 728.0 944.9 729.4 941.1M725.9 935.7 720.2 935.9 714.5 937.3M714.5 937.3 713.8 941.7 714.2 944.1M726.6 951.2 725.8 949.7M699.3 946.5 698.7 945.0M697.8 944.6 698.7 945.0M738.2 945.4 741.6 953.5M741.6 953.5 742.0 953.4M711.0 935.4 713.7 936.3M713.7 936.3 714.1 933.5M698.7 945.0 701.5 941.8M714.5 937.3 713.7 936.3M736.7 957.5 737.5 956.6M737.5 956.6 738.3 956.5M741.6 953.5 740.9 954.3M734.3 955.7 737.5 956.6M704.4 982.4 703.8 980.8M704.4 982.4 701.7 986.6 701.1 987.8M720.4 973.0 719.4 972.5M720.4 973.0 718.9 977.5 719.0 984.4M719.0 984.4 712.9 984.3 704.4 982.4M724.3 969.4 723.4 970.0M720.8 972.4 720.4 973.0M724.3 969.4 723.4 966.8M764.2 958.8 760.8 960.2 756.4 960.8M750.2 955.4 750.2 955.5 756.4 960.8M765.0 973.0 754.7 972.9M754.7 972.9 752.3 968.7M756.4 960.8 754.3 964.8 752.3 968.7M743.7 967.3 743.2 962.8 739.0 956.9M743.7 967.3 740.3 969.7 737.2 976.1M727.1 969.3 730.4 973.4 737.2 976.1M727.1 969.3 731.4 963.4 735.4 959.0M752.3 968.7 747.0 967.5 743.7 967.3M724.3 969.4 727.1 969.3M754.7 972.9 752.5 977.4M737.2 976.1 736.9 980.3M717.7 993.0 718.6 990.5 721.0 987.4M721.0 987.4 726.2 988.7 727.8 988.8M719.0 984.4 721.0 987.4M685.3 989.6 683.1 999.4 681.4 1001.3M685.3 989.6 690.1 990.8 694.6 993.3M688.3 1008.4 689.8 1008.7M692.4 1008.5 692.8 999.4 694.6 993.3M685.3 989.6 682.7 985.9M682.7 985.9 683.8 981.1M683.8 981.1 690.1 980.2 698.6 975.6M700.8 988.7 699.2 992.2M694.6 993.3 699.2 992.2M698.6 975.6 698.7 975.7M691.5 967.9 693.0 968.5M683.8 981.1 682.6 978.8 682.5 978.1M698.6 975.6 698.6 975.6M674.8 986.1 677.0 985.6 682.7 985.9M699.2 992.2 704.6 994.8 707.9 999.3M693.5 1020.6 693.8 1020.2 696.3 1018.5M696.3 1018.5 702.5 1024.6 707.2 1026.8M699.8 1034.4 703.2 1032.7 707.3 1031.0M707.2 1026.8 707.3 1031.0M692.4 1009.3 695.3 1011.3 696.5 1012.9M696.5 1012.9 696.6 1014.9 696.3 1018.5M710.1 1033.1 707.3 1031.0M709.5 1025.2 707.2 1026.8M696.5 1012.9 700.4 1011.5 704.9 1009.2M663.8 1031.8 662.4 1032.4M663.8 1031.8 668.6 1024.5 670.6 1020.2M666.1 1033.8 663.8 1031.8M677.5 1019.5 675.1 1020.0 673.7 1019.7M677.5 1019.5 679.2 1021.6M679.2 1021.6 679.4 1027.4 679.6 1031.8M677.5 1019.5 677.5 1019.5M692.0 1022.7 691.5 1027.7 691.7 1031.2M692.0 1022.7 693.0 1021.3M679.2 1021.6 685.7 1022.1 692.0 1022.7M682.4 1034.6 686.8 1032.8 689.9 1032.3M821.9 997.4 821.1 997.9 819.9 1000.1M819.9 1000.1 819.7 1005.1 819.1 1011.1M819.1 1011.1 819.2 1011.2M812.8 1015.7 812.8 1015.7M812.8 1015.7 812.8 1015.7M819.1 1011.1 816.1 1013.3 812.8 1015.7M797.1 1010.4 789.5 1011.0 781.6 1013.5M802.6 987.6 803.5 998.9M789.9 996.1 794.0 999.5 798.7 1002.7M803.5 998.9 800.6 1000.2 798.7 1002.7M819.9 1000.1 812.7 1001.1 803.5 998.9M798.3 1007.7 798.4 1006.5 798.7 1002.7M869.1 989.4 863.4 998.5M859.1 977.7 849.0 986.4M863.4 998.5 857.1 997.2M883.7 1004.3 875.3 1008.3M886.3 1019.1 875.2 1018.5M875.2 1018.5 874.0 1011.9 875.3 1008.3M863.4 998.5 863.7 1000.8M875.3 1008.3 869.7 1003.8 866.3 1002.2M875.2 1018.5 874.5 1019.1M856.5 1010.8 857.1 1011.0M857.9 1010.2 857.1 1011.0M879.1 1039.1 875.7 1037.8 871.5 1038.1M871.5 1038.1 870.5 1041.8M873.8 1019.7 873.0 1020.4M857.1 1011.0 858.6 1014.0 858.7 1017.0M858.7 1017.0 867.6 1017.3 873.0 1020.4M871.5 1038.1 871.0 1037.0M871.0 1037.0 872.3 1028.9 872.6 1025.0M872.6 1024.7 873.0 1020.4M858.7 1017.0 856.5 1021.3 853.2 1025.7M871.0 1037.0 862.0 1032.6 856.6 1030.5M821.5 997.6 821.1 997.9 819.9 1000.1M819.9 1000.1 819.7 1005.1 819.3 1009.1M811.2 1015.5 812.7 1015.7M802.5 986.5 803.5 998.9M789.1 995.4 794.0 999.5 798.7 1002.7M803.5 998.9 800.6 1000.2 798.7 1002.7M819.9 1000.1 812.7 1001.1 803.5 998.9M798.6 1003.7 798.7 1002.7M851.5 1045.6 848.2 1045.3M848.2 1045.3 848.2 1047.5M848.2 1045.3 846.4 1042.3 846.3 1042.1M841.9 1038.9 841.0 1038.8 837.9 1038.2M837.9 1038.2 835.0 1031.9M839.1 1059.4 837.1 1060.2M837.9 1038.2 833.9 1041.0 828.0 1046.5M837.1 1060.2 832.3 1056.5 828.0 1046.5M817.1 1032.2 815.6 1037.3 817.4 1046.1M828.0 1046.5 823.2 1046.9 817.4 1046.1M837.1 1060.2 834.0 1062.8 830.7 1066.6M830.7 1066.6 835.0 1074.9 837.3 1079.6M797.3 1029.4 797.3 1029.8M797.3 1029.8 804.7 1030.2 808.0 1029.5M803.8 1048.5 807.9 1049.6 815.1 1048.3M803.8 1048.5 801.0 1045.5 795.7 1042.1M817.4 1046.1 815.1 1048.3M797.3 1029.8 796.4 1031.4 794.0 1033.6M795.7 1042.1 793.9 1037.9 794.0 1033.6M826.0 1066.9 822.8 1064.7 817.8 1060.8M826.0 1066.9 821.3 1073.6 818.9 1079.0M817.8 1060.8 812.8 1062.6 811.8 1063.7M817.2 1079.6 815.6 1079.1M830.7 1066.6 826.0 1066.9M815.1 1048.3 815.3 1056.1 817.8 1060.8M802.5 1053.4 803.8 1048.5M794.0 1033.6 789.9 1032.8 787.6 1031.7M795.7 1042.1 794.9 1042.4M902.7 1124.5 902.6 1124.5M902.6 1124.5 901.9 1126.7 899.5 1129.2M899.5 1129.2 901.0 1135.9M902.6 1124.5 902.4 1124.0M900.4 1120.0 900.2 1119.5 895.1 1116.0M895.1 1116.0 895.8 1111.8 896.1 1111.2M899.5 1129.2 893.4 1126.9 888.7 1127.5M895.1 1116.0 890.0 1117.5 886.8 1118.4M886.8 1118.4 885.5 1120.5M888.7 1127.5 887.2 1125.0 885.5 1120.5M888.7 1127.5 888.6 1127.6M886.8 1118.4 884.5 1112.2M885.5 1120.5 883.6 1120.3M797.2 1132.6 798.0 1132.8M804.8 1139.6 802.5 1135.6 798.0 1132.8M824.7 1138.2 824.3 1136.6M833.0 1134.6 830.3 1132.7M830.3 1132.7 827.6 1135.2 824.3 1136.6M819.6 1124.0 817.4 1128.0 817.3 1131.8M819.6 1124.0 818.5 1123.2M807.0 1122.4 806.3 1123.6 805.8 1129.2M805.8 1129.2 809.5 1131.7 814.3 1133.2M814.3 1133.2 817.3 1131.8M830.3 1132.7 829.9 1128.9 828.3 1124.8M824.3 1136.6 821.3 1134.3 817.3 1131.8M828.3 1124.8 823.9 1124.5 821.2 1123.2M821.2 1123.2 819.6 1124.0M812.8 1139.6 812.9 1139.2 814.3 1133.2M798.0 1132.8 803.2 1130.9 805.8 1129.2M821.2 1123.2 821.3 1123.0M828.3 1124.8 828.4 1124.7M815.5 1245.3 813.4 1247.0 807.0 1248.9M816.5 1245.4 816.6 1256.5 816.7 1256.8M807.0 1248.9 809.0 1257.4M833.9 1254.0 833.9 1254.1 831.0 1259.0M791.9 1259.6 792.0 1258.9M777.5 1249.1 784.4 1246.8M784.4 1246.8 788.0 1254.9 792.0 1258.9M807.0 1248.9 803.6 1247.8 801.3 1247.5M792.0 1258.9 796.0 1253.2 801.3 1247.5M816.7 1242.4 812.2 1238.4 811.9 1237.8M785.4 1239.8 786.3 1243.5M786.3 1243.5 791.3 1242.7 796.9 1239.6M796.9 1239.6 796.9 1239.4M784.4 1246.8 786.3 1243.5M801.3 1247.5 797.9 1243.1 796.9 1239.6" fill="none" stroke="#4d443b" stroke-width="0.75" stroke-linejoin="round"/>
<polyline points="270.9,787.5 272,794.9 270.9,800.2" fill="none" stroke="#4a443e" stroke-width="0.8" stroke-linejoin="round"/>
<polyline points="277.3,777.5 278.3,786.4 274.1,792.8 275.2,798.1" fill="none" stroke="#4a443e" stroke-width="0.8" stroke-linejoin="round"/>
<polyline points="278.3,786.4 288.3,786.4" fill="none" stroke="#4a443e" stroke-width="0.8" stroke-linejoin="round"/>
<polyline points="281.5,798.1 283.6,792.8 289,793.2" fill="none" stroke="#4a443e" stroke-width="0.8" stroke-linejoin="round"/>
<polyline points="265.6,788.5 263.5,795.9 265.6,802.9" fill="none" stroke="#4a443e" stroke-width="0.8" stroke-linejoin="round"/>
<polyline points="570.3,608.8 571.7,616.6 573.2,626.5 578.8,633.6 578.8,640.6 573.2,646.3 576,656.2 576,667.5 573.2,674.6 568.9,677.4 565.4,683.1 566.1,694.4 561.8,702.9" fill="none" stroke="#2e2a26" stroke-width="1.05" stroke-linejoin="round"/>
<polyline points="483.3,607.4 492.5,617.3" fill="none" stroke="#4a443e" stroke-width="0.8" stroke-linejoin="round"/>
<polyline points="491.8,599.6 506.7,616.6" fill="none" stroke="#4a443e" stroke-width="0.8" stroke-linejoin="round"/>
<polyline points="525.8,579.8 532.1,585.5 533.6,595.4 530.7,606.7 533.6,609.5" fill="none" stroke="#4a443e" stroke-width="0.8" stroke-linejoin="round"/>
<polyline points="537.1,573.4 542,578.4 553.4,578.4 561.8,584 566.8,584" fill="none" stroke="#4a443e" stroke-width="0.8" stroke-linejoin="round"/>
<polyline points="508.8,656.2 516.6,647.7 526.5,650.5" fill="none" stroke="#4a443e" stroke-width="0.8" stroke-linejoin="round"/>
<polyline points="539.2,695.8 539.9,687.3 542,684.5 545.6,683.8 547.7,690.1 546.3,697.2 543.5,700.7" fill="none" stroke="#4a443e" stroke-width="0.8" stroke-linejoin="round"/>
<polyline points="551.9,683.1 559,681.6 565.4,683.1" fill="none" stroke="#4a443e" stroke-width="0.8" stroke-linejoin="round"/>
<polyline points="497.5,696.5 499.6,704.3 505.3,708.5 506,714.2 509.5,717 514.5,724.8" fill="none" stroke="#4a443e" stroke-width="0.8" stroke-linejoin="round"/>
<polyline points="566.4,533.4 579.1,530.2 591.8,530.2" fill="none" stroke="#4a443e" stroke-width="0.8" stroke-linejoin="round"/>
<polyline points="560,586.4 567.4,584.3" fill="none" stroke="#4a443e" stroke-width="0.8" stroke-linejoin="round"/>
<polyline points="745.6,537.6 758.4,538.7 765.8,540.8 770,536.5 784.9,534.4" fill="none" stroke="#4a443e" stroke-width="0.8" stroke-linejoin="round"/>
<polyline points="765.8,540.8 772.2,550.3 776.4,560.9 778.5,569.4 775.3,575.8 780.7,580 769,581.1 755.2,579 747.8,569.4 746.7,558.8 741.4,555.6" fill="none" stroke="#4a443e" stroke-width="0.8" stroke-linejoin="round"/>
<polyline points="778.5,569.4 787,575.8 793.4,584.3 800.8,586.4" fill="none" stroke="#4a443e" stroke-width="0.8" stroke-linejoin="round"/>
<polyline points="755.2,579 753.1,588.5 756.3,597 757.3,603.4 748.8,602.3 744.6,609.7 739.3,616.1" fill="none" stroke="#4a443e" stroke-width="0.8" stroke-linejoin="round"/>
<polyline points="757.3,603.4 760.5,611.9 770,612.9" fill="none" stroke="#4a443e" stroke-width="0.8" stroke-linejoin="round"/>
<polyline points="760.5,611.9 757.3,616.1 759.4,626.7 763.7,632" fill="none" stroke="#4a443e" stroke-width="0.8" stroke-linejoin="round"/>
<polyline points="744.6,609.7 745.6,620.3 744.6,628.8 750.9,630.9 759.4,626.7" fill="none" stroke="#4a443e" stroke-width="0.8" stroke-linejoin="round"/>
<polyline points="731.9,622.5 742.5,620.3 745.6,620.3" fill="none" stroke="#4a443e" stroke-width="0.8" stroke-linejoin="round"/>
<polyline points="719.1,627.8 721.2,635.2 729.7,637.3 736.1,638.4 744.6,628.8" fill="none" stroke="#4a443e" stroke-width="0.8" stroke-linejoin="round"/>
<polyline points="729.7,637.3 728.7,650 721.2,660.7" fill="none" stroke="#4a443e" stroke-width="0.8" stroke-linejoin="round"/>
<polyline points="695.8,639.4 706.4,635.2" fill="none" stroke="#4a443e" stroke-width="0.8" stroke-linejoin="round"/>
<polyline points="727.6,554.6 723.4,567.3 719.1,565.2 711.7,563.1 706.4,558.8 708.5,554.6 704.3,548.2" fill="none" stroke="#4a443e" stroke-width="0.8" stroke-linejoin="round"/>
<polyline points="723.4,567.3 725.5,577.9 723.4,586.4 717,588.5" fill="none" stroke="#4a443e" stroke-width="0.8" stroke-linejoin="round"/>
<polyline points="706.4,558.8 699,565.2 697.9,575.8 692.6,584.3 690.5,592.8 692.6,601.2 690.5,605.5" fill="none" stroke="#4a443e" stroke-width="0.8" stroke-linejoin="round"/>
<polyline points="711.7,563.1 704.3,565.2 699,565.2" fill="none" stroke="#4a443e" stroke-width="0.8" stroke-linejoin="round"/>
<polyline points="727.6,592.8 729.7,586.4 725.5,577.9" fill="none" stroke="#4a443e" stroke-width="0.8" stroke-linejoin="round"/>
<polyline points="706.4,597 708.5,607.6 707.5,616.1 712.8,624.6 719.1,627.8" fill="none" stroke="#4a443e" stroke-width="0.8" stroke-linejoin="round"/>
<polyline points="616.2,570.5 623.6,563.1 640.6,559.9 653.4,567.3 656.5,571.5" fill="none" stroke="#4a443e" stroke-width="0.8" stroke-linejoin="round"/>
<polyline points="604.6,601.2 613,607.6 639.6,609.7" fill="none" stroke="#4a443e" stroke-width="0.8" stroke-linejoin="round"/>
<polyline points="709,818.8 706.9,827.3 709,850.6" fill="none" stroke="#4a443e" stroke-width="0.8" stroke-linejoin="round"/>
<polyline points="729.1,817.8 730.2,831.5 729.1,844.3" fill="none" stroke="#4a443e" stroke-width="0.8" stroke-linejoin="round"/>
<polyline points="669.7,361.2 664.1,381 652.8,406.5" fill="none" stroke="#4a443e" stroke-width="0.8" stroke-linejoin="round"/>
<polyline points="613.2,432 624.5,429.1" fill="none" stroke="#4a443e" stroke-width="0.8" stroke-linejoin="round"/>
<polyline points="732,743.6 737.3,747.9 743.6,745.8 750,741.5 762.7,744.7 769.1,741.5 773.4,736.2 781.8,739.4 790.3,741.5 788.2,750 789.3,756.4" fill="none" stroke="#4a443e" stroke-width="0.8" stroke-linejoin="round"/>
<polyline points="759.6,709.7 763.8,720.3 761.7,726.7 771.2,735.2 773.4,736.2" fill="none" stroke="#4a443e" stroke-width="0.8" stroke-linejoin="round"/>
<polyline points="773.4,707.6 776.5,716.1 775.5,728.8 781.8,739.4" fill="none" stroke="#4a443e" stroke-width="0.8" stroke-linejoin="round"/>
<polyline points="798.8,711.8 795.6,726.7 794.6,739.4 790.3,741.5" fill="none" stroke="#4a443e" stroke-width="0.8" stroke-linejoin="round"/>
<polyline points="736.2,758.5 736.2,750 732,743.6 735.2,737.3 741.5,736.2" fill="none" stroke="#4a443e" stroke-width="0.8" stroke-linejoin="round"/>
<polyline points="760.6,756.4 769.1,752.1 774.4,754.3 786.1,756.4" fill="none" stroke="#4a443e" stroke-width="0.8" stroke-linejoin="round"/>
<polyline points="463.8,977 469.1,977" fill="none" stroke="#4a443e" stroke-width="0.8" stroke-linejoin="round"/>
<polyline points="459.6,996.1 464.9,1004.6" fill="none" stroke="#4a443e" stroke-width="0.8" stroke-linejoin="round"/>
<polyline points="481.8,998.2 484,1009.9" fill="none" stroke="#4a443e" stroke-width="0.8" stroke-linejoin="round"/>
<polyline points="490.3,989.7 488.2,996.1 495.6,1008.8" fill="none" stroke="#4a443e" stroke-width="0.8" stroke-linejoin="round"/>
<polyline points="490.3,977 486.1,987.6" fill="none" stroke="#4a443e" stroke-width="0.8" stroke-linejoin="round"/>
<polyline points="488.2,1002.5 480.8,1015.2" fill="none" stroke="#4a443e" stroke-width="0.8" stroke-linejoin="round"/>
<polyline points="511.5,1052.3 515.8,1066.1 509.4,1081 512.6,1104.3" fill="none" stroke="#4a443e" stroke-width="0.8" stroke-linejoin="round"/>
<polyline points="524.3,1050.2 526.4,1064 532.8,1070.4 531.7,1082" fill="none" stroke="#4a443e" stroke-width="0.8" stroke-linejoin="round"/>
<polyline points="515.8,1066.1 526.4,1064" fill="none" stroke="#4a443e" stroke-width="0.8" stroke-linejoin="round"/>
<polyline points="532.8,1052.3 537,1064 544.4,1066.1" fill="none" stroke="#4a443e" stroke-width="0.8" stroke-linejoin="round"/>
<polyline points="556.1,1052.3 552.9,1068.2" fill="none" stroke="#4a443e" stroke-width="0.8" stroke-linejoin="round"/>
<polyline points="564.6,1053.4 562.5,1072.5" fill="none" stroke="#4a443e" stroke-width="0.8" stroke-linejoin="round"/>
<polyline points="528.5,1106.4 532.8,1087.3" fill="none" stroke="#4a443e" stroke-width="0.8" stroke-linejoin="round"/>
<polyline points="543.4,1108.5 545.5,1094.8" fill="none" stroke="#4a443e" stroke-width="0.8" stroke-linejoin="round"/>
<polyline points="520,1105.4 522.1,1085.2 532.8,1087.3" fill="none" stroke="#4a443e" stroke-width="0.8" stroke-linejoin="round"/>
<polyline points="509.4,1081 522.1,1085.2" fill="none" stroke="#4a443e" stroke-width="0.8" stroke-linejoin="round"/>
<polyline points="502,1066.1 515.8,1066.1" fill="none" stroke="#4a443e" stroke-width="0.8" stroke-linejoin="round"/>
<polyline points="521.8,1159.7 523.9,1170.3 530.3,1178.8" fill="none" stroke="#4a443e" stroke-width="0.8" stroke-linejoin="round"/>
<polyline points="515.5,1180.9 521.8,1178.8 523.9,1170.3" fill="none" stroke="#4a443e" stroke-width="0.8" stroke-linejoin="round"/>
<polyline points="517.6,1206.4 519.7,1214.9 523.9,1223.4 514.4,1224.4" fill="none" stroke="#4a443e" stroke-width="0.8" stroke-linejoin="round"/>
<polyline points="523.9,1223.4 534.6,1221.2" fill="none" stroke="#4a443e" stroke-width="0.8" stroke-linejoin="round"/>
<polyline points="521.8,1237.2 528.2,1234 533.5,1242.5" fill="none" stroke="#4a443e" stroke-width="0.8" stroke-linejoin="round"/>
<polyline points="517.6,1242.5 519.7,1250.9 528.2,1257.3" fill="none" stroke="#4a443e" stroke-width="0.8" stroke-linejoin="round"/>
<polyline points="509.1,1240.3 517.6,1242.5" fill="none" stroke="#4a443e" stroke-width="0.8" stroke-linejoin="round"/>
<polyline points="519.7,1250.9 511.2,1250.9 507,1255.2" fill="none" stroke="#4a443e" stroke-width="0.8" stroke-linejoin="round"/>
<polyline points="635.3,1291.3 636.4,1299.7 631.1,1310.4" fill="none" stroke="#4a443e" stroke-width="0.8" stroke-linejoin="round"/>
<polyline points="636.4,1299.7 647,1295.5 659.7,1289.1" fill="none" stroke="#4a443e" stroke-width="0.8" stroke-linejoin="round"/>
<polyline points="642.8,1283.8 647,1295.5" fill="none" stroke="#4a443e" stroke-width="0.8" stroke-linejoin="round"/>
<polyline points="647,1295.5 648.1,1306.1 645.9,1318.8" fill="none" stroke="#4a443e" stroke-width="0.8" stroke-linejoin="round"/>
<polyline points="648.1,1306.1 658.7,1308.2" fill="none" stroke="#4a443e" stroke-width="0.8" stroke-linejoin="round"/>
<polyline points="636.4,1299.7 638.5,1313.5" fill="none" stroke="#4a443e" stroke-width="0.8" stroke-linejoin="round"/>
<polyline points="729.3,971 737.1,968.2 745.6,969.6 755.5,968.2 764,966.1" fill="none" stroke="#4a443e" stroke-width="0.8" stroke-linejoin="round"/>
<polyline points="677.7,992.2 686.2,986.6 687.6,972.4" fill="none" stroke="#4a443e" stroke-width="0.8" stroke-linejoin="round"/>
<polyline points="686.2,986.6 689,1009.2" fill="none" stroke="#4a443e" stroke-width="0.8" stroke-linejoin="round"/>
<polyline points="698.9,985.2 700.3,993.6 704.6,1007.1" fill="none" stroke="#4a443e" stroke-width="0.8" stroke-linejoin="round"/>
<polyline points="680.5,1019.1 677.7,1026.2 681.9,1029 689,1033.3" fill="none" stroke="#4a443e" stroke-width="0.8" stroke-linejoin="round"/>
<polyline points="806.4,1003.6 808.5,993 810.6,985.6" fill="none" stroke="#4a443e" stroke-width="0.8" stroke-linejoin="round"/>
<polyline points="805.7,1059.8 810.5,1044.2 812.9,1032.1" fill="none" stroke="#4a443e" stroke-width="0.8" stroke-linejoin="round"/>
<polyline points="810.5,1044.2 823.7,1049 841.8,1051.4" fill="none" stroke="#4a443e" stroke-width="0.8" stroke-linejoin="round"/>
<polyline points="823.7,1049 824.9,1071.8" fill="none" stroke="#4a443e" stroke-width="0.8" stroke-linejoin="round"/>
<polyline points="823.7,1049 825.5,1034.5" fill="none" stroke="#4a443e" stroke-width="0.8" stroke-linejoin="round"/>
<polyline points="838.1,1052.6 827.3,1034.5" fill="none" stroke="#4a443e" stroke-width="0.8" stroke-linejoin="round"/>
<polyline points="868.2,1005.7 859.8,999.7" fill="none" stroke="#4a443e" stroke-width="0.8" stroke-linejoin="round"/>
<polyline points="873,1024.9 856.2,1028.5" fill="none" stroke="#4a443e" stroke-width="0.8" stroke-linejoin="round"/>
<polyline points="851.4,990.1 859.8,978" fill="none" stroke="#4a443e" stroke-width="0.8" stroke-linejoin="round"/>
<polyline points="865.8,1002.1 870.6,990.1" fill="none" stroke="#4a443e" stroke-width="0.8" stroke-linejoin="round"/>
<polyline points="879,1047.8 859.8,1055" fill="none" stroke="#4a443e" stroke-width="0.8" stroke-linejoin="round"/>
<polyline points="796.1,1003.9 800.9,986.4" fill="none" stroke="#4a443e" stroke-width="0.8" stroke-linejoin="round"/>
<polyline points="806.9,1008.1 817.7,988.9" fill="none" stroke="#4a443e" stroke-width="0.8" stroke-linejoin="round"/>
<polyline points="867.3,1331.3 868.4,1336.6" fill="none" stroke="#4a443e" stroke-width="0.8" stroke-linejoin="round"/>
<polyline points="479.7,896.4 490.3,892.1 498.8,885.8 507.3,890 511.5,894.3 515.8,885.8 524.3,885.8 528.5,898.5 532.8,904.9 530.6,909.1 524.3,911.2 517.9,917.6" fill="none" stroke="#4a443e" stroke-width="0.85" stroke-linejoin="round"/>
<polyline points="517.9,917.6 515.8,926.1 507.3,930.3 503.1,928.2 495.6,934.6 488.2,938.8 479.7,943.1 473.4,945.2" fill="none" stroke="#4a443e" stroke-width="0.85" stroke-linejoin="round"/>
<polyline points="517.9,917.6 528.5,915.5 532.8,911.2 539.1,917.6 543.4,924 541.2,932.4 542.3,940.9 535.9,945.2 532.8,951.5 524.3,955.8 528.5,962.1" fill="none" stroke="#4a443e" stroke-width="0.85" stroke-linejoin="round"/>
<polyline points="507.3,930.3 509.4,938.8 505.2,943.1 507.3,951.5 511.5,955.8 515.8,960 517.9,966.4 528.5,962.1" fill="none" stroke="#4a443e" stroke-width="0.85" stroke-linejoin="round"/>
<polyline points="495.6,934.6 500.9,943.1 507.3,951.5" fill="none" stroke="#4a443e" stroke-width="0.85" stroke-linejoin="round"/>
<polyline points="511.5,955.8 512.6,968.5 507.3,977 507.3,983.4" fill="none" stroke="#4a443e" stroke-width="0.85" stroke-linejoin="round"/>
<polyline points="481.8,964.3 486.1,968.5 492.4,966.4 494.6,972.8 490.3,977" fill="none" stroke="#4a443e" stroke-width="0.85" stroke-linejoin="round"/>
<polyline points="539.1,917.6 549.7,911.2 556.1,909.1 564.6,913.4 568.8,919.7 579.4,921.8 581.6,926.1 577.3,932.4 575.2,938.8 566.7,940.9 560.3,945.2 554,947.3 549.7,943.1 542.3,940.9" fill="none" stroke="#4a443e" stroke-width="0.85" stroke-linejoin="round"/>
<polyline points="549.7,911.2 551.9,900.6 556.1,896.4 555,883.6 555,875.2 564.6,870.9 577.3,873 579.4,883.6 578.4,894.3 583.7,898.5 590,902.7 594.3,909.1 596.4,912.3 583.7,915.5 579.4,921.8" fill="none" stroke="#4a443e" stroke-width="0.85" stroke-linejoin="round"/>
<polyline points="532.8,904.9 541.2,902.7 551.9,900.6" fill="none" stroke="#4a443e" stroke-width="0.85" stroke-linejoin="round"/>
<polyline points="555,875.2 556.1,866.7 554,856.1 558.2,847.6 552.9,843.3" fill="none" stroke="#4a443e" stroke-width="0.85" stroke-linejoin="round"/>
<polyline points="577.3,873 583.7,864.6 592.2,862.4 602.8,857.1 609.1,858.2 612.3,856.1" fill="none" stroke="#4a443e" stroke-width="0.85" stroke-linejoin="round"/>
<polyline points="596.4,912.3 604.9,913.4 615.5,911.2 619.7,914.4 629.3,911.2" fill="none" stroke="#4a443e" stroke-width="0.85" stroke-linejoin="round"/>
<polyline points="579.4,921.8 583.7,930.3 592.2,934.6 596.4,940.9" fill="none" stroke="#4a443e" stroke-width="0.85" stroke-linejoin="round"/>
<polyline points="528.5,962.1 537,960 543.4,968.5 547.6,977 549.7,987.6 545.5,996.1 543.4,1006.7 544.4,1015.2 539.1,1019.4 532.8,1023.7" fill="none" stroke="#4a443e" stroke-width="0.85" stroke-linejoin="round"/>
<polyline points="528.5,962.1 532.8,951.5" fill="none" stroke="#4a443e" stroke-width="0.85" stroke-linejoin="round"/>
<polyline points="575.2,938.8 579.4,945.2 583.7,949.4" fill="none" stroke="#4a443e" stroke-width="0.85" stroke-linejoin="round"/>
<polyline points="522.1,832.7 528.5,837 537,834.9 545.5,840.2 552.9,843.3 556.1,847.6" fill="none" stroke="#4a443e" stroke-width="0.85" stroke-linejoin="round"/>
<polyline points="532.8,841.2 538.1,840.2 539.1,844.4 533.8,845.5 532.8,841.2" fill="none" stroke="#4a443e" stroke-width="0.85" stroke-linejoin="round"/>
<polyline points="517.5,863.5 524.3,865 522.6,870.1 517.9,868.4 517.5,863.5" fill="none" stroke="#4a443e" stroke-width="0.85" stroke-linejoin="round"/>
<polyline points="594.3,883.6 600.7,879.4 605.3,886.2 596.4,887.5 594.3,883.6" fill="none" stroke="#4a443e" stroke-width="0.85" stroke-linejoin="round"/>
<polyline points="680.9,431.9 685.2,440 687.3,452.7 692.6,463.3 695.8,478.2 702.1,490.9 701.1,497.3" fill="none" stroke="#2e2a26" stroke-width="1.05" stroke-linejoin="round"/>
<polyline points="603.5,493 602.4,496.2 592.9,501.5 593.9,514.3 591.8,530.2 587.6,541.8 591.8,552.4 590.8,558.8 581.2,559.9 574.9,563.1 567.4,580 568.5,597 570.6,609.7" fill="none" stroke="#2e2a26" stroke-width="1.05" stroke-linejoin="round"/>
<polyline points="757.3,464.4 769,478.2 772.2,495.2 778.5,507.9 788.1,520.6 789.1,529.1 784.9,534.4 810.4,548.2 810.4,558.8 806.1,575.8 800.8,586.4 797.6,597 792.3,607.6 788.1,616.1 783.8,623.5" fill="none" stroke="#2e2a26" stroke-width="1.05" stroke-linejoin="round"/>
<polyline points="748.9,443.3 751.8,434.8 750.4,426.3 734.8,409.3 729.1,398 730.6,386.7 741.9,376.8 741.9,371.1" fill="none" stroke="#2e2a26" stroke-width="1.05" stroke-linejoin="round"/>
<polyline points="741.9,376.8 726.3,381 712.2,369.7 698,378.2 695.2,398 692.4,415 681,409.3 675.4,417.8 664.1,412.2 652.8,406.5" fill="none" stroke="#2e2a26" stroke-width="1.05" stroke-linejoin="round"/>
<polyline points="652.8,406.5 647.1,415 669.7,423.5 681,432" fill="none" stroke="#2e2a26" stroke-width="1.05" stroke-linejoin="round"/>
<polyline points="652.8,406.5 644.3,415 641.4,432 624.5,429.1 621.6,443.3 610.3,448.9 607.5,465.9 610.3,477.2 601.8,494.2" fill="none" stroke="#2e2a26" stroke-width="1.05" stroke-linejoin="round"/>
<polyline points="876.4,1174.4 880.7,1171.3 882.8,1162.8 883.8,1152.2 882.8,1143.7 889.1,1139.4 893.4,1136.3 901.9,1136.3 910.4,1133.1 904,1124.6 901.9,1116.1 902.9,1107.6 906.1,1098.1 911.4,1090.6 910.4,1080 911.4,1069.4 912.5,1058.8 916.7,1051.4 924.1,1045 923.1,1036.5 917.8,1033.4 908.2,1037.6 899.7,1039.7 892.3,1037.6 890.2,1029.1 887,1018.5 884.9,1005.8 878.5,998.3 870,992 860.5,982.4 855.2,971.8 847.8,967.6 840.3,977.1 834,979.3 823.4,984.6 819.1,989.9 810.6,985.6 797.9,987.7 791.5,988.8 785.2,984.6 778.8,987.7 770.3,985.6 761.8,981.4 766.1,976.1 766.1,963.3 770.3,960.2 772.4,950.6 770.3,940 776.5,934.6 779.7,926.1 786.1,921.9 788.2,913.4 784,904.9 777.6,896.4 776.5,886.9 773.4,879.4 768,870.9 769.1,862.5 773.4,851.9 771.2,841.2 768,832.8 764.9,824.3 769.1,821.1 777.6,817.9 786.1,811.5 794.6,807.3 791.4,798.8 794.6,786.1 798.8,779.7 803.1,776.5 800.9,771.2 799.9,763.8 805.2,762.7 811.5,756.4 820,745.8 817.9,735.2 809.4,726.7 807.3,716.1 798.8,711.8 800.9,701.2 796.7,690.6 793.5,680 794.4,656.4" fill="none" stroke="#2e2a26" stroke-width="1.05" stroke-linejoin="round"/>
<polyline points="710.7,1150.2 702.2,1144.9 693.7,1138.5 685.2,1130 676.7,1121.5 670.3,1113 664,1104.6 657.6,1096.1 655.5,1087.6 659.7,1083.3 666.1,1086.5 676.7,1081.2 689.4,1082.3 702.2,1081.2 714.9,1084.4 720.2,1079.1 718.1,1070.6 714.9,1060 713,1055.6 723.6,1052.4 734.3,1050.3 741.7,1049.3 749.1,1055.6 753.4,1063.1 761.8,1069.4 766.1,1075.8 772.4,1084.3 780.9,1086.4 787.3,1084.3 791.5,1088.5 792.6,1097 789.4,1103.4 791.5,1109.7 797.9,1116.1 802.1,1122.5 800,1130.9 795.8,1135.2 797.9,1143.7 806.4,1150 808.5,1156.4 810.6,1164.9 811.7,1173.4 808.5,1175.5 800,1178.7 791.5,1181.9 783.1,1188.2 774.6,1193.5 772.4,1201 770.3,1208.4 764,1215.8 762.9,1224.3 759.7,1226.4" fill="none" stroke="#2e2a26" stroke-width="1.05" stroke-linejoin="round"/>
<polyline points="155.6,1130 165.2,1127.9 169.4,1131.1 177.9,1137.4 185.3,1140.6 190.6,1138.5 197,1141.7 203.4,1151.2 199.1,1157.6 189.6,1159.7 189.6,1164 187.4,1176.7 186.4,1186.2 183.2,1191.5 180,1200 171.5,1202.1 170.5,1212.8 173.6,1219.1 169.4,1224.4 166.2,1229.7 167.3,1240.3 173.6,1244.6 169.4,1250.9 160.9,1259.4 160.9,1266.9" fill="none" stroke="#2e2a26" stroke-width="1.05" stroke-linejoin="round"/>
<polyline points="310.6,1122.8 319.1,1129.1 323.4,1135.5 329.7,1139.7 338.2,1144 346.7,1144 353.1,1142.9 359.4,1147.2 365.8,1151.4 372.1,1154.6 378.5,1157.8 387,1157.8 395.5,1159.9 399.7,1161" fill="none" stroke="#2e2a26" stroke-width="1.05" stroke-linejoin="round"/>
<polyline points="799.7,1101.9 808.1,1102.5 816.5,1103.1 824.9,1103.1 834.5,1101.3 844.2,1099.5 852.6,1098.3 859.8,1093.5 865.8,1086.2 873,1087.4 879,1089.8 887.4,1092.2 895.9,1095.9 904.3,1097.1" fill="none" stroke="#2e2a26" stroke-width="1.05" stroke-linejoin="round"/>
<polyline points="613.5,846.4 612.3,856.1 614.4,862.4 613.4,870.9 617.6,875.2 619.7,883.6 621.9,896.4 624,904.9 629.3,911.2 628.2,921.8 621.9,921.8 615.5,928.2 604.9,934.6 596.4,940.9 587.9,945.2 583.7,949.4 585.8,957.9 589,966.4 596.4,972.8 604.9,981.2 610.2,989.7 607,994 600.7,1000.3 594.3,1004.6 596.4,1010.9 598.5,1021.6 592.2,1018.4 579.4,1019.4 570.9,1021.6 564.6,1024.7 558.2,1023.7 549.7,1026.9 541.2,1024.7 532.8,1023.7 528.5,1021.6 515.8,1019.4 511.5,1021.6 500.9,1023.7 490.3,1024.7 495.6,1019.4 495.6,1008.8 498.8,1000.3 503.1,991.9 507.3,983.4 498.8,981.2 490.3,977 492.4,972.8 490.3,966.4 481.8,964.3 477.6,966.4 473.4,957.9 469.1,951.5 473.4,945.2 470.2,938.8 471.2,932.4 469.1,926.1 473.4,921.8 475.5,913.4 473.4,903.8 481.8,901.7 479.7,896.4 484,890 490.3,885.8 492.4,877.3 494.6,868.8 490.3,860.3 492.4,852.9" fill="none" stroke="#2e2a26" stroke-width="1.05" stroke-linejoin="round"/>
<polyline points="520.2,816.7 531.8,818.4 542.4,819.9" fill="none" stroke="#2e2a26" stroke-width="1.05" stroke-linejoin="round"/>
<polyline points="550.5,701.4 549.8,691.5 550.5,681.6 549.4,676" fill="none" stroke="#fff" stroke-width="1" stroke-linejoin="round"/>
</g>
<rect x="1016" y="224.3" width="132.4" height="150.8" fill="#fff" stroke="#f4f4f4" stroke-width="1.2"/>
<rect x="1159.4" y="224.3" width="132.4" height="150.8" fill="#fff" stroke="#f4f4f4" stroke-width="1.2"/>
<rect x="1016" y="387" width="132.4" height="150.8" fill="#fff" stroke="#f4f4f4" stroke-width="1.2"/>
<rect x="1159.4" y="387" width="132.4" height="150.8" fill="#e6e6e6" stroke="#b0b0b0" stroke-width="1"/>
<rect x="1016" y="549.8" width="132.4" height="150.8" fill="#fff" stroke="#f4f4f4" stroke-width="1.2"/>
<rect x="1159.4" y="549.8" width="132.4" height="150.8" fill="#fff" stroke="#f4f4f4" stroke-width="1.2"/>
<rect x="1016" y="712.2" width="132.4" height="150.8" fill="#fff" stroke="#f4f4f4" stroke-width="1.2"/>
<rect x="1159.4" y="712.2" width="132.4" height="150.8" fill="#fff" stroke="#f4f4f4" stroke-width="1.2"/>
<rect x="1016" y="874.8" width="132.4" height="150.8" fill="#fff" stroke="#f4f4f4" stroke-width="1.2"/>
<rect x="1158.6" y="873.8" width="134" height="152.4" fill="#fee2c5" stroke="#8a8a8a" stroke-width="1"/>
<polygon points="1159.7,387.5 1291,387.5 1291,515.4 1287.2,502.7 1282.9,485.7 1278.7,470.8 1272.3,462.4 1268.1,457 1263.8,463.4 1261.7,458.1 1258.5,449.6 1249,444.3 1238.4,436.9 1227.8,428.4 1217.2,421 1204.4,416.7 1191.7,415.7 1181.1,411.4 1170.5,408.3 1159.7,406.1" fill="#fff" stroke="#aaa" stroke-width="0.5" stroke-linejoin="round"/>
<polygon points="1025.8,290.5 1029.4,288.4 1033,290.1 1032.6,295.8 1030.5,300 1027.9,296.9" fill="#fee2c5" stroke="#8a8a8a" stroke-width="0.6" stroke-linejoin="round"/>
<polygon points="1042.8,307.9 1046.4,306.8 1049.1,309.6 1047.4,312.8 1043.6,311.7" fill="#a0bbe2" stroke="#8a8a8a" stroke-width="0.6" stroke-linejoin="round"/>
<polygon points="1022,320.6 1026.2,318.1 1028.8,319.8 1026.2,324 1023,323.4" fill="#a9a6d6" stroke="#8a8a8a" stroke-width="0.6" stroke-linejoin="round"/>
<polygon points="1053.4,303.7 1060.2,302.2 1066.5,297.9 1072.9,296.4 1072.5,299 1068.6,303.2 1065.5,309.6 1060.2,313.4 1057,310.7" fill="#fee2c5" stroke="#8a8a8a" stroke-width="0.6" stroke-linejoin="round"/>
<polygon points="1081.4,311.7 1084.6,309.2 1089.9,308.5 1093,311.7 1092,318.1 1087.7,320.6 1083.1,319.1 1081,315.5" fill="#fee2c5" stroke="#8a8a8a" stroke-width="0.6" stroke-linejoin="round"/>
<polygon points="1115.3,310.7 1120.6,308.5 1124.2,301.1 1127,293.7 1131.2,291.6 1132.3,295.8 1130.2,303.2 1127,307.5 1120.6,311.7 1117.4,312.1" fill="#a0bbe2" stroke="#8a8a8a" stroke-width="0.6" stroke-linejoin="round"/>
<polygon points="1131.9,285.2 1135.5,282 1140.8,278.8 1142.5,280.3 1139.7,285.2 1134.8,288.4 1132.3,288" fill="#fee2c5" stroke="#8a8a8a" stroke-width="0.6" stroke-linejoin="round"/>
<polygon points="1114.3,374.9 1116.4,367.9 1121.7,360.5 1132.3,355.2 1140.8,347.8 1145,337.2 1148.2,325.5 1148.2,374.9" fill="#e6e6e6" stroke="#aaa" stroke-width="0.6" stroke-linejoin="round"/>
<rect x="1169.44" y="248.495" width="36.707" height="25.0371" fill="#fff" stroke="#888" stroke-width="0.7"/>
<polygon points="1176.9,260.8 1185.3,257.6 1189.6,253.4 1193.8,252.3 1193.8,257.6 1191.7,264 1187.5,266.1 1181.1,264" fill="#fee2c5" stroke="#8a8a8a" stroke-width="0.6" stroke-linejoin="round"/>
<polygon points="1180,290.5 1183.2,285.2 1189.6,283.1 1197,285.2 1204.4,289.4 1209.7,294.7 1214,296.9 1211.9,305.4 1214,316 1215,326.6 1210.8,335.1 1204.4,339.3 1195.9,340.4 1190.6,332.9 1186.4,322.3 1184.3,311.7 1181.1,301.1" fill="#fee2c5" stroke="#8a8a8a" stroke-width="0.6" stroke-linejoin="round"/>
<polygon points="1217.2,269.3 1221.4,264 1226.7,260.8 1232,264 1235.2,270.3 1234.1,277.8 1240.5,283.1 1249,286.3 1255.4,291.6 1267,296.9 1257.5,297.9 1246.9,300 1236.3,303.2 1227.8,304.9 1219.3,301.1 1216.1,294.7 1218.2,286.3 1221.4,279.9 1218.2,274.6" fill="#fee2c5" stroke="#8a8a8a" stroke-width="0.6" stroke-linejoin="round"/>
<polygon points="1245.8,339.3 1249,334 1255.4,332.9 1261.7,336.1 1264.9,342.5 1261.7,348.8 1254.3,352 1247.9,349.9 1244.7,344.6" fill="#fee2c5" stroke="#8a8a8a" stroke-width="0.6" stroke-linejoin="round"/>
<polygon points="1277.6,289.4 1289.3,283.7 1291,285.2 1280.8,290.9" fill="#fee2c5" stroke="#8a8a8a" stroke-width="0.6" stroke-linejoin="round"/>
<polygon points="1202.3,353.7 1205.5,352 1207.6,354.6 1204.4,356.3" fill="#fee2c5" stroke="#8a8a8a" stroke-width="0.6" stroke-linejoin="round"/>
<polygon points="1209.1,352 1212.5,351.2 1212.9,353.7 1210,354.6" fill="#fee2c5" stroke="#8a8a8a" stroke-width="0.6" stroke-linejoin="round"/>
<polygon points="1043.2,422 1047.4,416.7 1055.9,413.6 1066.5,415.7 1075,421 1083.5,424.2 1089.9,432.7 1096.2,439 1100.5,436.9 1106.8,434.8 1112.1,434.3 1113.2,439 1106.8,442.2 1101.5,443.3 1104.7,449.6 1111.1,450.7 1107.9,454.9 1102.6,456 1106.8,462.4 1113.2,466.6 1117.4,475.1 1122.8,479.3 1121.7,487.8 1125.9,496.3 1124.9,504.8 1119.6,511.2 1113.2,513.3 1110,506.9 1113.2,499.5 1104.7,497.4 1096.2,495.2 1087.7,496.3 1079.3,500.5 1072.9,497.4 1071.8,489.9 1068.6,487.8 1072.9,483.6 1078.2,482.5 1081.4,477.2 1089.9,479.3 1088.8,473 1085.6,469.8 1079.3,471.9 1068.6,466.6 1060.2,458.1 1053.8,447.5 1050.6,436.9 1045.3,430.5" fill="#fee2c5" stroke="#8a8a8a" stroke-width="0.6" stroke-linejoin="round"/>
<polygon points="1191.7,415.7 1204.4,416.7 1217.2,421 1227.8,428.4 1238.4,436.9 1249,444.3 1258.5,449.6 1261.7,458.1 1263.8,463.4 1259.6,470.8 1253.2,479.3 1246.9,489.9 1240.5,502.7 1234.1,513.3 1225.7,519.6 1223.5,523.9 1217.2,522.8 1212.9,519.6 1206.6,521.8 1200.2,519.6 1193.8,522.8 1187.5,524.9 1181.1,523.9 1175.8,519.6 1179,513.3 1183.2,506.9 1185.3,496.3 1189.6,485.7 1191.7,479.3 1187.5,473 1181.1,466.6 1180,456 1177.9,445.4 1179,434.8 1185.3,424.2" fill="#a0bbe2" stroke="#667" stroke-width="0.6" stroke-linejoin="round"/>
<polyline points="1160.9,511.2 1166.2,515.4 1172.6,518.6 1175.8,519.6" fill="none" stroke="#444" stroke-width="0.6" stroke-linejoin="round"/>
<polygon points="1029.8,611.8 1033.5,604.4 1039.7,599.4 1042.1,590.7 1054.5,585.8 1065.6,580.8 1079.3,583.3 1091.6,585.8 1102.8,590.7 1109,599.4 1113.9,611.8 1120.1,621.7 1128.8,627.9 1131.7,635.3 1127.5,646.4 1126.3,658.8 1120.1,667.5 1109,671.2 1096.6,673.2 1084.2,668.7 1071.8,662.5 1059.5,656.3 1049.6,650.1 1042.1,641.5 1035.9,629.1 1031,620.4" fill="#fee2c5" stroke="#8a8a8a" stroke-width="0.6" stroke-linejoin="round"/>
<polygon points="1182,599.4 1188.2,593.2 1191.9,587 1196.8,582.1 1200.5,579.6 1199.3,585.8 1203,593.2 1208,600.6 1216.6,601.9 1220.3,599.4 1225.3,603.1 1232.7,606.8 1238.9,611.8 1236.4,621.7 1231.5,629.1 1225.3,634.1 1227.8,641.5 1232.7,646.4 1225.3,651.4 1222.8,661.3 1219.1,668.7 1220.3,674.9 1227.8,678.6 1222.8,679.9 1215.4,677.4 1210.4,683.6 1204.3,679.9 1200.5,682.3 1199.3,674.9 1193.1,673.7 1196.8,668.7 1200.5,663.8 1208,665 1214.2,662.5 1210.4,656.3 1204.3,650.1 1200.5,641.5 1196.8,637.8 1200.5,632.8 1198.1,624.2 1200.5,619.2 1193.1,614.3 1189.4,608.1 1183.2,605.6" fill="#fee2c5" stroke="#8a8a8a" stroke-width="0.6" stroke-linejoin="round"/>
<polygon points="1190.1,655.1 1198.1,653.4 1200.5,658.8 1196.8,663.8 1193.1,661.3" fill="#fee2c5" stroke="#8a8a8a" stroke-width="0.6" stroke-linejoin="round"/>
<polygon points="1246.3,619.2 1252.5,611.8 1256.2,616.7 1251.3,625.4" fill="#fee2c5" stroke="#8a8a8a" stroke-width="0.6" stroke-linejoin="round"/>
<polygon points="1174.6,575.9 1178.3,574.2 1180.2,577.6 1177,579.6" fill="#fee2c5" stroke="#8a8a8a" stroke-width="0.6" stroke-linejoin="round"/>
<polygon points="1029.8,756.6 1034.7,752.9 1044.6,751.6 1054.5,754.9 1063.2,760.3 1065.6,765.7 1058.2,769 1049.6,768.2 1039.7,767.7 1032.2,764" fill="#fee2c5" stroke="#8a8a8a" stroke-width="0.6" stroke-linejoin="round"/>
<polygon points="1065.6,771.4 1070.6,770.2 1071.3,773.9 1066.9,774.7" fill="#fee2c5" stroke="#8a8a8a" stroke-width="0.6" stroke-linejoin="round"/>
<polygon points="1065.6,781.3 1071.8,778.9 1075.5,775.1 1079.3,780.1 1076.8,783.8 1083,790 1090.4,786.3 1095.3,790 1102.8,792.5 1111.4,797.4 1120.1,802.4 1127.5,808.6 1131.2,814.8 1130,822.2 1126.3,827.1 1121.3,824.7 1120.1,830.8 1111.4,829.6 1101.5,828.4 1090.4,824.7 1079.3,818.5 1071.8,811 1068.1,802.4 1070.6,795 1068.1,787.5" fill="#fee2c5" stroke="#8a8a8a" stroke-width="0.6" stroke-linejoin="round"/>
<rect x="1169.11" y="742.97" width="23.2673" height="28.4653" fill="#fff" stroke="#555" stroke-width="0.6"/>
<rect x="1235.69" y="742.97" width="44.5545" height="56.9307" fill="#fff" stroke="#555" stroke-width="0.6"/>
<polygon points="1180.5,747.9 1182.7,747.4 1183,750.4 1180.7,750.6" fill="#fee2c5" stroke="#8a8a8a" stroke-width="0.6" stroke-linejoin="round"/>
<polygon points="1176.3,758.3 1179.5,757.3 1181.2,761.5 1178.3,764.8 1175.8,762.8" fill="#fee2c5" stroke="#8a8a8a" stroke-width="0.6" stroke-linejoin="round"/>
<polygon points="1241.4,750.4 1248.8,749.2 1257.5,752.4 1266.1,751.6 1267.4,754.9 1260,757.8 1250,756.6 1242.6,754.1" fill="#fee2c5" stroke="#8a8a8a" stroke-width="0.6" stroke-linejoin="round"/>
<polygon points="1265.4,789.5 1270.3,788.8 1271.3,792.5 1266.1,793" fill="#fee2c5" stroke="#8a8a8a" stroke-width="0.6" stroke-linejoin="round"/>
<polygon points="1206.7,806.1 1210.4,805.3 1210.9,809.3 1207.5,809.8" fill="#fee2c5" stroke="#8a8a8a" stroke-width="0.6" stroke-linejoin="round"/>
<polygon points="1231.5,819.7 1237.7,818.5 1242.6,820.9 1241.4,825.9 1234,825.9" fill="#fee2c5" stroke="#8a8a8a" stroke-width="0.6" stroke-linejoin="round"/>
<polygon points="1198.1,820.9 1217.9,829.6 1216.6,831.1 1198.6,822.7" fill="#fee2c5" stroke="#8a8a8a" stroke-width="0.6" stroke-linejoin="round"/>
<polygon points="1190.1,832.1 1196.8,829.6 1205.5,832.1 1209.2,835.8 1200.5,837 1191.9,835.8" fill="#fee2c5" stroke="#8a8a8a" stroke-width="0.6" stroke-linejoin="round"/>
<polygon points="1180.7,827.1 1185.7,825.9 1188.2,829.6 1184.5,832.1" fill="#fee2c5" stroke="#8a8a8a" stroke-width="0.6" stroke-linejoin="round"/>
<polygon points="1026,945.9 1029.8,941 1034.7,937.3 1042.1,942.2 1052,944.7 1061.9,942.2 1070.6,945.9 1079.3,952.1 1087.9,953.9 1091.6,953.4 1095.3,957.1 1086.7,955.8 1081.7,963.3 1076.8,968.2 1066.9,970.7 1054.5,968.2 1044.6,963.3 1034.7,955.8 1028.5,950.9" fill="#fee2c5" stroke="#8a8a8a" stroke-width="0.6" stroke-linejoin="round"/>
<polygon points="1126.3,913.8 1130,907.6 1136.2,905.1 1139.9,911.3 1133.7,913.3 1128.8,918.7" fill="#fee2c5" stroke="#8a8a8a" stroke-width="0.6" stroke-linejoin="round"/>
<polygon points="1109,984.3 1110.9,983.1 1113.9,993 1117.6,1000.4 1116.4,1001.6 1111.9,994.2" fill="#fee2c5" stroke="#8a8a8a" stroke-width="0.6" stroke-linejoin="round"/>
<polygon points="1159,874.2 1210,874.2 1208,884.1 1200.5,896.4 1188.2,906.3 1175.8,913.8 1165.9,916.2 1159,908.8" fill="#a0bbe2" stroke="#667" stroke-width="0.6" stroke-linejoin="round"/>
<polyline points="1238.9,874.2 1231.5,884.1 1222.8,896.4 1216.6,911.3 1210.4,926.1 1206.7,941 1205.5,955.8 1210.4,970.7 1216.6,985.5 1217.9,995.4 1210.4,1004.1 1203,1010.3 1200.5,1020.2 1204.3,1025.6" fill="none" stroke="#444" stroke-width="0.7" stroke-linejoin="round"/>
<polyline points="1222.8,896.4 1234,911.3 1231.5,921.2 1240.1,933.6 1236.4,948.4 1245.1,955.8 1250,963.3 1256.2,960.8 1257.5,973.2 1260,985.5 1257.5,997.9 1251.3,1002.9 1250,1011.5 1255,1015.2 1262.4,1011.5 1274.8,1010.3 1285.9,1012.8 1288.4,1019 1292.1,1017.7" fill="none" stroke="#444" stroke-width="0.7" stroke-linejoin="round"/>
<polyline points="1203,1010.3 1215.4,1009.1 1225.3,1007.8 1231.5,1015.2 1242.6,1011.5 1250,1011.5" fill="none" stroke="#444" stroke-width="0.7" stroke-linejoin="round"/>
<text transform="translate(1019,240.3) scale(1.123,1)" font-size="14.6" fill="#111">Canarias (ES)</text>
<text transform="translate(1162.4,240.3) scale(1.123,1)" font-size="14.6" fill="#111">Guadeloupe (FR)</text>
<text transform="translate(1019,403) scale(1.123,1)" font-size="14.6" fill="#111">Martinique (FR)</text>
<text transform="translate(1162.4,403) scale(1.123,1)" font-size="14.6" fill="#111">Guyane (FR)</text>
<text transform="translate(1019,565.8) scale(1.123,1)" font-size="14.6" fill="#111">Réunion (FR)</text>
<text transform="translate(1162.4,565.8) scale(1.123,1)" font-size="14.6" fill="#111">Mayotte (FR)</text>
<text transform="translate(1019,728.2) scale(1.123,1)" font-size="14.6" fill="#111">Malta</text>
<text transform="translate(1162.4,728.2) scale(1.123,1)" font-size="14.6" fill="#111">Açores (PT)</text>
<text transform="translate(1019,890.8) scale(1.123,1)" font-size="14.6" fill="#111">Madeira (PT)</text>
<text transform="translate(1162.4,890.8) scale(1.123,1)" font-size="14.6" fill="#111">Liechtenstein</text>
<g stroke="#444" stroke-width="0.7" fill="none"><rect x="1021.5" y="346.3" width="27" height="4.95"/><line x1="1021.5" y1="348.82" x2="1048.5" y2="348.82"/><line x1="1021.5" y1="346.3" x2="1021.5" y2="355.3"/></g>
<line x1="1048.5" y1="346.3" x2="1048.5" y2="355.3" stroke="#444" stroke-width="0.7"/>
<text x="1018.3" y="370.8" font-size="11.8" fill="#111">0</text>
<text x="1049.5" y="370.8" font-size="11.8" fill="#111" text-anchor="middle">100</text>
<g stroke="#444" stroke-width="0.7" fill="none"><rect x="1165" y="346.3" width="32" height="4.95"/><line x1="1165" y1="348.82" x2="1197" y2="348.82"/><line x1="1165" y1="346.3" x2="1165" y2="355.3"/></g>
<line x1="1197" y1="346.3" x2="1197" y2="355.3" stroke="#444" stroke-width="0.7"/>
<text x="1161.8" y="370.8" font-size="11.8" fill="#111">0</text>
<text x="1200" y="370.8" font-size="11.8" fill="#111" text-anchor="middle">25</text>
<g stroke="#444" stroke-width="0.7" fill="none"><rect x="1021.5" y="509" width="35" height="4.95"/><line x1="1021.5" y1="511.52" x2="1056.5" y2="511.52"/><line x1="1021.5" y1="509" x2="1021.5" y2="518"/></g>
<line x1="1056.5" y1="509" x2="1056.5" y2="518" stroke="#444" stroke-width="0.7"/>
<text x="1018.3" y="533.5" font-size="11.8" fill="#111">0</text>
<text x="1054.5" y="533.5" font-size="11.8" fill="#111" text-anchor="middle">20</text>
<g stroke="#444" stroke-width="0.7" fill="none"><rect x="1250.5" y="509" width="27" height="4.95"/><line x1="1250.5" y1="511.52" x2="1277.5" y2="511.52"/><line x1="1250.5" y1="509" x2="1250.5" y2="518"/></g>
<line x1="1277.5" y1="509" x2="1277.5" y2="518" stroke="#444" stroke-width="0.7"/>
<text x="1247.3" y="533.5" font-size="11.8" fill="#111">0</text>
<text x="1280.5" y="533.5" font-size="11.8" fill="#111" text-anchor="middle">100</text>
<g stroke="#444" stroke-width="0.7" fill="none"><rect x="1021.5" y="671.5" width="31" height="4.95"/><line x1="1021.5" y1="674.02" x2="1052.5" y2="674.02"/><line x1="1021.5" y1="671.5" x2="1021.5" y2="680.5"/></g>
<line x1="1052.5" y1="671.5" x2="1052.5" y2="680.5" stroke="#444" stroke-width="0.7"/>
<text x="1018.3" y="696" font-size="11.8" fill="#111">0</text>
<text x="1053.5" y="696" font-size="11.8" fill="#111" text-anchor="middle">20</text>
<g stroke="#444" stroke-width="0.7" fill="none"><rect x="1238" y="671.5" width="42" height="4.95"/><line x1="1238" y1="674.02" x2="1280" y2="674.02"/><line x1="1238" y1="671.5" x2="1238" y2="680.5"/></g>
<line x1="1280" y1="671.5" x2="1280" y2="680.5" stroke="#444" stroke-width="0.7"/>
<text x="1234.8" y="696" font-size="11.8" fill="#111">0</text>
<text x="1281" y="696" font-size="11.8" fill="#111" text-anchor="middle">15</text>
<g stroke="#444" stroke-width="0.7" fill="none"><rect x="1021.5" y="834.5" width="29.5" height="4.95"/><line x1="1021.5" y1="837.02" x2="1051" y2="837.02"/><line x1="1021.5" y1="834.5" x2="1021.5" y2="843.5"/></g>
<line x1="1051" y1="834.5" x2="1051" y2="843.5" stroke="#444" stroke-width="0.7"/>
<text x="1018.3" y="859" font-size="11.8" fill="#111">0</text>
<text x="1052" y="859" font-size="11.8" fill="#111" text-anchor="middle">10</text>
<g stroke="#444" stroke-width="0.7" fill="none"><rect x="1258" y="834.5" width="22.5" height="4.95"/><line x1="1258" y1="837.02" x2="1280.5" y2="837.02"/><line x1="1258" y1="834.5" x2="1258" y2="843.5"/></g>
<line x1="1280.5" y1="834.5" x2="1280.5" y2="843.5" stroke="#444" stroke-width="0.7"/>
<text x="1254.8" y="859" font-size="11.8" fill="#111">0</text>
<text x="1281.5" y="859" font-size="11.8" fill="#111" text-anchor="middle">50</text>
<g stroke="#444" stroke-width="0.7" fill="none"><rect x="1021.5" y="997.3" width="27" height="4.95"/><line x1="1021.5" y1="999.82" x2="1048.5" y2="999.82"/><line x1="1021.5" y1="997.3" x2="1021.5" y2="1006.3"/></g>
<line x1="1048.5" y1="997.3" x2="1048.5" y2="1006.3" stroke="#444" stroke-width="0.7"/>
<text x="1018.3" y="1021.8" font-size="11.8" fill="#111">0</text>
<text x="1049.5" y="1021.8" font-size="11.8" fill="#111" text-anchor="middle">20</text>
<g stroke="#444" stroke-width="0.7" fill="none"><rect x="1164.5" y="997.3" width="24" height="4.95"/><line x1="1164.5" y1="999.82" x2="1188.5" y2="999.82"/><line x1="1164.5" y1="997.3" x2="1164.5" y2="1006.3"/></g>
<line x1="1188.5" y1="997.3" x2="1188.5" y2="1006.3" stroke="#444" stroke-width="0.7"/>
<text x="1161.3" y="1021.8" font-size="11.8" fill="#111">0</text>
<text x="1188.5" y="1021.8" font-size="11.8" fill="#111" text-anchor="middle">5</text>
<rect x="1159.3" y="1309.6" width="132.4" height="34.7" fill="#fff"/>
<text x="165" y="147.6" font-size="39.5" font-weight="bold" font-style="normal" fill="#000" text-anchor="start" textLength="832" lengthAdjust="spacingAndGlyphs" stroke="#000" stroke-width="0.7">Deaths in Europe in 2020 compared to 2016-2019 average</text>
<text x="165" y="193.2" font-size="39.5" font-weight="bold" font-style="italic" fill="#000" text-anchor="start" textLength="391" lengthAdjust="spacingAndGlyphs" stroke="#000" stroke-width="0.7">(by NUTS 3 regions) Week 15</text>
<text x="304" y="267.5" font-size="28.5" font-weight="normal" font-style="normal" fill="#000" text-anchor="start" textLength="256" lengthAdjust="spacingAndGlyphs">average 2016-2019 = 100</text>
<rect x="304" y="279.2" width="49.5" height="24.5" fill="#a0bbe2"/>
<text x="368.5" y="302.5" font-size="28.5" font-weight="normal" font-style="normal" fill="#000" text-anchor="start" textLength="50" lengthAdjust="spacingAndGlyphs">&lt; 100</text>
<rect x="304" y="314.25" width="49.5" height="24.5" fill="#fee2c5"/>
<text x="368.5" y="337.55" font-size="28.5" font-weight="normal" font-style="normal" fill="#000" text-anchor="start" textLength="104" lengthAdjust="spacingAndGlyphs">100 – &lt; 200</text>
<rect x="304" y="349.3" width="49.5" height="24.5" fill="#fbb45c"/>
<text x="368.5" y="372.6" font-size="28.5" font-weight="normal" font-style="normal" fill="#000" text-anchor="start" textLength="104" lengthAdjust="spacingAndGlyphs">200 – &lt; 300</text>
<rect x="304" y="384.35" width="49.5" height="24.5" fill="#f37021"/>
<text x="368.5" y="407.65" font-size="28.5" font-weight="normal" font-style="normal" fill="#000" text-anchor="start" textLength="67" lengthAdjust="spacingAndGlyphs">&gt;= 300</text>
<g stroke="#333" stroke-width="0.8" fill="none"><rect x="146.6" y="1371" width="199.8" height="13.4"/><line x1="146.6" y1="1378" x2="196.6" y2="1378"/><line x1="246.6" y1="1378" x2="296.6" y2="1378"/><line x1="146.6" y1="1371" x2="146.6" y2="1397.5"/><line x1="196.6" y1="1371" x2="196.6" y2="1397.5"/><line x1="246.6" y1="1371" x2="246.6" y2="1397.5"/><line x1="296.6" y1="1371" x2="296.6" y2="1397.5"/><line x1="346.4" y1="1371" x2="346.4" y2="1397.5"/></g>
<text x="146.6" y="1418" font-size="21.5" font-weight="normal" font-style="normal" fill="#000" text-anchor="middle" textLength="8.5" lengthAdjust="spacingAndGlyphs">0</text>
<text x="196" y="1418" font-size="21.5" font-weight="normal" font-style="normal" fill="#000" text-anchor="middle" textLength="27.5" lengthAdjust="spacingAndGlyphs">200</text>
<text x="246.2" y="1418" font-size="21.5" font-weight="normal" font-style="normal" fill="#000" text-anchor="middle" textLength="27.5" lengthAdjust="spacingAndGlyphs">400</text>
<text x="296" y="1418" font-size="21.5" font-weight="normal" font-style="normal" fill="#000" text-anchor="middle" textLength="27.5" lengthAdjust="spacingAndGlyphs">600</text>
<text x="331.5" y="1418" font-size="21.5" font-weight="normal" font-style="normal" fill="#000" text-anchor="start" textLength="55.5" lengthAdjust="spacingAndGlyphs">800 km</text>
<text x="165.3" y="1447.6" font-size="21.5" font-weight="normal" font-style="normal" fill="#000" text-anchor="start" textLength="160.6" lengthAdjust="spacingAndGlyphs">2020 data provisional</text>
<text x="756.6" y="1395.9" font-size="22.5" font-weight="normal" font-style="normal" fill="#000" text-anchor="start" textLength="528" lengthAdjust="spacingAndGlyphs">Administrative boundaries: © EuroGeographics © UN–FAO © Turkstat</text>
<text x="756.6" y="1418.5" font-size="22.5" font-weight="normal" font-style="normal" fill="#000" text-anchor="start" textLength="306" lengthAdjust="spacingAndGlyphs">Cartography: Eurostat – IMAGE, 10/2020</text>
<text x="523" y="1927" font-size="34.5" fill="#8e8e8e" textLength="199" lengthAdjust="spacingAndGlyphs" style="font-weight:normal">ec.europa.eu/</text>
<text x="722.5" y="1927" font-size="34.5" font-weight="bold" fill="#707070" textLength="129" lengthAdjust="spacingAndGlyphs">eurostat</text>
<rect x="856.4" y="1904.7" width="32.7" height="22.2" fill="#0b4ea2"/><circle cx="872.75" cy="1908.92" r="1.00" fill="#ffd617"/><circle cx="876.19" cy="1909.84" r="1.00" fill="#ffd617"/><circle cx="878.71" cy="1912.36" r="1.00" fill="#ffd617"/><circle cx="879.63" cy="1915.80" r="1.00" fill="#ffd617"/><circle cx="878.71" cy="1919.24" r="1.00" fill="#ffd617"/><circle cx="876.19" cy="1921.76" r="1.00" fill="#ffd617"/><circle cx="872.75" cy="1922.68" r="1.00" fill="#ffd617"/><circle cx="869.31" cy="1921.76" r="1.00" fill="#ffd617"/><circle cx="866.79" cy="1919.24" r="1.00" fill="#ffd617"/><circle cx="865.87" cy="1915.80" r="1.00" fill="#ffd617"/><circle cx="866.79" cy="1912.36" r="1.00" fill="#ffd617"/><circle cx="869.31" cy="1909.84" r="1.00" fill="#ffd617"/>
<text x="1168.5" y="1333.5" font-size="23" font-weight="bold" fill="#707070" textLength="88" lengthAdjust="spacingAndGlyphs">eurostat</text>
<rect x="1259.5" y="1319.5" width="23" height="15" fill="#0b4ea2"/><circle cx="1271.00" cy="1322.35" r="0.67" fill="#ffd617"/><circle cx="1273.33" cy="1322.97" r="0.67" fill="#ffd617"/><circle cx="1275.03" cy="1324.67" r="0.67" fill="#ffd617"/><circle cx="1275.65" cy="1327.00" r="0.67" fill="#ffd617"/><circle cx="1275.03" cy="1329.33" r="0.67" fill="#ffd617"/><circle cx="1273.33" cy="1331.03" r="0.67" fill="#ffd617"/><circle cx="1271.00" cy="1331.65" r="0.67" fill="#ffd617"/><circle cx="1268.67" cy="1331.03" r="0.67" fill="#ffd617"/><circle cx="1266.97" cy="1329.33" r="0.67" fill="#ffd617"/><circle cx="1266.35" cy="1327.00" r="0.67" fill="#ffd617"/><circle cx="1266.97" cy="1324.67" r="0.67" fill="#ffd617"/><circle cx="1268.67" cy="1322.97" r="0.67" fill="#ffd617"/>
</svg>
</body></html>
